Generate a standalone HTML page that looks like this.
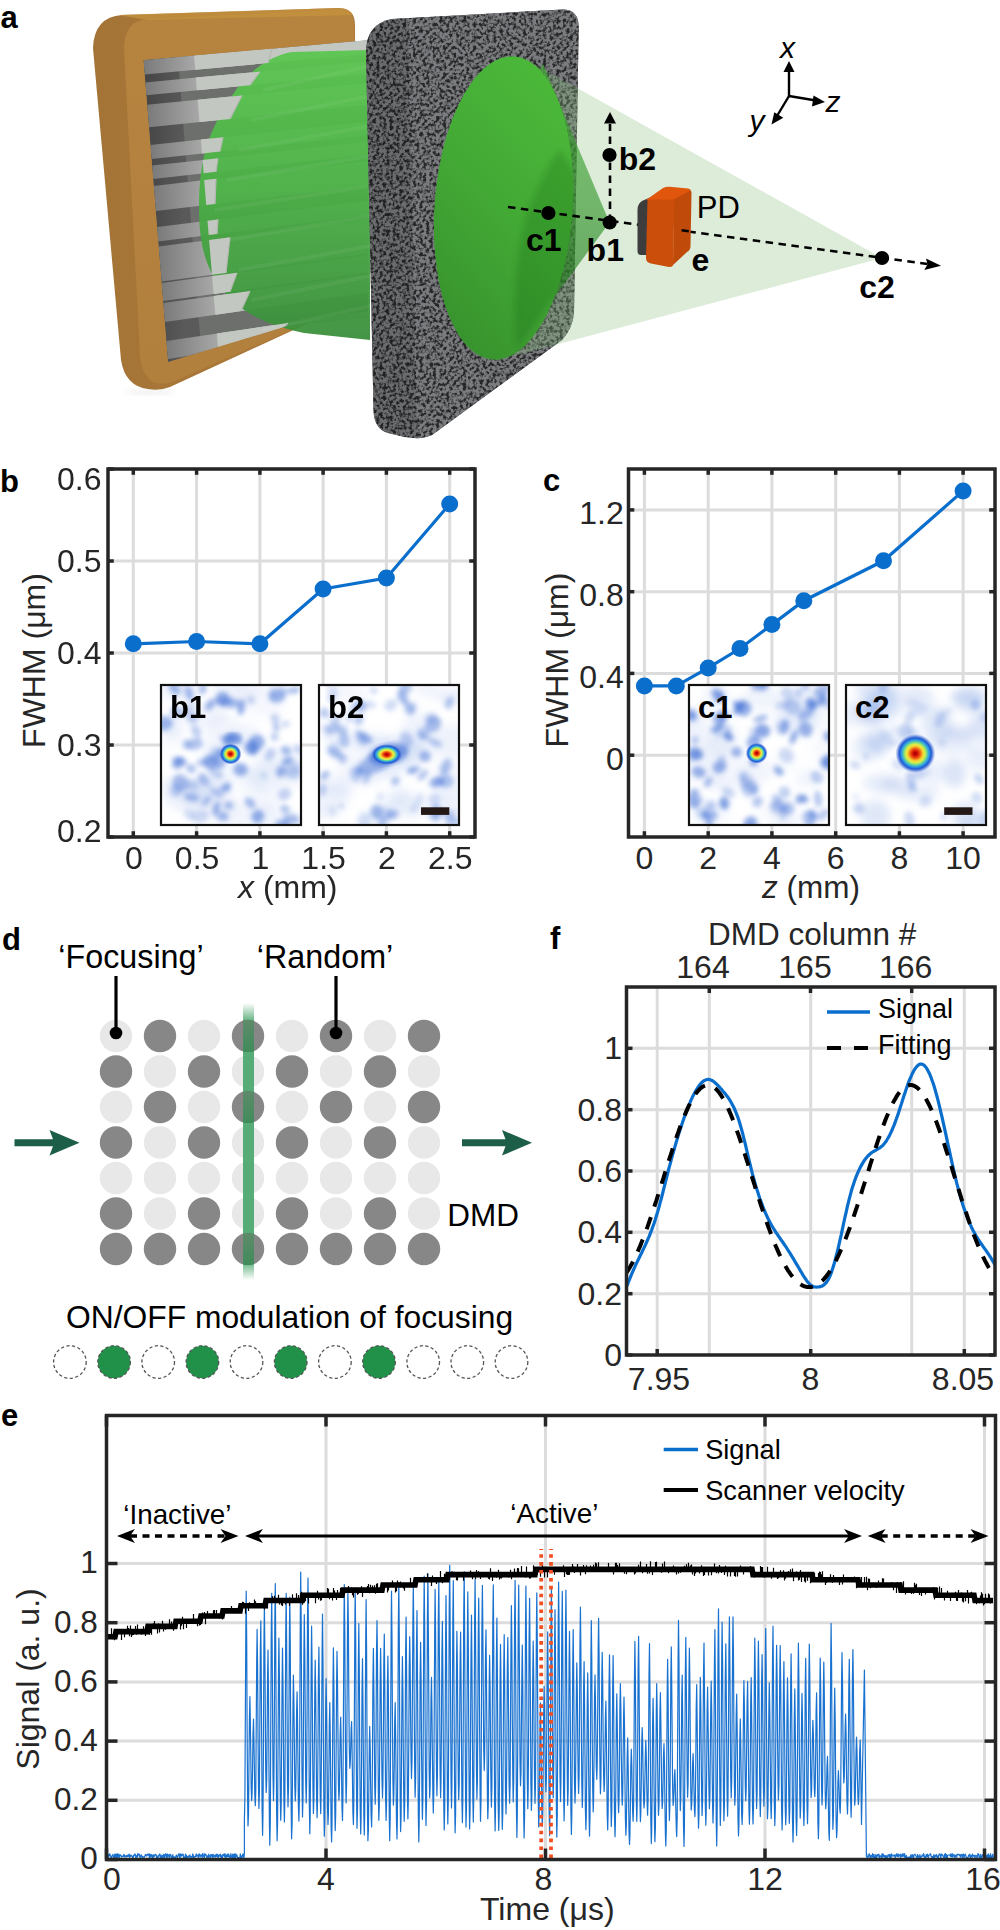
<!DOCTYPE html>
<html><head><meta charset="utf-8"><style>
html,body{margin:0;padding:0;background:#fff;width:1000px;height:1930px;overflow:hidden;}
svg{display:block;}
text{font-family:"Liberation Sans",sans-serif;}
</style></head><body>
<svg width="1000" height="1930" viewBox="0 0 1000 1930" font-family="Liberation Sans, sans-serif">
<rect width="1000" height="1930" fill="#fff"/>
<text x="0.5" y="28.0" font-size="31" text-anchor="start" font-weight="bold" fill="#000" >a</text>
<defs>
<linearGradient id="frameSide" x1="0" y1="0" x2="1" y2="0"><stop offset="0" stop-color="#a47436"/><stop offset="1" stop-color="#ad7b3b"/></linearGradient>
<linearGradient id="frameFront" x1="0" y1="0" x2="0" y2="1"><stop offset="0" stop-color="#b6843f"/><stop offset="1" stop-color="#b2803d"/></linearGradient>
<linearGradient id="stackBg" x1="0" y1="0" x2="1" y2="0"><stop offset="0" stop-color="#4a4a4a"/><stop offset="0.5" stop-color="#6e6e6e"/><stop offset="1" stop-color="#7a7d7a"/></linearGradient>
<linearGradient id="slab" x1="0" y1="0" x2="1" y2="0"><stop offset="0" stop-color="#8e8e8e"/><stop offset="0.45" stop-color="#b9bbb7"/><stop offset="1" stop-color="#c8ccc6"/></linearGradient>
<linearGradient id="beam" x1="0" y1="0" x2="0" y2="1"><stop offset="0" stop-color="#5bc650"/><stop offset="0.45" stop-color="#4cb246"/><stop offset="1" stop-color="#3b8f3c"/></linearGradient>
<linearGradient id="ellG" x1="0.75" y1="0" x2="0.25" y2="1"><stop offset="0" stop-color="#4cb93a"/><stop offset="0.5" stop-color="#43a935"/><stop offset="1" stop-color="#37922d"/></linearGradient>
<linearGradient id="innerCone" x1="0" y1="64" x2="0" y2="348" gradientUnits="userSpaceOnUse"><stop offset="0" stop-color="#35a828"/><stop offset="0.5" stop-color="#2a9020"/><stop offset="1" stop-color="#0c6a0c"/></linearGradient>
<filter id="speckle" x="0" y="0" width="1" height="1" color-interpolation-filters="sRGB">
<feTurbulence type="fractalNoise" baseFrequency="0.3" numOctaves="2" seed="9" result="n"/>
<feColorMatrix in="n" type="matrix" values="4.0 0 0 0 -1.3  4.0 0 0 0 -1.3  4.0 0 0 0 -1.3  0 0 0 0 1" result="c"/>
<feComponentTransfer in="c"><feFuncR type="linear" slope="0.33" intercept="0.15"/><feFuncG type="linear" slope="0.34" intercept="0.15"/><feFuncB type="linear" slope="0.345" intercept="0.155"/></feComponentTransfer>
</filter>
<filter id="blur1"><feGaussianBlur stdDeviation="1.2"/></filter>
<filter id="blur3"><feGaussianBlur stdDeviation="3"/></filter>
</defs>
<ellipse cx="150" cy="392" rx="25" ry="3" fill="#000" opacity="0.06" filter="url(#blur3)"/>
<path d="M93,48 Q94,17 122,15 L338,8 Q355,8 355,25 L356,300 L300,327 L170,387 Q160,391 148,389 Q125,386 121,360 Z" fill="url(#frameSide)"/>
<path d="M124,48 Q125,20 148,19 L340,10 Q354,10 354,26 L356,300 L300,326 L175,381 Q160,387 150,380 Q141,372 140,355 Z" fill="url(#frameFront)"/>
<path d="M118,15 L338,8 Q350,8 353,15 L148,20 Z" fill="#c8943f" opacity="0.7"/>
<linearGradient id="stackL" x1="143" y1="0" x2="185" y2="0" gradientUnits="userSpaceOnUse"><stop offset="0" stop-color="#444444"/><stop offset="1" stop-color="#5a5a5a"/></linearGradient>
<linearGradient id="slabSide" x1="0" y1="0" x2="1" y2="0"><stop offset="0" stop-color="#7a7a7a"/><stop offset="1" stop-color="#a8a8a8"/></linearGradient>
<clipPath id="stackclip"><path d="M143.5,60 L368,40 L368,318 L290,325 L168,362 Z"/></clipPath>
<g clip-path="url(#stackclip)">
<path d="M143.5,60 L368,40 L368,318 L290,325 L168,362 Z" fill="#6c6f6c"/>
<path d="M143.5,60 L178,57 L202,360 L168,362 Z" fill="url(#stackL)"/>
<path d="M194.5,55.5 L370,39.9 L370,53.7 L195.7,69.7 Z" fill="#c3c7c1"/>
<path d="M143.5,60 L194.5,55.5 L195.7,69.7 L144.7,74.4 Z" fill="url(#slabSide)"/>
<path d="M196.3,77.6 L370,61.4 L370,73.7 L197.4,90.3 Z" fill="#c3c7c1"/>
<path d="M145.3,82.4 L196.3,77.6 L197.4,90.3 L146.4,95.2 Z" fill="url(#slabSide)"/>
<path d="M198.1,99.8 L370,82.9 L370,104.4 L200.0,121.9 Z" fill="#c3c7c1"/>
<path d="M147.1,104.8 L198.1,99.8 L200.0,121.9 L149.0,127.2 Z" fill="url(#slabSide)"/>
<path d="M201.4,139.6 L370,121.6 L370,135.0 L202.5,153.4 Z" fill="#c3c7c1"/>
<path d="M150.4,145 L201.4,139.6 L202.5,153.4 L151.5,159 Z" fill="url(#slabSide)"/>
<path d="M203.1,159.9 L370,141.4 L370,154.3 L204.2,173.2 Z" fill="#c3c7c1"/>
<path d="M152.1,165.6 L203.1,159.9 L204.2,173.2 L153.2,179 Z" fill="url(#slabSide)"/>
<path d="M204.7,180.1 L370,161.1 L370,185.2 L206.8,204.9 Z" fill="#c3c7c1"/>
<path d="M153.7,186 L204.7,180.1 L206.8,204.9 L155.8,211 Z" fill="url(#slabSide)"/>
<path d="M208.0,220.7 L370,200.6 L370,214.7 L209.2,235.1 Z" fill="#c3c7c1"/>
<path d="M157.0,227 L208.0,220.7 L209.2,235.1 L158.2,241.6 Z" fill="url(#slabSide)"/>
<path d="M209.6,239.9 L370,219.3 L370,253.4 L212.5,274.7 Z" fill="#c3c7c1"/>
<path d="M158.6,246.4 L209.6,239.9 L212.5,274.7 L161.5,281.6 Z" fill="url(#slabSide)"/>
<path d="M212.6,276.1 L370,254.7 L370,272.1 L214.1,293.9 Z" fill="#c3c7c1"/>
<path d="M161.6,283 L212.6,276.1 L214.1,293.9 L163.1,301 Z" fill="url(#slabSide)"/>
<path d="M214.2,295.9 L370,274.1 L370,292.5 L215.8,314.7 Z" fill="#c3c7c1"/>
<path d="M163.2,303 L214.2,295.9 L215.8,314.7 L164.8,322 Z" fill="url(#slabSide)"/>
<path d="M217.3,333.5 L370,310.9 L370,328.3 L218.8,351.3 Z" fill="#c3c7c1"/>
<path d="M166.3,341 L217.3,333.5 L218.8,351.3 L167.8,359 Z" fill="url(#slabSide)"/>
</g>
<path d="M292,52 C270,56 250,70 236,90 C224,107 214,125 208,142 C201,162 199,185 199,208 C199,232 202,250 208,265 C215,282 226,296 240,307 C256,319 275,327 304,333 L370,340 L370,50 Z" fill="url(#beam)" opacity="0.95"/>
<g clip-path="url(#stackclip)">
<path d="M194.0,55.5 L272,48.6 L268,63.1 L195.2,69.7 Z" fill="#c3c7c1"/>
<path d="M272,48.6 L268,63.1" stroke="#b4b8b2" stroke-width="1.2"/>
<path d="M195.8,77.6 L260,71.7 L250,85.2 L196.9,90.3 Z" fill="#c3c7c1"/>
<path d="M260,71.7 L250,85.2" stroke="#b4b8b2" stroke-width="1.2"/>
<path d="M197.6,99.8 L242,95.5 L230,118.9 L199.5,121.9 Z" fill="#c3c7c1"/>
<path d="M242,95.5 L230,118.9" stroke="#b4b8b2" stroke-width="1.2"/>
<path d="M200.9,139.6 L223,137.3 L220,151.5 L202.0,153.4 Z" fill="#c3c7c1"/>
<path d="M223,137.3 L220,151.5" stroke="#b4b8b2" stroke-width="1.2"/>
<path d="M202.6,159.9 L218,158.3 L216,171.8 L203.7,173.2 Z" fill="#c3c7c1"/>
<path d="M218,158.3 L216,171.8" stroke="#b4b8b2" stroke-width="1.2"/>
<path d="M204.2,180.1 L216,178.8 L215,203.9 L206.2,204.9 Z" fill="#c3c7c1"/>
<path d="M216,178.8 L215,203.9" stroke="#b4b8b2" stroke-width="1.2"/>
<path d="M207.5,220.7 L218,219.4 L217,234.1 L208.7,235.1 Z" fill="#c3c7c1"/>
<path d="M218,219.4 L217,234.1" stroke="#b4b8b2" stroke-width="1.2"/>
<path d="M209.1,239.9 L230,237.3 L226,272.9 L212.0,274.7 Z" fill="#c3c7c1"/>
<path d="M230,237.3 L226,272.9" stroke="#b4b8b2" stroke-width="1.2"/>
<path d="M212.1,276.1 L237,272.8 L230,291.7 L213.6,293.9 Z" fill="#c3c7c1"/>
<path d="M237,272.8 L230,291.7" stroke="#b4b8b2" stroke-width="1.2"/>
<path d="M213.7,295.9 L250,290.9 L241,311.0 L215.3,314.7 Z" fill="#c3c7c1"/>
<path d="M250,290.9 L241,311.0" stroke="#b4b8b2" stroke-width="1.2"/>
<path d="M216.8,333.5 L288,323.0 L268,343.8 L218.3,351.3 Z" fill="#c3c7c1"/>
<path d="M288,323.0 L268,343.8" stroke="#b4b8b2" stroke-width="1.2"/>
</g>
<path d="M263,88 L370,64 L370,68 L263,92 Z" fill="#ffffff" opacity="0.05"/>
<path d="M251,118 L370,94 L370,98 L251,122 Z" fill="#ffffff" opacity="0.05"/>
<path d="M239,148 L370,124 L370,128 L239,152 Z" fill="#ffffff" opacity="0.05"/>
<path d="M227,178 L370,154 L370,158 L227,182 Z" fill="#ffffff" opacity="0.05"/>
<path d="M215,208 L370,184 L370,188 L215,212 Z" fill="#ffffff" opacity="0.05"/>
<path d="M227,238 L370,214 L370,218 L227,242 Z" fill="#ffffff" opacity="0.05"/>
<path d="M239,268 L370,244 L370,248 L239,272 Z" fill="#ffffff" opacity="0.05"/>
<path d="M251,298 L370,274 L370,278 L251,302 Z" fill="#ffffff" opacity="0.05"/>
<path d="M263,328 L370,304 L370,308 L263,332 Z" fill="#ffffff" opacity="0.05"/>
<defs><clipPath id="plateclip"><path d="M366,52 Q366,24 392,19 L562,9.5 Q578,9 578.7,26 L574,312 Q573,328 562,340 L432,435 Q422,440 405,437 L388,433 Q374,429 373.5,410 Z"/></clipPath></defs>
<path d="M366,52 Q366,24 392,19 L562,9.5 Q578,9 578.7,26 L574,312 Q573,328 562,340 L432,435 Q422,440 405,437 L388,433 Q374,429 373.5,410 Z" fill="#626367"/>
<g clip-path="url(#plateclip)"><rect x="360" y="5" width="225" height="440" fill="#66676b" filter="url(#speckle)"/></g>
<path d="M366,52 Q366,24 392,19 L408,18 L417,437 L405,437 L388,433 Q374,429 373.5,410 Z" fill="#000" opacity="0.13"/>
<path d="M528.2,60.7 L882,258 L503.6,358.6 L503.6,358.6 L506.8,357.6 L510.0,356.2 L513.2,354.6 L516.4,352.6 L519.6,350.3 L522.7,347.7 L525.8,344.8 L528.8,341.7 L531.8,338.2 L534.7,334.4 L537.5,330.4 L540.3,326.2 L543.0,321.6 L545.6,316.9 L548.1,311.8 L550.6,306.6 L552.9,301.2 L555.1,295.5 L557.2,289.7 L559.2,283.7 L561.1,277.5 L562.8,271.2 L564.5,264.8 L566.0,258.2 L567.3,251.5 L568.5,244.8 L569.6,237.9 L570.6,231.0 L571.4,224.0 L572.0,217.0 L572.5,210.0 L572.9,203.0 L573.1,196.0 L573.1,189.0 L573.1,182.0 L572.8,175.2 L572.4,168.3 L571.9,161.6 L571.2,155.0 L570.4,148.4 L569.4,142.1 L568.3,135.8 L567.1,129.7 L565.7,123.8 L564.2,118.0 L562.5,112.5 L560.7,107.1 L558.8,102.0 L556.8,97.1 L554.7,92.4 L552.4,88.0 L550.1,83.8 L547.7,79.9 L545.1,76.3 L542.5,72.9 L539.8,69.9 L537.0,67.1 L534.1,64.7 L531.2,62.5 L528.2,60.7 Z" fill="#8cc080" opacity="0.3"/>
<path d="M543,64 L609.5,222.5 L517,348 C512,300 512,200 520,140 C526,100 534,78 543,64 Z" fill="url(#innerCone)" opacity="0.6"/>
<path d="M572.3,212.8 L571.7,220.8 L570.8,228.8 L569.8,236.7 L568.6,244.5 L567.2,252.2 L565.6,259.8 L563.9,267.3 L561.9,274.6 L559.9,281.7 L557.6,288.5 L555.2,295.2 L552.7,301.7 L550.0,307.8 L547.2,313.7 L544.3,319.3 L541.3,324.6 L538.1,329.5 L534.9,334.2 L531.6,338.4 L528.2,342.3 L524.7,345.9 L521.2,349.0 L517.6,351.8 L514.0,354.1 L510.3,356.1 L506.6,357.6 L503.0,358.7 L499.3,359.4 L495.6,359.7 L492.0,359.6 L488.4,359.0 L484.8,358.0 L481.3,356.6 L477.8,354.8 L474.5,352.5 L471.2,349.9 L468.0,346.9 L464.8,343.4 L461.8,339.6 L459.0,335.5 L456.2,331.0 L453.6,326.1 L451.1,320.9 L448.7,315.4 L446.5,309.6 L444.5,303.5 L442.6,297.2 L440.9,290.6 L439.4,283.7 L438.0,276.7 L436.9,269.5 L435.9,262.0 L435.1,254.5 L434.5,246.8 L434.1,239.0 L433.9,231.1 L433.9,223.2 L434.0,215.2 L434.4,207.2 L435.0,199.2 L435.7,191.2 L436.7,183.3 L437.8,175.4 L439.1,167.6 L440.6,160.0 L442.3,152.4 L444.1,145.1 L446.1,137.9 L448.2,130.9 L450.6,124.1 L453.0,117.5 L455.6,111.2 L458.4,105.2 L461.2,99.5 L464.2,94.0 L467.3,88.9 L470.5,84.1 L473.8,79.6 L477.1,75.6 L480.6,71.8 L484.1,68.5 L487.6,65.5 L491.2,63.0 L494.9,60.8 L498.5,59.1 L502.2,57.8 L505.9,56.9 L509.5,56.4 L513.2,56.3 L516.8,56.7 L520.4,57.5 L524.0,58.7 L527.4,60.3 L530.9,62.3 L534.2,64.7 L537.5,67.6 L540.6,70.8 L543.7,74.4 L546.6,78.4 L549.4,82.7 L552.1,87.4 L554.7,92.5 L557.1,97.8 L559.4,103.5 L561.5,109.4 L563.5,115.6 L565.2,122.1 L566.9,128.8 L568.3,135.8 L569.6,142.9 L570.6,150.2 L571.5,157.7 L572.2,165.3 L572.7,173.1 L573.0,180.9 L573.1,188.8 L573.1,196.8 L572.8,204.8 L572.3,212.8 Z" fill="url(#ellG)"/>
<clipPath id="ellclip"><path d="M572.3,212.8 L571.7,220.8 L570.8,228.8 L569.8,236.7 L568.6,244.5 L567.2,252.2 L565.6,259.8 L563.9,267.3 L561.9,274.6 L559.9,281.7 L557.6,288.5 L555.2,295.2 L552.7,301.7 L550.0,307.8 L547.2,313.7 L544.3,319.3 L541.3,324.6 L538.1,329.5 L534.9,334.2 L531.6,338.4 L528.2,342.3 L524.7,345.9 L521.2,349.0 L517.6,351.8 L514.0,354.1 L510.3,356.1 L506.6,357.6 L503.0,358.7 L499.3,359.4 L495.6,359.7 L492.0,359.6 L488.4,359.0 L484.8,358.0 L481.3,356.6 L477.8,354.8 L474.5,352.5 L471.2,349.9 L468.0,346.9 L464.8,343.4 L461.8,339.6 L459.0,335.5 L456.2,331.0 L453.6,326.1 L451.1,320.9 L448.7,315.4 L446.5,309.6 L444.5,303.5 L442.6,297.2 L440.9,290.6 L439.4,283.7 L438.0,276.7 L436.9,269.5 L435.9,262.0 L435.1,254.5 L434.5,246.8 L434.1,239.0 L433.9,231.1 L433.9,223.2 L434.0,215.2 L434.4,207.2 L435.0,199.2 L435.7,191.2 L436.7,183.3 L437.8,175.4 L439.1,167.6 L440.6,160.0 L442.3,152.4 L444.1,145.1 L446.1,137.9 L448.2,130.9 L450.6,124.1 L453.0,117.5 L455.6,111.2 L458.4,105.2 L461.2,99.5 L464.2,94.0 L467.3,88.9 L470.5,84.1 L473.8,79.6 L477.1,75.6 L480.6,71.8 L484.1,68.5 L487.6,65.5 L491.2,63.0 L494.9,60.8 L498.5,59.1 L502.2,57.8 L505.9,56.9 L509.5,56.4 L513.2,56.3 L516.8,56.7 L520.4,57.5 L524.0,58.7 L527.4,60.3 L530.9,62.3 L534.2,64.7 L537.5,67.6 L540.6,70.8 L543.7,74.4 L546.6,78.4 L549.4,82.7 L552.1,87.4 L554.7,92.5 L557.1,97.8 L559.4,103.5 L561.5,109.4 L563.5,115.6 L565.2,122.1 L566.9,128.8 L568.3,135.8 L569.6,142.9 L570.6,150.2 L571.5,157.7 L572.2,165.3 L572.7,173.1 L573.0,180.9 L573.1,188.8 L573.1,196.8 L572.8,204.8 L572.3,212.8 Z"/></clipPath>
<g clip-path="url(#ellclip)"><path d="M560,150 L609.5,222.5 L517,348 C512,320 515,260 525,220 C535,190 548,165 560,150 Z" fill="#0f5a0c" opacity="0.22" filter="url(#blur3)"/></g>
<line x1="508" y1="207" x2="930" y2="264.4" stroke="#000" stroke-width="2.6" stroke-dasharray="7.5,5.5"/>
<path d="M941,265.8 L926,258.4 L927.6,264.2 L924.3,270 Z" fill="#000"/>
<line x1="610" y1="222" x2="610" y2="124" stroke="#000" stroke-width="2.6" stroke-dasharray="7.5,5.5"/>
<path d="M610,112 L604,123.5 L616,123.5 Z" fill="#000"/>
<path d="M637.5,210 Q637.5,203 643,200.5 L650,197.5 L650,255 L641,255 Q637.5,255 637.5,251 Z" fill="#3d3d3d"/>
<path d="M646,200 L663,188 Q666,186.5 670,186.8 L688,188.5 Q692,189 690,192 L675,200 Z" fill="#e0560c"/>
<path d="M674,199.5 L690,190.5 Q691.5,190 691.5,193 L690.5,246 Q690.5,250 687,252 L673,265 Z" fill="#c04a0a"/>
<path d="M647.5,199.5 L674.5,199.5 L673,265.5 Q672,267 669,267 L651,263.5 Q646,262.5 646,258 Z" fill="#cc4e0b"/>
<line x1="681.6" y1="230.3" x2="688.8" y2="231.2" stroke="#000" stroke-width="2.6"/>
<circle cx="548.4" cy="213" r="7.1" fill="#000"/>
<circle cx="609.7" cy="222.5" r="7.1" fill="#000"/>
<circle cx="609.5" cy="155" r="7.1" fill="#000"/>
<circle cx="882" cy="258" r="7.1" fill="#000"/>
<text x="526.0" y="251.2" font-size="32" text-anchor="start" font-weight="bold" fill="#000" >c1</text>
<text x="586.6" y="261.0" font-size="32" text-anchor="start" font-weight="bold" fill="#000" >b1</text>
<text x="618.8" y="170.0" font-size="32" text-anchor="start" font-weight="bold" fill="#000" >b2</text>
<text x="859.3" y="298.0" font-size="32" text-anchor="start" font-weight="bold" fill="#000" >c2</text>
<text x="691.5" y="271.0" font-size="32" text-anchor="start" font-weight="bold" fill="#000" >e</text>
<text x="696.8" y="217.7" font-size="31" text-anchor="start" fill="#000" >PD</text>
<g stroke="#000" stroke-width="2.4" fill="none"><line x1="789" y1="96" x2="789" y2="70"/><line x1="789" y1="96" x2="816" y2="100.5"/><line x1="789" y1="96" x2="777" y2="116"/></g>
<path d="M789,61 L783.5,72 L794.5,72 Z" fill="#000"/>
<path d="M825,102 L813.5,95.5 L812,106.5 Z" fill="#000"/>
<path d="M771.5,124.5 L774.3,112.2 L783.3,117.8 Z" fill="#000"/>
<text x="780" y="57.5" font-size="30" font-style="italic" fill="#000">x</text>
<text x="825.5" y="112" font-size="30" font-style="italic" fill="#000">z</text>
<text x="749.5" y="131" font-size="30" font-style="italic" fill="#000">y</text>
<text x="0.0" y="492.0" font-size="31" text-anchor="start" font-weight="bold" fill="#000" >b</text>
<g stroke="#dcdcdc" stroke-width="3"><line x1="133.3" y1="469" x2="133.3" y2="837" /><line x1="196.6" y1="469" x2="196.6" y2="837" /><line x1="259.9" y1="469" x2="259.9" y2="837" /><line x1="323.1" y1="469" x2="323.1" y2="837" /><line x1="386.4" y1="469" x2="386.4" y2="837" /><line x1="449.7" y1="469" x2="449.7" y2="837" /><line x1="108" y1="837.0" x2="475" y2="837.0" /><line x1="108" y1="745.0" x2="475" y2="745.0" /><line x1="108" y1="653.0" x2="475" y2="653.0" /><line x1="108" y1="561.0" x2="475" y2="561.0" /><line x1="108" y1="469.0" x2="475" y2="469.0" /></g>
<defs>
<filter id="iblur" x="-0.1" y="-0.1" width="1.2" height="1.2"><feGaussianBlur stdDeviation="2.6"/></filter>
<filter id="iblur2" x="-0.2" y="-0.2" width="1.4" height="1.4"><feGaussianBlur stdDeviation="5"/></filter>
<radialGradient id="jet">
<stop offset="0" stop-color="#960000"/>
<stop offset="0.13" stop-color="#d81208"/>
<stop offset="0.27" stop-color="#f26a18"/>
<stop offset="0.38" stop-color="#f6d232"/>
<stop offset="0.48" stop-color="#d8ee4a"/>
<stop offset="0.58" stop-color="#6ed692"/>
<stop offset="0.69" stop-color="#2c9ce6"/>
<stop offset="0.8" stop-color="#2258d2"/>
<stop offset="0.9" stop-color="#3a68d6" stop-opacity="0.55"/>
<stop offset="1" stop-color="#5a86de" stop-opacity="0"/>
</radialGradient>
</defs>
<defs><clipPath id="icb1"><rect x="161" y="685" width="140" height="140"/></clipPath></defs>
<rect x="161" y="685" width="140" height="140" fill="#fff"/>
<g clip-path="url(#icb1)">
<g filter="url(#iblur2)"><ellipse cx="186.2" cy="687.7" rx="16.5" ry="15.2" fill="#6f94e0" opacity="0.09"/><ellipse cx="229.0" cy="686.8" rx="16.8" ry="17.4" fill="#6f94e0" opacity="0.11"/><ellipse cx="263.2" cy="700.2" rx="22.5" ry="16.6" fill="#6f94e0" opacity="0.07"/><ellipse cx="249.5" cy="687.9" rx="11.6" ry="11.2" fill="#6f94e0" opacity="0.07"/><ellipse cx="267.3" cy="799.6" rx="14.8" ry="11.2" fill="#6f94e0" opacity="0.07"/><ellipse cx="172.8" cy="784.8" rx="18.4" ry="8.6" fill="#6f94e0" opacity="0.09"/><ellipse cx="217.2" cy="803.7" rx="20.0" ry="14.0" fill="#6f94e0" opacity="0.09"/><ellipse cx="293.9" cy="823.1" rx="14.7" ry="10.4" fill="#6f94e0" opacity="0.11"/><ellipse cx="169.9" cy="736.0" rx="11.0" ry="11.2" fill="#6f94e0" opacity="0.06"/><ellipse cx="201.6" cy="795.6" rx="22.7" ry="15.9" fill="#6f94e0" opacity="0.09"/><ellipse cx="247.2" cy="735.6" rx="12.4" ry="12.4" fill="#6f94e0" opacity="0.10"/><ellipse cx="169.8" cy="687.9" rx="20.8" ry="11.0" fill="#6f94e0" opacity="0.10"/><ellipse cx="263.9" cy="815.6" rx="15.6" ry="11.6" fill="#6f94e0" opacity="0.11"/><ellipse cx="268.0" cy="776.4" rx="21.4" ry="14.4" fill="#6f94e0" opacity="0.12"/><ellipse cx="207.7" cy="788.4" rx="23.3" ry="11.3" fill="#6f94e0" opacity="0.10"/><ellipse cx="212.2" cy="749.6" rx="11.1" ry="8.2" fill="#6f94e0" opacity="0.11"/><ellipse cx="224.4" cy="772.2" rx="20.4" ry="12.2" fill="#6f94e0" opacity="0.08"/><ellipse cx="184.7" cy="796.1" rx="21.7" ry="15.3" fill="#6f94e0" opacity="0.11"/><ellipse cx="251.7" cy="782.4" rx="12.7" ry="15.7" fill="#6f94e0" opacity="0.08"/><ellipse cx="222.3" cy="729.6" rx="18.0" ry="14.6" fill="#6f94e0" opacity="0.09"/><ellipse cx="205.5" cy="715.5" rx="21.8" ry="11.0" fill="#6f94e0" opacity="0.09"/><ellipse cx="173.8" cy="727.1" rx="11.2" ry="11.4" fill="#6f94e0" opacity="0.10"/><ellipse cx="297.4" cy="772.5" rx="13.8" ry="14.6" fill="#6f94e0" opacity="0.10"/><ellipse cx="276.6" cy="759.7" rx="22.8" ry="12.2" fill="#6f94e0" opacity="0.08"/><ellipse cx="233.7" cy="814.1" rx="20.1" ry="12.9" fill="#6f94e0" opacity="0.09"/></g>
<g filter="url(#iblur)"><ellipse cx="251.8" cy="747.7" rx="6.3" ry="7.7" transform="rotate(168 251.8 747.7)" fill="#4f7ad8" opacity="0.58"/><ellipse cx="178.8" cy="762.9" rx="5.2" ry="7.4" transform="rotate(56 178.8 762.9)" fill="#4f7ad8" opacity="0.62"/><ellipse cx="194.4" cy="743.9" rx="8.8" ry="5.9" transform="rotate(168 194.4 743.9)" fill="#4f7ad8" opacity="0.44"/><ellipse cx="192.9" cy="784.8" rx="6.1" ry="5.4" transform="rotate(25 192.9 784.8)" fill="#4f7ad8" opacity="0.27"/><ellipse cx="291.1" cy="818.8" rx="8.8" ry="4.7" transform="rotate(8 291.1 818.8)" fill="#4f7ad8" opacity="0.45"/><ellipse cx="264.1" cy="775.7" rx="3.3" ry="4.1" transform="rotate(127 264.1 775.7)" fill="#4f7ad8" opacity="0.22"/><ellipse cx="279.5" cy="823.5" rx="4.5" ry="3.3" transform="rotate(176 279.5 823.5)" fill="#4f7ad8" opacity="0.55"/><ellipse cx="224.6" cy="752.0" rx="8.5" ry="4.7" transform="rotate(10 224.6 752.0)" fill="#4f7ad8" opacity="0.48"/><ellipse cx="204.8" cy="780.4" rx="8.7" ry="4.7" transform="rotate(44 204.8 780.4)" fill="#4f7ad8" opacity="0.22"/><ellipse cx="277.4" cy="696.0" rx="8.7" ry="6.4" transform="rotate(164 277.4 696.0)" fill="#4f7ad8" opacity="0.57"/><ellipse cx="187.7" cy="709.6" rx="8.8" ry="4.4" transform="rotate(142 187.7 709.6)" fill="#4f7ad8" opacity="0.28"/><ellipse cx="202.9" cy="779.3" rx="4.5" ry="6.6" transform="rotate(158 202.9 779.3)" fill="#4f7ad8" opacity="0.34"/><ellipse cx="202.8" cy="688.9" rx="5.5" ry="3.3" transform="rotate(103 202.8 688.9)" fill="#4f7ad8" opacity="0.51"/><ellipse cx="240.6" cy="769.5" rx="6.6" ry="7.3" transform="rotate(96 240.6 769.5)" fill="#4f7ad8" opacity="0.59"/><ellipse cx="210.3" cy="704.7" rx="4.3" ry="6.8" transform="rotate(41 210.3 704.7)" fill="#4f7ad8" opacity="0.55"/><ellipse cx="287.4" cy="761.2" rx="3.9" ry="6.0" transform="rotate(68 287.4 761.2)" fill="#4f7ad8" opacity="0.61"/><ellipse cx="192.3" cy="717.8" rx="5.9" ry="5.4" transform="rotate(34 192.3 717.8)" fill="#4f7ad8" opacity="0.37"/><ellipse cx="254.5" cy="750.9" rx="3.4" ry="5.0" transform="rotate(75 254.5 750.9)" fill="#4f7ad8" opacity="0.40"/><ellipse cx="164.3" cy="723.4" rx="8.7" ry="7.2" transform="rotate(169 164.3 723.4)" fill="#4f7ad8" opacity="0.54"/><ellipse cx="221.8" cy="816.3" rx="4.8" ry="5.8" transform="rotate(106 221.8 816.3)" fill="#4f7ad8" opacity="0.40"/><ellipse cx="196.1" cy="731.3" rx="6.9" ry="4.4" transform="rotate(62 196.1 731.3)" fill="#4f7ad8" opacity="0.36"/><ellipse cx="206.5" cy="801.0" rx="6.3" ry="3.1" transform="rotate(133 206.5 801.0)" fill="#4f7ad8" opacity="0.43"/><ellipse cx="270.0" cy="754.2" rx="4.9" ry="7.0" transform="rotate(31 270.0 754.2)" fill="#4f7ad8" opacity="0.33"/><ellipse cx="228.8" cy="805.4" rx="3.7" ry="4.6" transform="rotate(96 228.8 805.4)" fill="#4f7ad8" opacity="0.51"/><ellipse cx="175.7" cy="790.7" rx="6.3" ry="5.5" transform="rotate(69 175.7 790.7)" fill="#4f7ad8" opacity="0.34"/><ellipse cx="285.7" cy="824.1" rx="4.1" ry="4.0" transform="rotate(120 285.7 824.1)" fill="#4f7ad8" opacity="0.54"/><ellipse cx="276.2" cy="727.3" rx="4.3" ry="3.3" transform="rotate(68 276.2 727.3)" fill="#4f7ad8" opacity="0.45"/><ellipse cx="283.2" cy="689.6" rx="3.5" ry="6.1" transform="rotate(121 283.2 689.6)" fill="#4f7ad8" opacity="0.26"/><ellipse cx="174.5" cy="688.9" rx="6.9" ry="4.3" transform="rotate(43 174.5 688.9)" fill="#4f7ad8" opacity="0.50"/><ellipse cx="177.9" cy="760.1" rx="3.5" ry="3.3" transform="rotate(120 177.9 760.1)" fill="#4f7ad8" opacity="0.56"/><ellipse cx="225.7" cy="741.3" rx="7.2" ry="3.4" transform="rotate(50 225.7 741.3)" fill="#4f7ad8" opacity="0.61"/><ellipse cx="293.9" cy="690.4" rx="3.0" ry="6.7" transform="rotate(81 293.9 690.4)" fill="#4f7ad8" opacity="0.54"/><ellipse cx="251.0" cy="747.7" rx="7.3" ry="5.9" transform="rotate(3 251.0 747.7)" fill="#4f7ad8" opacity="0.41"/><ellipse cx="284.5" cy="794.2" rx="6.9" ry="6.0" transform="rotate(147 284.5 794.2)" fill="#4f7ad8" opacity="0.33"/><ellipse cx="216.2" cy="773.3" rx="7.9" ry="4.5" transform="rotate(30 216.2 773.3)" fill="#4f7ad8" opacity="0.32"/><ellipse cx="222.5" cy="698.8" rx="6.8" ry="7.3" transform="rotate(62 222.5 698.8)" fill="#4f7ad8" opacity="0.63"/><ellipse cx="219.7" cy="760.0" rx="8.9" ry="6.4" transform="rotate(91 219.7 760.0)" fill="#4f7ad8" opacity="0.54"/><ellipse cx="227.3" cy="786.0" rx="4.3" ry="3.4" transform="rotate(108 227.3 786.0)" fill="#4f7ad8" opacity="0.44"/><ellipse cx="225.5" cy="701.4" rx="8.6" ry="3.5" transform="rotate(174 225.5 701.4)" fill="#4f7ad8" opacity="0.34"/><ellipse cx="200.5" cy="816.6" rx="8.8" ry="6.4" transform="rotate(172 200.5 816.6)" fill="#4f7ad8" opacity="0.28"/><ellipse cx="280.9" cy="771.5" rx="4.8" ry="5.9" transform="rotate(20 280.9 771.5)" fill="#4f7ad8" opacity="0.56"/><ellipse cx="250.9" cy="700.0" rx="4.3" ry="4.4" transform="rotate(85 250.9 700.0)" fill="#4f7ad8" opacity="0.30"/><ellipse cx="202.7" cy="762.2" rx="3.9" ry="6.6" transform="rotate(81 202.7 762.2)" fill="#4f7ad8" opacity="0.38"/><ellipse cx="241.3" cy="707.1" rx="8.3" ry="3.6" transform="rotate(98 241.3 707.1)" fill="#4f7ad8" opacity="0.63"/><ellipse cx="180.5" cy="782.8" rx="8.9" ry="7.8" transform="rotate(63 180.5 782.8)" fill="#4f7ad8" opacity="0.48"/><ellipse cx="292.9" cy="772.4" rx="8.2" ry="6.3" transform="rotate(7 292.9 772.4)" fill="#4f7ad8" opacity="0.36"/><ellipse cx="286.1" cy="750.6" rx="5.6" ry="4.5" transform="rotate(29 286.1 750.6)" fill="#4f7ad8" opacity="0.50"/><ellipse cx="216.3" cy="808.5" rx="3.3" ry="7.2" transform="rotate(17 216.3 808.5)" fill="#4f7ad8" opacity="0.57"/><ellipse cx="225.1" cy="788.6" rx="5.7" ry="3.8" transform="rotate(171 225.1 788.6)" fill="#4f7ad8" opacity="0.49"/><ellipse cx="191.1" cy="768.5" rx="4.3" ry="4.9" transform="rotate(107 191.1 768.5)" fill="#4f7ad8" opacity="0.47"/><ellipse cx="176.1" cy="712.0" rx="5.7" ry="5.5" transform="rotate(154 176.1 712.0)" fill="#4f7ad8" opacity="0.46"/><ellipse cx="274.6" cy="736.8" rx="4.1" ry="4.3" transform="rotate(4 274.6 736.8)" fill="#4f7ad8" opacity="0.36"/><ellipse cx="250.0" cy="802.9" rx="4.4" ry="6.4" transform="rotate(135 250.0 802.9)" fill="#4f7ad8" opacity="0.51"/><ellipse cx="295.9" cy="766.2" rx="5.7" ry="5.6" transform="rotate(1 295.9 766.2)" fill="#4f7ad8" opacity="0.20"/><ellipse cx="230.1" cy="737.7" rx="3.8" ry="4.7" transform="rotate(115 230.1 737.7)" fill="#4f7ad8" opacity="0.44"/><ellipse cx="216.5" cy="792.8" rx="3.3" ry="7.3" transform="rotate(122 216.5 792.8)" fill="#4f7ad8" opacity="0.39"/><ellipse cx="257.8" cy="816.5" rx="6.9" ry="6.2" transform="rotate(126 257.8 816.5)" fill="#4f7ad8" opacity="0.61"/><ellipse cx="285.5" cy="724.1" rx="3.1" ry="4.3" transform="rotate(66 285.5 724.1)" fill="#4f7ad8" opacity="0.31"/><ellipse cx="225.0" cy="816.3" rx="4.1" ry="4.8" transform="rotate(150 225.0 816.3)" fill="#4f7ad8" opacity="0.26"/><ellipse cx="210.3" cy="762.1" rx="7.6" ry="7.1" transform="rotate(46 210.3 762.1)" fill="#4f7ad8" opacity="0.63"/><ellipse cx="221.9" cy="703.3" rx="4.0" ry="5.1" transform="rotate(146 221.9 703.3)" fill="#4f7ad8" opacity="0.23"/><ellipse cx="191.5" cy="797.2" rx="7.9" ry="4.0" transform="rotate(10 191.5 797.2)" fill="#4f7ad8" opacity="0.49"/><ellipse cx="272.2" cy="692.0" rx="6.1" ry="3.7" transform="rotate(108 272.2 692.0)" fill="#4f7ad8" opacity="0.25"/><ellipse cx="179.4" cy="760.7" rx="8.7" ry="3.1" transform="rotate(18 179.4 760.7)" fill="#4f7ad8" opacity="0.29"/><ellipse cx="275.1" cy="718.6" rx="4.6" ry="5.1" transform="rotate(154 275.1 718.6)" fill="#4f7ad8" opacity="0.33"/><ellipse cx="227.0" cy="751.5" rx="6.0" ry="5.1" transform="rotate(145 227.0 751.5)" fill="#4f7ad8" opacity="0.29"/><ellipse cx="231.6" cy="703.3" rx="8.2" ry="5.0" transform="rotate(180 231.6 703.3)" fill="#4f7ad8" opacity="0.50"/><ellipse cx="189.6" cy="814.5" rx="4.8" ry="6.1" transform="rotate(138 189.6 814.5)" fill="#4f7ad8" opacity="0.25"/><ellipse cx="186.8" cy="744.7" rx="5.2" ry="4.5" transform="rotate(49 186.8 744.7)" fill="#4f7ad8" opacity="0.36"/><ellipse cx="298.4" cy="749.2" rx="5.7" ry="4.2" transform="rotate(34 298.4 749.2)" fill="#4f7ad8" opacity="0.32"/><ellipse cx="285.0" cy="809.1" rx="4.0" ry="4.9" transform="rotate(104 285.0 809.1)" fill="#4f7ad8" opacity="0.45"/><ellipse cx="189.2" cy="693.6" rx="7.8" ry="3.6" transform="rotate(72 189.2 693.6)" fill="#4f7ad8" opacity="0.54"/><ellipse cx="256.9" cy="742.2" rx="7.8" ry="7.8" transform="rotate(86 256.9 742.2)" fill="#4f7ad8" opacity="0.60"/><ellipse cx="233.9" cy="739.4" rx="8.9" ry="6.7" transform="rotate(24 233.9 739.4)" fill="#4f7ad8" opacity="0.44"/><ellipse cx="214.1" cy="754.4" rx="7.5" ry="4.6" transform="rotate(108 214.1 754.4)" fill="#4f7ad8" opacity="0.31"/></g>
<ellipse cx="233.5" cy="738" rx="8" ry="5" fill="#3f6fd6" opacity="0.55" filter="url(#iblur)"/>
<ellipse cx="230.5" cy="754" rx="11" ry="10.5" fill="url(#jet)"/>
</g>
<rect x="161" y="685" width="140" height="140" fill="none" stroke="#111" stroke-width="2.2"/>
<text x="170.0" y="717.5" font-size="31" text-anchor="start" font-weight="bold" fill="#000" >b1</text>
<defs><clipPath id="icb2"><rect x="319" y="685" width="140" height="140"/></clipPath></defs>
<rect x="319" y="685" width="140" height="140" fill="#fff"/>
<g clip-path="url(#icb2)">
<g filter="url(#iblur2)"><ellipse cx="340.6" cy="788.6" rx="13.7" ry="13.3" fill="#6f94e0" opacity="0.07"/><ellipse cx="447.6" cy="811.1" rx="10.5" ry="17.6" fill="#6f94e0" opacity="0.08"/><ellipse cx="358.7" cy="769.9" rx="23.2" ry="16.5" fill="#6f94e0" opacity="0.07"/><ellipse cx="392.0" cy="762.3" rx="16.8" ry="15.7" fill="#6f94e0" opacity="0.08"/><ellipse cx="426.0" cy="687.9" rx="11.9" ry="9.2" fill="#6f94e0" opacity="0.09"/><ellipse cx="413.0" cy="751.0" rx="21.4" ry="10.9" fill="#6f94e0" opacity="0.12"/><ellipse cx="417.4" cy="730.9" rx="14.7" ry="17.8" fill="#6f94e0" opacity="0.11"/><ellipse cx="452.0" cy="792.4" rx="21.6" ry="12.1" fill="#6f94e0" opacity="0.10"/><ellipse cx="375.1" cy="824.3" rx="12.5" ry="17.6" fill="#6f94e0" opacity="0.10"/><ellipse cx="378.4" cy="749.8" rx="15.2" ry="12.7" fill="#6f94e0" opacity="0.07"/><ellipse cx="330.8" cy="787.6" rx="18.9" ry="8.3" fill="#6f94e0" opacity="0.09"/><ellipse cx="349.9" cy="692.7" rx="17.3" ry="12.2" fill="#6f94e0" opacity="0.07"/><ellipse cx="399.1" cy="797.5" rx="11.6" ry="10.8" fill="#6f94e0" opacity="0.11"/><ellipse cx="388.0" cy="755.9" rx="16.5" ry="16.9" fill="#6f94e0" opacity="0.11"/><ellipse cx="403.5" cy="747.1" rx="16.7" ry="16.9" fill="#6f94e0" opacity="0.08"/><ellipse cx="451.2" cy="695.3" rx="18.3" ry="8.3" fill="#6f94e0" opacity="0.12"/><ellipse cx="408.2" cy="805.7" rx="23.2" ry="12.5" fill="#6f94e0" opacity="0.12"/><ellipse cx="448.4" cy="771.7" rx="14.5" ry="11.2" fill="#6f94e0" opacity="0.09"/><ellipse cx="453.0" cy="741.8" rx="23.3" ry="16.6" fill="#6f94e0" opacity="0.12"/><ellipse cx="319.5" cy="811.0" rx="22.9" ry="8.1" fill="#6f94e0" opacity="0.12"/><ellipse cx="372.9" cy="768.4" rx="18.6" ry="14.0" fill="#6f94e0" opacity="0.09"/><ellipse cx="328.8" cy="797.1" rx="22.8" ry="9.9" fill="#6f94e0" opacity="0.08"/><ellipse cx="371.8" cy="741.4" rx="22.4" ry="10.0" fill="#6f94e0" opacity="0.10"/><ellipse cx="409.7" cy="756.6" rx="14.7" ry="15.8" fill="#6f94e0" opacity="0.08"/><ellipse cx="345.8" cy="741.4" rx="21.0" ry="10.5" fill="#6f94e0" opacity="0.08"/></g>
<g filter="url(#iblur)"><ellipse cx="449.3" cy="702.7" rx="6.6" ry="4.4" transform="rotate(113 449.3 702.7)" fill="#4f7ad8" opacity="0.41"/><ellipse cx="328.5" cy="734.8" rx="5.0" ry="3.9" transform="rotate(1 328.5 734.8)" fill="#4f7ad8" opacity="0.15"/><ellipse cx="402.6" cy="696.8" rx="4.9" ry="7.6" transform="rotate(157 402.6 696.8)" fill="#4f7ad8" opacity="0.52"/><ellipse cx="342.8" cy="729.4" rx="4.5" ry="5.4" transform="rotate(98 342.8 729.4)" fill="#4f7ad8" opacity="0.31"/><ellipse cx="422.9" cy="775.1" rx="7.0" ry="3.7" transform="rotate(134 422.9 775.1)" fill="#4f7ad8" opacity="0.41"/><ellipse cx="360.8" cy="737.6" rx="8.9" ry="4.7" transform="rotate(62 360.8 737.6)" fill="#4f7ad8" opacity="0.40"/><ellipse cx="405.6" cy="686.9" rx="6.4" ry="6.7" transform="rotate(171 405.6 686.9)" fill="#4f7ad8" opacity="0.43"/><ellipse cx="335.3" cy="719.5" rx="5.5" ry="6.0" transform="rotate(17 335.3 719.5)" fill="#4f7ad8" opacity="0.31"/><ellipse cx="364.1" cy="821.0" rx="8.8" ry="6.6" transform="rotate(93 364.1 821.0)" fill="#4f7ad8" opacity="0.22"/><ellipse cx="451.9" cy="814.1" rx="8.3" ry="3.2" transform="rotate(139 451.9 814.1)" fill="#4f7ad8" opacity="0.19"/><ellipse cx="445.8" cy="767.3" rx="8.9" ry="5.1" transform="rotate(113 445.8 767.3)" fill="#4f7ad8" opacity="0.46"/><ellipse cx="355.4" cy="774.4" rx="8.0" ry="5.5" transform="rotate(76 355.4 774.4)" fill="#4f7ad8" opacity="0.36"/><ellipse cx="451.4" cy="824.9" rx="7.0" ry="6.8" transform="rotate(177 451.4 824.9)" fill="#4f7ad8" opacity="0.21"/><ellipse cx="322.7" cy="789.5" rx="6.7" ry="3.5" transform="rotate(94 322.7 789.5)" fill="#4f7ad8" opacity="0.35"/><ellipse cx="359.0" cy="719.8" rx="4.1" ry="5.8" transform="rotate(28 359.0 719.8)" fill="#4f7ad8" opacity="0.43"/><ellipse cx="439.2" cy="781.1" rx="4.6" ry="4.9" transform="rotate(92 439.2 781.1)" fill="#4f7ad8" opacity="0.29"/><ellipse cx="395.4" cy="781.1" rx="4.8" ry="4.0" transform="rotate(142 395.4 781.1)" fill="#4f7ad8" opacity="0.46"/><ellipse cx="324.8" cy="775.4" rx="3.8" ry="5.6" transform="rotate(52 324.8 775.4)" fill="#4f7ad8" opacity="0.48"/><ellipse cx="332.6" cy="810.7" rx="5.1" ry="3.6" transform="rotate(82 332.6 810.7)" fill="#4f7ad8" opacity="0.18"/><ellipse cx="422.6" cy="735.9" rx="5.0" ry="3.5" transform="rotate(34 422.6 735.9)" fill="#4f7ad8" opacity="0.36"/><ellipse cx="334.8" cy="752.7" rx="8.6" ry="4.9" transform="rotate(32 334.8 752.7)" fill="#4f7ad8" opacity="0.47"/><ellipse cx="411.5" cy="770.9" rx="3.7" ry="4.7" transform="rotate(85 411.5 770.9)" fill="#4f7ad8" opacity="0.30"/><ellipse cx="350.1" cy="716.8" rx="3.9" ry="6.5" transform="rotate(22 350.1 716.8)" fill="#4f7ad8" opacity="0.28"/><ellipse cx="373.8" cy="690.3" rx="3.9" ry="3.8" transform="rotate(139 373.8 690.3)" fill="#4f7ad8" opacity="0.25"/><ellipse cx="423.6" cy="733.6" rx="7.0" ry="6.1" transform="rotate(42 423.6 733.6)" fill="#4f7ad8" opacity="0.32"/><ellipse cx="413.7" cy="769.7" rx="6.7" ry="3.2" transform="rotate(163 413.7 769.7)" fill="#4f7ad8" opacity="0.51"/><ellipse cx="344.0" cy="739.3" rx="8.4" ry="5.2" transform="rotate(78 344.0 739.3)" fill="#4f7ad8" opacity="0.43"/><ellipse cx="341.5" cy="805.9" rx="3.1" ry="3.4" transform="rotate(68 341.5 805.9)" fill="#4f7ad8" opacity="0.25"/><ellipse cx="390.8" cy="705.1" rx="6.8" ry="5.6" transform="rotate(149 390.8 705.1)" fill="#4f7ad8" opacity="0.26"/><ellipse cx="342.9" cy="758.7" rx="4.5" ry="5.2" transform="rotate(21 342.9 758.7)" fill="#4f7ad8" opacity="0.39"/><ellipse cx="436.1" cy="812.7" rx="8.7" ry="5.8" transform="rotate(93 436.1 812.7)" fill="#4f7ad8" opacity="0.46"/><ellipse cx="413.1" cy="707.9" rx="5.6" ry="3.7" transform="rotate(102 413.1 707.9)" fill="#4f7ad8" opacity="0.35"/><ellipse cx="382.5" cy="823.7" rx="8.4" ry="3.7" transform="rotate(109 382.5 823.7)" fill="#4f7ad8" opacity="0.34"/><ellipse cx="435.0" cy="815.1" rx="8.0" ry="3.1" transform="rotate(160 435.0 815.1)" fill="#4f7ad8" opacity="0.22"/><ellipse cx="365.8" cy="737.8" rx="7.9" ry="4.0" transform="rotate(32 365.8 737.8)" fill="#4f7ad8" opacity="0.55"/><ellipse cx="325.3" cy="728.5" rx="5.5" ry="4.1" transform="rotate(49 325.3 728.5)" fill="#4f7ad8" opacity="0.19"/><ellipse cx="432.5" cy="719.4" rx="6.8" ry="4.7" transform="rotate(1 432.5 719.4)" fill="#4f7ad8" opacity="0.25"/><ellipse cx="435.2" cy="742.6" rx="3.5" ry="7.7" transform="rotate(117 435.2 742.6)" fill="#4f7ad8" opacity="0.41"/><ellipse cx="448.9" cy="815.6" rx="8.3" ry="4.9" transform="rotate(50 448.9 815.6)" fill="#4f7ad8" opacity="0.34"/><ellipse cx="425.0" cy="756.2" rx="5.3" ry="5.9" transform="rotate(116 425.0 756.2)" fill="#4f7ad8" opacity="0.54"/><ellipse cx="406.0" cy="740.1" rx="8.6" ry="6.5" transform="rotate(78 406.0 740.1)" fill="#4f7ad8" opacity="0.33"/><ellipse cx="458.8" cy="819.9" rx="3.0" ry="7.1" transform="rotate(65 458.8 819.9)" fill="#4f7ad8" opacity="0.31"/><ellipse cx="360.2" cy="771.1" rx="4.1" ry="4.0" transform="rotate(39 360.2 771.1)" fill="#4f7ad8" opacity="0.37"/><ellipse cx="333.4" cy="728.6" rx="7.8" ry="5.3" transform="rotate(172 333.4 728.6)" fill="#4f7ad8" opacity="0.44"/><ellipse cx="335.1" cy="747.7" rx="6.2" ry="7.3" transform="rotate(166 335.1 747.7)" fill="#4f7ad8" opacity="0.17"/><ellipse cx="446.4" cy="781.5" rx="6.4" ry="7.4" transform="rotate(73 446.4 781.5)" fill="#4f7ad8" opacity="0.42"/><ellipse cx="434.6" cy="799.2" rx="6.4" ry="5.7" transform="rotate(154 434.6 799.2)" fill="#4f7ad8" opacity="0.23"/><ellipse cx="419.2" cy="799.2" rx="3.7" ry="7.1" transform="rotate(23 419.2 799.2)" fill="#4f7ad8" opacity="0.17"/><ellipse cx="384.9" cy="816.4" rx="8.7" ry="5.8" transform="rotate(146 384.9 816.4)" fill="#4f7ad8" opacity="0.25"/><ellipse cx="408.8" cy="708.2" rx="4.5" ry="7.5" transform="rotate(162 408.8 708.2)" fill="#4f7ad8" opacity="0.45"/><ellipse cx="385.3" cy="808.3" rx="4.0" ry="5.4" transform="rotate(108 385.3 808.3)" fill="#4f7ad8" opacity="0.16"/><ellipse cx="433.2" cy="724.4" rx="8.6" ry="7.5" transform="rotate(142 433.2 724.4)" fill="#4f7ad8" opacity="0.48"/><ellipse cx="361.4" cy="707.2" rx="5.2" ry="4.9" transform="rotate(168 361.4 707.2)" fill="#4f7ad8" opacity="0.48"/><ellipse cx="436.7" cy="782.1" rx="7.8" ry="5.2" transform="rotate(162 436.7 782.1)" fill="#4f7ad8" opacity="0.54"/><ellipse cx="376.6" cy="811.8" rx="7.3" ry="6.1" transform="rotate(95 376.6 811.8)" fill="#4f7ad8" opacity="0.53"/><ellipse cx="369.8" cy="704.6" rx="3.4" ry="6.9" transform="rotate(97 369.8 704.6)" fill="#4f7ad8" opacity="0.25"/><ellipse cx="366.9" cy="777.1" rx="7.5" ry="3.4" transform="rotate(112 366.9 777.1)" fill="#4f7ad8" opacity="0.39"/><ellipse cx="430.3" cy="716.4" rx="4.0" ry="6.6" transform="rotate(70 430.3 716.4)" fill="#4f7ad8" opacity="0.20"/><ellipse cx="380.3" cy="796.8" rx="5.1" ry="4.0" transform="rotate(138 380.3 796.8)" fill="#4f7ad8" opacity="0.18"/><ellipse cx="332.4" cy="688.8" rx="7.8" ry="4.7" transform="rotate(37 332.4 688.8)" fill="#4f7ad8" opacity="0.15"/><ellipse cx="356.5" cy="704.9" rx="8.2" ry="3.5" transform="rotate(138 356.5 704.9)" fill="#4f7ad8" opacity="0.36"/><ellipse cx="324.5" cy="712.9" rx="5.1" ry="4.8" transform="rotate(53 324.5 712.9)" fill="#4f7ad8" opacity="0.41"/><ellipse cx="331.9" cy="696.6" rx="6.2" ry="4.5" transform="rotate(121 331.9 696.6)" fill="#4f7ad8" opacity="0.26"/><ellipse cx="414.1" cy="808.2" rx="5.1" ry="4.2" transform="rotate(134 414.1 808.2)" fill="#4f7ad8" opacity="0.20"/><ellipse cx="392.2" cy="814.5" rx="4.8" ry="6.6" transform="rotate(73 392.2 814.5)" fill="#4f7ad8" opacity="0.49"/></g>
<ellipse cx="376.7" cy="762.5" rx="22" ry="9" transform="rotate(-25 376.7 762.5)" fill="#3f6fd6" opacity="0.45" filter="url(#iblur)"/>
<ellipse cx="388.7" cy="754.5" rx="20" ry="10" transform="rotate(-12 386.7 754.5)" fill="#2f62d0" opacity="0.6" filter="url(#iblur)"/>
<ellipse cx="386.7" cy="754.5" rx="15.5" ry="10.5" fill="url(#jet)"/>
</g>
<rect x="319" y="685" width="140" height="140" fill="none" stroke="#111" stroke-width="2.2"/>
<text x="328.0" y="717.5" font-size="31" text-anchor="start" font-weight="bold" fill="#000" >b2</text>
<rect x="421" y="807.3" width="28.3" height="7.6" fill="#231815"/>
<polyline points="133.3,643.8 196.6,641.5 259.9,643.8 323.1,589.0 386.4,578.0 449.7,504.0" fill="none" stroke="#0a6ecc" stroke-width="3.2"/>
<circle cx="133.3" cy="643.8" r="8.5" fill="#0a6ecc"/>
<circle cx="196.6" cy="641.5" r="8.5" fill="#0a6ecc"/>
<circle cx="259.9" cy="643.8" r="8.5" fill="#0a6ecc"/>
<circle cx="323.1" cy="589.0" r="8.5" fill="#0a6ecc"/>
<circle cx="386.4" cy="578.0" r="8.5" fill="#0a6ecc"/>
<circle cx="449.7" cy="504.0" r="8.5" fill="#0a6ecc"/>
<g stroke="#262626" stroke-width="3.5"><line x1="133.3" y1="837" x2="133.3" y2="831.2" /><line x1="196.6" y1="837" x2="196.6" y2="831.2" /><line x1="259.9" y1="837" x2="259.9" y2="831.2" /><line x1="323.1" y1="837" x2="323.1" y2="831.2" /><line x1="386.4" y1="837" x2="386.4" y2="831.2" /><line x1="449.7" y1="837" x2="449.7" y2="831.2" /><line x1="133.3" y1="469" x2="133.3" y2="474.8" /><line x1="196.6" y1="469" x2="196.6" y2="474.8" /><line x1="259.9" y1="469" x2="259.9" y2="474.8" /><line x1="323.1" y1="469" x2="323.1" y2="474.8" /><line x1="386.4" y1="469" x2="386.4" y2="474.8" /><line x1="449.7" y1="469" x2="449.7" y2="474.8" /><line x1="108" y1="837.0" x2="113.8" y2="837.0" /><line x1="475" y1="837.0" x2="469.2" y2="837.0" /><line x1="108" y1="745.0" x2="113.8" y2="745.0" /><line x1="475" y1="745.0" x2="469.2" y2="745.0" /><line x1="108" y1="653.0" x2="113.8" y2="653.0" /><line x1="475" y1="653.0" x2="469.2" y2="653.0" /><line x1="108" y1="561.0" x2="113.8" y2="561.0" /><line x1="475" y1="561.0" x2="469.2" y2="561.0" /><line x1="108" y1="469.0" x2="113.8" y2="469.0" /><line x1="475" y1="469.0" x2="469.2" y2="469.0" /></g>
<rect x="108" y="469" width="367" height="368" fill="none" stroke="#262626" stroke-width="3.5" stroke-linejoin="miter"/>
<text x="101.5" y="842.0" font-size="32" text-anchor="end" fill="#262626" >0.2</text>
<text x="101.5" y="756.1" font-size="32" text-anchor="end" fill="#262626" >0.3</text>
<text x="101.5" y="663.7" font-size="32" text-anchor="end" fill="#262626" >0.4</text>
<text x="101.5" y="571.9" font-size="32" text-anchor="end" fill="#262626" >0.5</text>
<text x="101.5" y="489.8" font-size="32" text-anchor="end" fill="#262626" >0.6</text>
<text x="133.8" y="868.8" font-size="32" text-anchor="middle" fill="#262626" >0</text>
<text x="197.1" y="868.8" font-size="32" text-anchor="middle" fill="#262626" >0.5</text>
<text x="260.4" y="868.8" font-size="32" text-anchor="middle" fill="#262626" >1</text>
<text x="323.6" y="868.8" font-size="32" text-anchor="middle" fill="#262626" >1.5</text>
<text x="386.9" y="868.8" font-size="32" text-anchor="middle" fill="#262626" >2</text>
<text x="450.2" y="868.8" font-size="32" text-anchor="middle" fill="#262626" >2.5</text>
<text x="238" y="898" font-size="32" fill="#262626"><tspan font-style="italic">x</tspan> (mm)</text>
<text transform="translate(44.8,660.5) rotate(-90)" x="0" y="0" font-size="32" text-anchor="middle" fill="#262626">FWHM (μm)</text>
<text x="543.0" y="491.0" font-size="31" text-anchor="start" font-weight="bold" fill="#000" >c</text>
<g stroke="#dcdcdc" stroke-width="3"><line x1="644.4" y1="469" x2="644.4" y2="837" /><line x1="708.2" y1="469" x2="708.2" y2="837" /><line x1="771.9" y1="469" x2="771.9" y2="837" /><line x1="835.7" y1="469" x2="835.7" y2="837" /><line x1="899.4" y1="469" x2="899.4" y2="837" /><line x1="963.1" y1="469" x2="963.1" y2="837" /><line x1="628.5" y1="755.2" x2="995" y2="755.2" /><line x1="628.5" y1="673.4" x2="995" y2="673.4" /><line x1="628.5" y1="591.7" x2="995" y2="591.7" /><line x1="628.5" y1="509.9" x2="995" y2="509.9" /></g>
<defs><clipPath id="icc1"><rect x="689" y="685" width="140" height="140"/></clipPath></defs>
<rect x="689" y="685" width="140" height="140" fill="#fff"/>
<g clip-path="url(#icc1)">
<g filter="url(#iblur2)"><ellipse cx="797.9" cy="718.3" rx="21.5" ry="17.7" fill="#6f94e0" opacity="0.10"/><ellipse cx="752.5" cy="770.3" rx="20.9" ry="14.4" fill="#6f94e0" opacity="0.09"/><ellipse cx="693.9" cy="726.8" rx="10.8" ry="16.6" fill="#6f94e0" opacity="0.07"/><ellipse cx="784.2" cy="720.9" rx="14.9" ry="8.1" fill="#6f94e0" opacity="0.07"/><ellipse cx="821.9" cy="715.5" rx="14.5" ry="17.2" fill="#6f94e0" opacity="0.05"/><ellipse cx="698.1" cy="773.2" rx="22.2" ry="8.1" fill="#6f94e0" opacity="0.09"/><ellipse cx="802.8" cy="695.6" rx="19.2" ry="13.1" fill="#6f94e0" opacity="0.07"/><ellipse cx="822.8" cy="685.0" rx="13.5" ry="15.1" fill="#6f94e0" opacity="0.07"/><ellipse cx="727.8" cy="782.4" rx="22.9" ry="10.4" fill="#6f94e0" opacity="0.07"/><ellipse cx="724.4" cy="738.1" rx="18.5" ry="15.7" fill="#6f94e0" opacity="0.05"/><ellipse cx="785.1" cy="761.8" rx="11.9" ry="9.0" fill="#6f94e0" opacity="0.06"/><ellipse cx="710.3" cy="814.6" rx="19.5" ry="10.4" fill="#6f94e0" opacity="0.08"/><ellipse cx="766.9" cy="695.2" rx="21.8" ry="12.1" fill="#6f94e0" opacity="0.06"/><ellipse cx="715.7" cy="753.7" rx="20.0" ry="17.8" fill="#6f94e0" opacity="0.09"/><ellipse cx="758.9" cy="699.9" rx="22.8" ry="11.6" fill="#6f94e0" opacity="0.06"/><ellipse cx="811.1" cy="704.1" rx="13.3" ry="14.0" fill="#6f94e0" opacity="0.08"/><ellipse cx="823.3" cy="748.5" rx="11.8" ry="15.6" fill="#6f94e0" opacity="0.06"/><ellipse cx="713.6" cy="746.2" rx="14.8" ry="17.7" fill="#6f94e0" opacity="0.06"/><ellipse cx="807.2" cy="778.7" rx="11.5" ry="8.9" fill="#6f94e0" opacity="0.10"/><ellipse cx="716.2" cy="696.5" rx="13.8" ry="14.5" fill="#6f94e0" opacity="0.08"/><ellipse cx="786.5" cy="819.8" rx="13.9" ry="10.3" fill="#6f94e0" opacity="0.09"/><ellipse cx="720.4" cy="781.4" rx="12.1" ry="10.0" fill="#6f94e0" opacity="0.05"/><ellipse cx="793.9" cy="710.2" rx="11.7" ry="10.2" fill="#6f94e0" opacity="0.06"/><ellipse cx="693.7" cy="720.6" rx="19.4" ry="15.6" fill="#6f94e0" opacity="0.06"/><ellipse cx="774.7" cy="812.7" rx="17.6" ry="11.7" fill="#6f94e0" opacity="0.05"/></g>
<g filter="url(#iblur)"><ellipse cx="805.1" cy="799.3" rx="3.5" ry="3.8" transform="rotate(151 805.1 799.3)" fill="#4f7ad8" opacity="0.53"/><ellipse cx="738.0" cy="705.3" rx="3.6" ry="5.7" transform="rotate(128 738.0 705.3)" fill="#4f7ad8" opacity="0.73"/><ellipse cx="793.7" cy="737.1" rx="7.6" ry="3.3" transform="rotate(112 793.7 737.1)" fill="#4f7ad8" opacity="0.61"/><ellipse cx="694.9" cy="740.3" rx="4.0" ry="4.3" transform="rotate(41 694.9 740.3)" fill="#4f7ad8" opacity="0.40"/><ellipse cx="708.1" cy="782.2" rx="3.3" ry="5.8" transform="rotate(32 708.1 782.2)" fill="#4f7ad8" opacity="0.50"/><ellipse cx="728.4" cy="736.8" rx="6.0" ry="3.6" transform="rotate(24 728.4 736.8)" fill="#4f7ad8" opacity="0.67"/><ellipse cx="743.9" cy="708.7" rx="7.8" ry="7.4" transform="rotate(149 743.9 708.7)" fill="#4f7ad8" opacity="0.61"/><ellipse cx="702.9" cy="812.9" rx="6.5" ry="7.3" transform="rotate(101 702.9 812.9)" fill="#4f7ad8" opacity="0.25"/><ellipse cx="828.2" cy="703.5" rx="7.2" ry="4.6" transform="rotate(32 828.2 703.5)" fill="#4f7ad8" opacity="0.32"/><ellipse cx="782.7" cy="727.5" rx="6.7" ry="7.5" transform="rotate(37 782.7 727.5)" fill="#4f7ad8" opacity="0.31"/><ellipse cx="743.9" cy="782.2" rx="8.7" ry="3.8" transform="rotate(83 743.9 782.2)" fill="#4f7ad8" opacity="0.39"/><ellipse cx="717.6" cy="728.2" rx="7.8" ry="3.4" transform="rotate(156 717.6 728.2)" fill="#4f7ad8" opacity="0.67"/><ellipse cx="784.5" cy="726.4" rx="4.0" ry="7.4" transform="rotate(13 784.5 726.4)" fill="#4f7ad8" opacity="0.49"/><ellipse cx="739.4" cy="707.4" rx="8.8" ry="4.1" transform="rotate(128 739.4 707.4)" fill="#4f7ad8" opacity="0.69"/><ellipse cx="782.6" cy="705.1" rx="7.8" ry="4.0" transform="rotate(172 782.6 705.1)" fill="#4f7ad8" opacity="0.29"/><ellipse cx="778.7" cy="770.9" rx="5.9" ry="3.8" transform="rotate(45 778.7 770.9)" fill="#4f7ad8" opacity="0.62"/><ellipse cx="823.2" cy="814.6" rx="7.4" ry="4.1" transform="rotate(138 823.2 814.6)" fill="#4f7ad8" opacity="0.40"/><ellipse cx="728.4" cy="792.4" rx="7.1" ry="4.3" transform="rotate(29 728.4 792.4)" fill="#4f7ad8" opacity="0.30"/><ellipse cx="757.5" cy="801.6" rx="4.9" ry="5.9" transform="rotate(33 757.5 801.6)" fill="#4f7ad8" opacity="0.41"/><ellipse cx="786.3" cy="755.2" rx="8.2" ry="7.0" transform="rotate(54 786.3 755.2)" fill="#4f7ad8" opacity="0.26"/><ellipse cx="779.0" cy="806.7" rx="8.1" ry="3.1" transform="rotate(27 779.0 806.7)" fill="#4f7ad8" opacity="0.34"/><ellipse cx="728.5" cy="729.4" rx="3.5" ry="4.8" transform="rotate(163 728.5 729.4)" fill="#4f7ad8" opacity="0.31"/><ellipse cx="798.5" cy="693.0" rx="3.4" ry="5.1" transform="rotate(174 798.5 693.0)" fill="#4f7ad8" opacity="0.36"/><ellipse cx="821.7" cy="691.0" rx="8.3" ry="5.7" transform="rotate(148 821.7 691.0)" fill="#4f7ad8" opacity="0.49"/><ellipse cx="724.2" cy="803.2" rx="5.0" ry="6.5" transform="rotate(172 724.2 803.2)" fill="#4f7ad8" opacity="0.71"/><ellipse cx="760.3" cy="718.7" rx="7.7" ry="3.2" transform="rotate(162 760.3 718.7)" fill="#4f7ad8" opacity="0.53"/><ellipse cx="691.3" cy="757.8" rx="6.0" ry="4.0" transform="rotate(111 691.3 757.8)" fill="#4f7ad8" opacity="0.25"/><ellipse cx="721.8" cy="758.8" rx="4.2" ry="4.2" transform="rotate(79 721.8 758.8)" fill="#4f7ad8" opacity="0.28"/><ellipse cx="718.1" cy="695.3" rx="7.8" ry="5.4" transform="rotate(47 718.1 695.3)" fill="#4f7ad8" opacity="0.65"/><ellipse cx="710.7" cy="806.2" rx="5.8" ry="5.7" transform="rotate(56 710.7 806.2)" fill="#4f7ad8" opacity="0.37"/><ellipse cx="727.7" cy="735.4" rx="6.4" ry="3.1" transform="rotate(69 727.7 735.4)" fill="#4f7ad8" opacity="0.42"/><ellipse cx="777.2" cy="806.6" rx="7.6" ry="7.8" transform="rotate(75 777.2 806.6)" fill="#4f7ad8" opacity="0.36"/><ellipse cx="818.1" cy="799.0" rx="8.5" ry="4.0" transform="rotate(84 818.1 799.0)" fill="#4f7ad8" opacity="0.41"/><ellipse cx="752.2" cy="786.8" rx="7.3" ry="6.1" transform="rotate(61 752.2 786.8)" fill="#4f7ad8" opacity="0.36"/><ellipse cx="754.5" cy="789.8" rx="4.1" ry="3.1" transform="rotate(19 754.5 789.8)" fill="#4f7ad8" opacity="0.31"/><ellipse cx="754.0" cy="734.9" rx="8.5" ry="4.0" transform="rotate(69 754.0 734.9)" fill="#4f7ad8" opacity="0.26"/><ellipse cx="697.4" cy="802.3" rx="7.2" ry="3.4" transform="rotate(142 697.4 802.3)" fill="#4f7ad8" opacity="0.45"/><ellipse cx="709.3" cy="822.9" rx="3.7" ry="3.7" transform="rotate(154 709.3 822.9)" fill="#4f7ad8" opacity="0.61"/><ellipse cx="698.7" cy="772.0" rx="5.6" ry="7.3" transform="rotate(111 698.7 772.0)" fill="#4f7ad8" opacity="0.58"/><ellipse cx="755.4" cy="685.7" rx="5.3" ry="4.4" transform="rotate(99 755.4 685.7)" fill="#4f7ad8" opacity="0.49"/><ellipse cx="813.5" cy="705.7" rx="3.4" ry="5.3" transform="rotate(22 813.5 705.7)" fill="#4f7ad8" opacity="0.61"/><ellipse cx="719.2" cy="719.0" rx="6.7" ry="6.8" transform="rotate(123 719.2 719.0)" fill="#4f7ad8" opacity="0.52"/><ellipse cx="750.5" cy="823.5" rx="6.7" ry="7.4" transform="rotate(27 750.5 823.5)" fill="#4f7ad8" opacity="0.65"/><ellipse cx="792.2" cy="706.6" rx="8.5" ry="7.8" transform="rotate(39 792.2 706.6)" fill="#4f7ad8" opacity="0.35"/><ellipse cx="695.7" cy="753.6" rx="7.8" ry="6.2" transform="rotate(24 695.7 753.6)" fill="#4f7ad8" opacity="0.72"/><ellipse cx="736.7" cy="752.0" rx="5.3" ry="5.5" transform="rotate(106 736.7 752.0)" fill="#4f7ad8" opacity="0.56"/><ellipse cx="809.2" cy="818.0" rx="7.8" ry="7.2" transform="rotate(62 809.2 818.0)" fill="#4f7ad8" opacity="0.41"/><ellipse cx="812.4" cy="814.6" rx="5.3" ry="4.2" transform="rotate(46 812.4 814.6)" fill="#4f7ad8" opacity="0.59"/><ellipse cx="784.5" cy="792.3" rx="5.8" ry="6.2" transform="rotate(155 784.5 792.3)" fill="#4f7ad8" opacity="0.35"/><ellipse cx="692.3" cy="802.2" rx="4.7" ry="7.7" transform="rotate(136 692.3 802.2)" fill="#4f7ad8" opacity="0.47"/><ellipse cx="694.5" cy="794.2" rx="5.1" ry="5.7" transform="rotate(179 694.5 794.2)" fill="#4f7ad8" opacity="0.55"/><ellipse cx="762.5" cy="730.7" rx="6.7" ry="7.8" transform="rotate(102 762.5 730.7)" fill="#4f7ad8" opacity="0.68"/><ellipse cx="810.4" cy="822.9" rx="4.7" ry="3.9" transform="rotate(57 810.4 822.9)" fill="#4f7ad8" opacity="0.26"/><ellipse cx="719.7" cy="766.9" rx="7.1" ry="6.1" transform="rotate(154 719.7 766.9)" fill="#4f7ad8" opacity="0.60"/><ellipse cx="805.4" cy="687.0" rx="3.7" ry="3.9" transform="rotate(158 805.4 687.0)" fill="#4f7ad8" opacity="0.40"/><ellipse cx="719.3" cy="697.4" rx="5.9" ry="3.6" transform="rotate(116 719.3 697.4)" fill="#4f7ad8" opacity="0.39"/><ellipse cx="777.2" cy="798.8" rx="6.5" ry="3.0" transform="rotate(36 777.2 798.8)" fill="#4f7ad8" opacity="0.40"/><ellipse cx="805.5" cy="714.4" rx="8.9" ry="5.4" transform="rotate(148 805.5 714.4)" fill="#4f7ad8" opacity="0.47"/><ellipse cx="826.2" cy="764.5" rx="4.8" ry="7.1" transform="rotate(127 826.2 764.5)" fill="#4f7ad8" opacity="0.61"/><ellipse cx="722.8" cy="715.8" rx="5.1" ry="5.8" transform="rotate(23 722.8 715.8)" fill="#4f7ad8" opacity="0.63"/><ellipse cx="749.6" cy="790.2" rx="7.1" ry="7.8" transform="rotate(68 749.6 790.2)" fill="#4f7ad8" opacity="0.30"/><ellipse cx="811.1" cy="703.5" rx="5.7" ry="5.2" transform="rotate(44 811.1 703.5)" fill="#4f7ad8" opacity="0.75"/><ellipse cx="816.9" cy="777.1" rx="7.0" ry="5.6" transform="rotate(46 816.9 777.1)" fill="#4f7ad8" opacity="0.36"/><ellipse cx="787.4" cy="693.5" rx="6.1" ry="7.3" transform="rotate(144 787.4 693.5)" fill="#4f7ad8" opacity="0.26"/><ellipse cx="718.7" cy="732.9" rx="3.2" ry="5.7" transform="rotate(11 718.7 732.9)" fill="#4f7ad8" opacity="0.26"/><ellipse cx="696.9" cy="755.7" rx="5.8" ry="4.5" transform="rotate(118 696.9 755.7)" fill="#4f7ad8" opacity="0.27"/><ellipse cx="706.1" cy="815.4" rx="5.1" ry="4.1" transform="rotate(39 706.1 815.4)" fill="#4f7ad8" opacity="0.72"/><ellipse cx="753.7" cy="762.1" rx="4.2" ry="4.1" transform="rotate(109 753.7 762.1)" fill="#4f7ad8" opacity="0.65"/><ellipse cx="763.2" cy="685.5" rx="5.9" ry="4.9" transform="rotate(136 763.2 685.5)" fill="#4f7ad8" opacity="0.66"/><ellipse cx="753.7" cy="742.4" rx="6.9" ry="7.5" transform="rotate(59 753.7 742.4)" fill="#4f7ad8" opacity="0.55"/><ellipse cx="800.6" cy="798.8" rx="4.6" ry="5.4" transform="rotate(64 800.6 798.8)" fill="#4f7ad8" opacity="0.63"/><ellipse cx="783.9" cy="812.4" rx="8.2" ry="4.1" transform="rotate(105 783.9 812.4)" fill="#4f7ad8" opacity="0.30"/><ellipse cx="805.5" cy="729.2" rx="7.9" ry="6.9" transform="rotate(67 805.5 729.2)" fill="#4f7ad8" opacity="0.58"/><ellipse cx="828.6" cy="760.6" rx="5.8" ry="6.5" transform="rotate(133 828.6 760.6)" fill="#4f7ad8" opacity="0.71"/><ellipse cx="746.0" cy="777.9" rx="8.5" ry="5.8" transform="rotate(44 746.0 777.9)" fill="#4f7ad8" opacity="0.25"/><ellipse cx="788.0" cy="808.3" rx="6.6" ry="6.6" transform="rotate(161 788.0 808.3)" fill="#4f7ad8" opacity="0.41"/><ellipse cx="691.4" cy="715.3" rx="6.2" ry="5.3" transform="rotate(52 691.4 715.3)" fill="#4f7ad8" opacity="0.73"/><ellipse cx="821.9" cy="699.8" rx="4.1" ry="6.5" transform="rotate(27 821.9 699.8)" fill="#4f7ad8" opacity="0.68"/><ellipse cx="828.0" cy="736.3" rx="4.3" ry="5.4" transform="rotate(169 828.0 736.3)" fill="#4f7ad8" opacity="0.60"/><ellipse cx="713.8" cy="815.7" rx="4.0" ry="3.7" transform="rotate(107 713.8 815.7)" fill="#4f7ad8" opacity="0.57"/></g>
<ellipse cx="756.7" cy="753.2" rx="11" ry="10.5" fill="url(#jet)"/>
</g>
<rect x="689" y="685" width="140" height="140" fill="none" stroke="#111" stroke-width="2.2"/>
<text x="698.0" y="717.5" font-size="31" text-anchor="start" font-weight="bold" fill="#000" >c1</text>
<defs><clipPath id="icc2"><rect x="846" y="685" width="140" height="140"/></clipPath></defs>
<rect x="846" y="685" width="140" height="140" fill="#fff"/>
<g clip-path="url(#icc2)">
<g filter="url(#iblur2)"><ellipse cx="918.0" cy="793.2" rx="22.2" ry="8.1" fill="#6f94e0" opacity="0.16"/><ellipse cx="980.1" cy="756.8" rx="14.5" ry="13.4" fill="#6f94e0" opacity="0.15"/><ellipse cx="958.9" cy="732.9" rx="17.5" ry="8.1" fill="#6f94e0" opacity="0.21"/><ellipse cx="875.4" cy="815.6" rx="15.2" ry="15.5" fill="#6f94e0" opacity="0.22"/><ellipse cx="967.9" cy="700.4" rx="14.2" ry="12.7" fill="#6f94e0" opacity="0.21"/><ellipse cx="882.1" cy="783.2" rx="19.2" ry="9.8" fill="#6f94e0" opacity="0.17"/><ellipse cx="970.3" cy="696.7" rx="20.5" ry="8.6" fill="#6f94e0" opacity="0.22"/><ellipse cx="950.0" cy="742.1" rx="23.9" ry="12.5" fill="#6f94e0" opacity="0.15"/><ellipse cx="895.2" cy="785.1" rx="15.0" ry="8.5" fill="#6f94e0" opacity="0.16"/><ellipse cx="985.8" cy="725.3" rx="16.5" ry="15.4" fill="#6f94e0" opacity="0.24"/><ellipse cx="870.6" cy="714.7" rx="11.9" ry="10.1" fill="#6f94e0" opacity="0.25"/><ellipse cx="880.5" cy="700.4" rx="17.0" ry="12.6" fill="#6f94e0" opacity="0.22"/><ellipse cx="932.9" cy="771.9" rx="12.1" ry="13.4" fill="#6f94e0" opacity="0.14"/><ellipse cx="867.4" cy="748.0" rx="16.0" ry="15.3" fill="#6f94e0" opacity="0.13"/><ellipse cx="885.0" cy="708.1" rx="17.1" ry="13.8" fill="#6f94e0" opacity="0.20"/><ellipse cx="876.0" cy="743.5" rx="16.5" ry="8.8" fill="#6f94e0" opacity="0.20"/><ellipse cx="878.0" cy="690.0" rx="23.5" ry="8.7" fill="#6f94e0" opacity="0.22"/><ellipse cx="916.4" cy="698.0" rx="17.3" ry="12.3" fill="#6f94e0" opacity="0.19"/><ellipse cx="976.9" cy="824.3" rx="19.3" ry="11.5" fill="#6f94e0" opacity="0.18"/><ellipse cx="954.6" cy="773.0" rx="11.4" ry="14.5" fill="#6f94e0" opacity="0.25"/><ellipse cx="879.2" cy="740.0" rx="11.2" ry="16.2" fill="#6f94e0" opacity="0.16"/><ellipse cx="869.0" cy="707.8" rx="13.9" ry="8.1" fill="#6f94e0" opacity="0.22"/><ellipse cx="965.5" cy="814.6" rx="14.2" ry="12.7" fill="#6f94e0" opacity="0.22"/><ellipse cx="937.1" cy="722.5" rx="15.4" ry="17.1" fill="#6f94e0" opacity="0.22"/><ellipse cx="856.7" cy="713.9" rx="22.4" ry="12.1" fill="#6f94e0" opacity="0.15"/></g>
<g filter="url(#iblur)"><ellipse cx="894.6" cy="742.7" rx="7.5" ry="3.6" transform="rotate(154 894.6 742.7)" fill="#4f7ad8" opacity="0.19"/><ellipse cx="912.8" cy="703.2" rx="4.6" ry="7.5" transform="rotate(85 912.8 703.2)" fill="#4f7ad8" opacity="0.14"/><ellipse cx="923.3" cy="771.9" rx="8.1" ry="5.1" transform="rotate(172 923.3 771.9)" fill="#4f7ad8" opacity="0.15"/><ellipse cx="918.3" cy="741.2" rx="4.7" ry="5.9" transform="rotate(14 918.3 741.2)" fill="#4f7ad8" opacity="0.22"/><ellipse cx="912.4" cy="788.0" rx="4.8" ry="4.0" transform="rotate(37 912.4 788.0)" fill="#4f7ad8" opacity="0.35"/><ellipse cx="909.4" cy="819.2" rx="8.4" ry="5.1" transform="rotate(74 909.4 819.2)" fill="#4f7ad8" opacity="0.27"/><ellipse cx="976.8" cy="797.6" rx="5.8" ry="5.4" transform="rotate(46 976.8 797.6)" fill="#4f7ad8" opacity="0.25"/><ellipse cx="854.9" cy="765.0" rx="3.5" ry="5.5" transform="rotate(108 854.9 765.0)" fill="#4f7ad8" opacity="0.29"/><ellipse cx="919.5" cy="774.5" rx="6.2" ry="4.3" transform="rotate(56 919.5 774.5)" fill="#4f7ad8" opacity="0.21"/><ellipse cx="898.8" cy="764.4" rx="5.5" ry="7.6" transform="rotate(107 898.8 764.4)" fill="#4f7ad8" opacity="0.22"/><ellipse cx="985.4" cy="716.6" rx="5.7" ry="5.1" transform="rotate(137 985.4 716.6)" fill="#4f7ad8" opacity="0.24"/><ellipse cx="942.3" cy="742.7" rx="4.3" ry="3.7" transform="rotate(46 942.3 742.7)" fill="#4f7ad8" opacity="0.20"/><ellipse cx="855.6" cy="797.0" rx="3.4" ry="3.2" transform="rotate(36 855.6 797.0)" fill="#4f7ad8" opacity="0.16"/><ellipse cx="883.1" cy="687.0" rx="5.3" ry="6.3" transform="rotate(18 883.1 687.0)" fill="#4f7ad8" opacity="0.27"/><ellipse cx="858.9" cy="808.2" rx="5.7" ry="5.7" transform="rotate(76 858.9 808.2)" fill="#4f7ad8" opacity="0.30"/><ellipse cx="893.1" cy="730.6" rx="3.7" ry="6.9" transform="rotate(18 893.1 730.6)" fill="#4f7ad8" opacity="0.12"/><ellipse cx="943.6" cy="816.4" rx="3.6" ry="4.4" transform="rotate(23 943.6 816.4)" fill="#4f7ad8" opacity="0.20"/><ellipse cx="925.5" cy="801.2" rx="5.6" ry="6.7" transform="rotate(72 925.5 801.2)" fill="#4f7ad8" opacity="0.22"/><ellipse cx="909.3" cy="717.8" rx="4.9" ry="7.7" transform="rotate(16 909.3 717.8)" fill="#4f7ad8" opacity="0.26"/><ellipse cx="866.0" cy="756.4" rx="4.2" ry="3.1" transform="rotate(92 866.0 756.4)" fill="#4f7ad8" opacity="0.21"/><ellipse cx="940.1" cy="719.5" rx="8.8" ry="5.1" transform="rotate(117 940.1 719.5)" fill="#4f7ad8" opacity="0.27"/><ellipse cx="978.9" cy="778.9" rx="4.1" ry="6.1" transform="rotate(146 978.9 778.9)" fill="#4f7ad8" opacity="0.31"/><ellipse cx="911.1" cy="778.7" rx="8.5" ry="5.4" transform="rotate(83 911.1 778.7)" fill="#4f7ad8" opacity="0.34"/><ellipse cx="984.3" cy="817.3" rx="8.8" ry="4.2" transform="rotate(111 984.3 817.3)" fill="#4f7ad8" opacity="0.22"/><ellipse cx="913.2" cy="731.9" rx="5.8" ry="5.4" transform="rotate(13 913.2 731.9)" fill="#4f7ad8" opacity="0.19"/><ellipse cx="886.0" cy="736.5" rx="8.0" ry="5.5" transform="rotate(38 886.0 736.5)" fill="#4f7ad8" opacity="0.17"/><ellipse cx="975.5" cy="705.0" rx="5.3" ry="5.3" transform="rotate(101 975.5 705.0)" fill="#4f7ad8" opacity="0.34"/><ellipse cx="905.1" cy="731.5" rx="8.0" ry="7.6" transform="rotate(11 905.1 731.5)" fill="#4f7ad8" opacity="0.35"/><ellipse cx="948.6" cy="710.8" rx="3.7" ry="3.4" transform="rotate(111 948.6 710.8)" fill="#4f7ad8" opacity="0.18"/><ellipse cx="919.8" cy="710.2" rx="8.8" ry="5.8" transform="rotate(151 919.8 710.2)" fill="#4f7ad8" opacity="0.18"/></g>
<ellipse cx="915.3" cy="753.5" rx="20" ry="19.5" fill="url(#jet)"/>
</g>
<rect x="846" y="685" width="140" height="140" fill="none" stroke="#111" stroke-width="2.2"/>
<text x="855.0" y="717.5" font-size="31" text-anchor="start" font-weight="bold" fill="#000" >c2</text>
<rect x="944.2" y="807.3" width="28.3" height="7.6" fill="#231815"/>
<polyline points="644.4,685.9 676.3,685.9 708.2,667.9 740.0,648.5 771.9,624.6 803.8,600.7 883.5,560.8 963.1,490.9" fill="none" stroke="#0a6ecc" stroke-width="3.2"/>
<circle cx="644.4" cy="685.9" r="8.5" fill="#0a6ecc"/>
<circle cx="676.3" cy="685.9" r="8.5" fill="#0a6ecc"/>
<circle cx="708.2" cy="667.9" r="8.5" fill="#0a6ecc"/>
<circle cx="740.0" cy="648.5" r="8.5" fill="#0a6ecc"/>
<circle cx="771.9" cy="624.6" r="8.5" fill="#0a6ecc"/>
<circle cx="803.8" cy="600.7" r="8.5" fill="#0a6ecc"/>
<circle cx="883.5" cy="560.8" r="8.5" fill="#0a6ecc"/>
<circle cx="963.1" cy="490.9" r="8.5" fill="#0a6ecc"/>
<g stroke="#262626" stroke-width="3.5"><line x1="644.4" y1="837" x2="644.4" y2="831.2" /><line x1="708.2" y1="837" x2="708.2" y2="831.2" /><line x1="771.9" y1="837" x2="771.9" y2="831.2" /><line x1="835.7" y1="837" x2="835.7" y2="831.2" /><line x1="899.4" y1="837" x2="899.4" y2="831.2" /><line x1="963.1" y1="837" x2="963.1" y2="831.2" /><line x1="644.4" y1="469" x2="644.4" y2="474.8" /><line x1="708.2" y1="469" x2="708.2" y2="474.8" /><line x1="771.9" y1="469" x2="771.9" y2="474.8" /><line x1="835.7" y1="469" x2="835.7" y2="474.8" /><line x1="899.4" y1="469" x2="899.4" y2="474.8" /><line x1="963.1" y1="469" x2="963.1" y2="474.8" /><line x1="628.5" y1="755.2" x2="634.3" y2="755.2" /><line x1="995" y1="755.2" x2="989.2" y2="755.2" /><line x1="628.5" y1="673.4" x2="634.3" y2="673.4" /><line x1="995" y1="673.4" x2="989.2" y2="673.4" /><line x1="628.5" y1="591.7" x2="634.3" y2="591.7" /><line x1="995" y1="591.7" x2="989.2" y2="591.7" /><line x1="628.5" y1="509.9" x2="634.3" y2="509.9" /><line x1="995" y1="509.9" x2="989.2" y2="509.9" /></g>
<rect x="628.5" y="469" width="366.5" height="368" fill="none" stroke="#262626" stroke-width="3.5" stroke-linejoin="miter"/>
<text x="623.8" y="769.7" font-size="32" text-anchor="end" fill="#262626" >0</text>
<text x="623.8" y="687.9" font-size="32" text-anchor="end" fill="#262626" >0.4</text>
<text x="623.8" y="606.2" font-size="32" text-anchor="end" fill="#262626" >0.8</text>
<text x="623.8" y="524.4" font-size="32" text-anchor="end" fill="#262626" >1.2</text>
<text x="644.4" y="868.8" font-size="32" text-anchor="middle" fill="#262626" >0</text>
<text x="708.2" y="868.8" font-size="32" text-anchor="middle" fill="#262626" >2</text>
<text x="771.9" y="868.8" font-size="32" text-anchor="middle" fill="#262626" >4</text>
<text x="835.7" y="868.8" font-size="32" text-anchor="middle" fill="#262626" >6</text>
<text x="899.4" y="868.8" font-size="32" text-anchor="middle" fill="#262626" >8</text>
<text x="963.1" y="868.8" font-size="32" text-anchor="middle" fill="#262626" >10</text>
<text x="762" y="898" font-size="31.5" fill="#262626"><tspan font-style="italic">z</tspan> (mm)</text>
<text transform="translate(568,660) rotate(-90)" x="0" y="0" font-size="32" text-anchor="middle" fill="#262626">FWHM (μm)</text>
<text x="2.0" y="950.0" font-size="31" text-anchor="start" font-weight="bold" fill="#000" >d</text>
<circle cx="116" cy="1036.0" r="16.2" fill="#e8e8e8"/>
<circle cx="160" cy="1036.0" r="16.2" fill="#878787"/>
<circle cx="204" cy="1036.0" r="16.2" fill="#e8e8e8"/>
<circle cx="248" cy="1036.0" r="16.2" fill="#878787"/>
<circle cx="292" cy="1036.0" r="16.2" fill="#e8e8e8"/>
<circle cx="336" cy="1036.0" r="16.2" fill="#878787"/>
<circle cx="380" cy="1036.0" r="16.2" fill="#e8e8e8"/>
<circle cx="424" cy="1036.0" r="16.2" fill="#878787"/>
<circle cx="116" cy="1071.5" r="16.2" fill="#878787"/>
<circle cx="160" cy="1071.5" r="16.2" fill="#e8e8e8"/>
<circle cx="204" cy="1071.5" r="16.2" fill="#878787"/>
<circle cx="248" cy="1071.5" r="16.2" fill="#e8e8e8"/>
<circle cx="292" cy="1071.5" r="16.2" fill="#878787"/>
<circle cx="336" cy="1071.5" r="16.2" fill="#e8e8e8"/>
<circle cx="380" cy="1071.5" r="16.2" fill="#878787"/>
<circle cx="424" cy="1071.5" r="16.2" fill="#e8e8e8"/>
<circle cx="116" cy="1107.0" r="16.2" fill="#e8e8e8"/>
<circle cx="160" cy="1107.0" r="16.2" fill="#878787"/>
<circle cx="204" cy="1107.0" r="16.2" fill="#e8e8e8"/>
<circle cx="248" cy="1107.0" r="16.2" fill="#878787"/>
<circle cx="292" cy="1107.0" r="16.2" fill="#e8e8e8"/>
<circle cx="336" cy="1107.0" r="16.2" fill="#878787"/>
<circle cx="380" cy="1107.0" r="16.2" fill="#e8e8e8"/>
<circle cx="424" cy="1107.0" r="16.2" fill="#878787"/>
<circle cx="116" cy="1142.5" r="16.2" fill="#878787"/>
<circle cx="160" cy="1142.5" r="16.2" fill="#e8e8e8"/>
<circle cx="204" cy="1142.5" r="16.2" fill="#878787"/>
<circle cx="248" cy="1142.5" r="16.2" fill="#e8e8e8"/>
<circle cx="292" cy="1142.5" r="16.2" fill="#878787"/>
<circle cx="336" cy="1142.5" r="16.2" fill="#e8e8e8"/>
<circle cx="380" cy="1142.5" r="16.2" fill="#878787"/>
<circle cx="424" cy="1142.5" r="16.2" fill="#e8e8e8"/>
<circle cx="116" cy="1178.0" r="16.2" fill="#e8e8e8"/>
<circle cx="160" cy="1178.0" r="16.2" fill="#e8e8e8"/>
<circle cx="204" cy="1178.0" r="16.2" fill="#e8e8e8"/>
<circle cx="248" cy="1178.0" r="16.2" fill="#e8e8e8"/>
<circle cx="292" cy="1178.0" r="16.2" fill="#e8e8e8"/>
<circle cx="336" cy="1178.0" r="16.2" fill="#e8e8e8"/>
<circle cx="380" cy="1178.0" r="16.2" fill="#e8e8e8"/>
<circle cx="424" cy="1178.0" r="16.2" fill="#e8e8e8"/>
<circle cx="116" cy="1213.5" r="16.2" fill="#878787"/>
<circle cx="160" cy="1213.5" r="16.2" fill="#e8e8e8"/>
<circle cx="204" cy="1213.5" r="16.2" fill="#878787"/>
<circle cx="248" cy="1213.5" r="16.2" fill="#e8e8e8"/>
<circle cx="292" cy="1213.5" r="16.2" fill="#878787"/>
<circle cx="336" cy="1213.5" r="16.2" fill="#e8e8e8"/>
<circle cx="380" cy="1213.5" r="16.2" fill="#878787"/>
<circle cx="424" cy="1213.5" r="16.2" fill="#e8e8e8"/>
<circle cx="116" cy="1249.0" r="16.2" fill="#878787"/>
<circle cx="160" cy="1249.0" r="16.2" fill="#878787"/>
<circle cx="204" cy="1249.0" r="16.2" fill="#878787"/>
<circle cx="248" cy="1249.0" r="16.2" fill="#878787"/>
<circle cx="292" cy="1249.0" r="16.2" fill="#878787"/>
<circle cx="336" cy="1249.0" r="16.2" fill="#878787"/>
<circle cx="380" cy="1249.0" r="16.2" fill="#878787"/>
<circle cx="424" cy="1249.0" r="16.2" fill="#878787"/>
<defs><linearGradient id="gbar" x1="0" y1="1003" x2="0" y2="1280" gradientUnits="userSpaceOnUse">
<stop offset="0" stop-color="#4fa870" stop-opacity="0"/>
<stop offset="0.07" stop-color="#4fa870" stop-opacity="0.95"/>
<stop offset="0.93" stop-color="#4fa870" stop-opacity="0.95"/>
<stop offset="1" stop-color="#4fa870" stop-opacity="0"/></linearGradient>
<linearGradient id="gdark" x1="0" y1="0" x2="0" y2="1"><stop offset="0" stop-color="#5f8a6c"/><stop offset="1" stop-color="#3f8c5a"/></linearGradient>
</defs>
<rect x="243" y="1003" width="11" height="277" fill="url(#gbar)"/>
<clipPath id="cd0"><circle cx="248" cy="1036.0" r="16.2"/></clipPath>
<rect x="243" y="1019.8" width="11" height="32.4" fill="url(#gdark)" clip-path="url(#cd0)"/>
<clipPath id="cd2"><circle cx="248" cy="1107.0" r="16.2"/></clipPath>
<rect x="243" y="1090.8" width="11" height="32.4" fill="url(#gdark)" clip-path="url(#cd2)"/>
<clipPath id="cd6"><circle cx="248" cy="1249.0" r="16.2"/></clipPath>
<rect x="243" y="1232.8" width="11" height="32.4" fill="url(#gdark)" clip-path="url(#cd6)"/>
<line x1="116" y1="976" x2="116" y2="1032" stroke="#000" stroke-width="3.2"/>
<circle cx="116" cy="1033" r="6.3" fill="#000"/>
<text x="58.3" y="968.0" font-size="32.3" text-anchor="start" fill="#000" >‘Focusing’</text>
<line x1="336" y1="976" x2="336" y2="1032" stroke="#000" stroke-width="3.2"/>
<circle cx="336" cy="1033" r="6.3" fill="#000"/>
<text x="256.8" y="968.0" font-size="32.3" text-anchor="start" fill="#000" >‘Random’</text>
<path d="M14.5,1139.2 L53,1139.2 L49.5,1130 L79.5,1142.7 L49.5,1155.6 L53,1146.3 L14.5,1146.3 Z" fill="#1d5e48"/>
<path d="M462,1139.2 L505.5,1139.2 L502.0,1130 L532,1142.7 L502.0,1155.6 L505.5,1146.3 L462,1146.3 Z" fill="#1d5e48"/>
<text x="447.3" y="1226.0" font-size="31.5" text-anchor="start" fill="#000" >DMD</text>
<text x="66.0" y="1327.7" font-size="31.8" text-anchor="start" fill="#000" >ON/OFF modulation of focusing</text>
<circle cx="69.9" cy="1362" r="16.3" fill="none" stroke="#555" stroke-width="1.3" stroke-dasharray="3.2,2.4"/>
<circle cx="114.1" cy="1362" r="16.3" fill="#21914a"/>
<circle cx="114.1" cy="1362" r="16.3" fill="none" stroke="#555" stroke-width="1.3" stroke-dasharray="3.2,2.4"/>
<circle cx="158.2" cy="1362" r="16.3" fill="none" stroke="#555" stroke-width="1.3" stroke-dasharray="3.2,2.4"/>
<circle cx="202.4" cy="1362" r="16.3" fill="#21914a"/>
<circle cx="202.4" cy="1362" r="16.3" fill="none" stroke="#555" stroke-width="1.3" stroke-dasharray="3.2,2.4"/>
<circle cx="246.5" cy="1362" r="16.3" fill="none" stroke="#555" stroke-width="1.3" stroke-dasharray="3.2,2.4"/>
<circle cx="290.7" cy="1362" r="16.3" fill="#21914a"/>
<circle cx="290.7" cy="1362" r="16.3" fill="none" stroke="#555" stroke-width="1.3" stroke-dasharray="3.2,2.4"/>
<circle cx="334.9" cy="1362" r="16.3" fill="none" stroke="#555" stroke-width="1.3" stroke-dasharray="3.2,2.4"/>
<circle cx="379.0" cy="1362" r="16.3" fill="#21914a"/>
<circle cx="379.0" cy="1362" r="16.3" fill="none" stroke="#555" stroke-width="1.3" stroke-dasharray="3.2,2.4"/>
<circle cx="423.2" cy="1362" r="16.3" fill="none" stroke="#555" stroke-width="1.3" stroke-dasharray="3.2,2.4"/>
<circle cx="467.3" cy="1362" r="16.3" fill="none" stroke="#555" stroke-width="1.3" stroke-dasharray="3.2,2.4"/>
<circle cx="511.5" cy="1362" r="16.3" fill="none" stroke="#555" stroke-width="1.3" stroke-dasharray="3.2,2.4"/>
<text x="550.0" y="949.0" font-size="31" text-anchor="start" font-weight="bold" fill="#000" >f</text>
<g stroke="#dcdcdc" stroke-width="3"><line x1="657.2" y1="987" x2="657.2" y2="1355"/><line x1="709.3" y1="987" x2="709.3" y2="1355"/><line x1="810.7" y1="987" x2="810.7" y2="1355"/><line x1="911.7" y1="987" x2="911.7" y2="1355"/><line x1="964.3" y1="987" x2="964.3" y2="1355"/><line x1="626.5" y1="1293.7" x2="995" y2="1293.7"/><line x1="626.5" y1="1232.3" x2="995" y2="1232.3"/><line x1="626.5" y1="1171.0" x2="995" y2="1171.0"/><line x1="626.5" y1="1109.7" x2="995" y2="1109.7"/><line x1="626.5" y1="1048.3" x2="995" y2="1048.3"/></g>
<defs><clipPath id="clipf"><rect x="626.5" y="987" width="368.5" height="368"/></clipPath></defs>
<g clip-path="url(#clipf)">
<polyline points="627.0,1286.0 628.2,1282.6 629.5,1279.4 630.7,1276.3 631.9,1273.4 633.2,1270.5 634.4,1267.8 635.6,1265.2 636.8,1262.6 638.1,1260.0 639.3,1257.5 640.5,1255.0 641.8,1252.5 643.0,1249.9 644.2,1247.4 645.5,1244.7 646.7,1242.0 647.9,1239.2 649.2,1236.3 650.4,1233.2 651.6,1230.1 652.8,1226.7 654.1,1223.2 655.3,1219.5 656.5,1215.5 657.8,1211.4 659.0,1207.0 660.2,1202.4 661.5,1197.8 662.7,1193.0 663.9,1188.1 665.2,1183.2 666.4,1178.3 667.6,1173.5 668.8,1168.7 670.1,1164.1 671.3,1159.5 672.5,1155.0 673.8,1150.7 675.0,1146.4 676.2,1142.2 677.5,1138.1 678.7,1134.1 679.9,1130.2 681.2,1126.4 682.4,1122.8 683.6,1119.2 684.8,1115.7 686.1,1112.3 687.3,1109.1 688.5,1106.0 689.8,1103.1 691.0,1100.2 692.2,1097.6 693.5,1095.1 694.7,1092.7 695.9,1090.5 697.2,1088.5 698.4,1086.6 699.6,1085.0 700.8,1083.5 702.1,1082.3 703.3,1081.3 704.5,1080.4 705.8,1079.9 707.0,1079.5 708.2,1079.4 709.5,1079.5 710.7,1079.9 711.9,1080.5 713.2,1081.2 714.4,1082.1 715.6,1083.2 716.8,1084.3 718.1,1085.6 719.3,1086.9 720.5,1088.3 721.8,1089.7 723.0,1091.2 724.2,1092.6 725.5,1094.1 726.7,1095.7 727.9,1097.3 729.2,1099.1 730.4,1101.1 731.6,1103.2 732.8,1105.5 734.1,1108.0 735.3,1110.8 736.5,1113.8 737.8,1117.1 739.0,1120.8 740.2,1124.8 741.5,1129.1 742.7,1133.7 743.9,1138.6 745.2,1143.6 746.4,1148.8 747.6,1154.0 748.8,1159.1 750.1,1164.3 751.3,1169.3 752.5,1174.1 753.8,1178.7 755.0,1183.1 756.2,1187.3 757.5,1191.3 758.7,1195.1 759.9,1198.7 761.2,1202.1 762.4,1205.4 763.6,1208.5 764.8,1211.5 766.1,1214.3 767.3,1217.0 768.5,1219.5 769.8,1221.9 771.0,1224.2 772.2,1226.4 773.5,1228.5 774.7,1230.4 775.9,1232.3 777.2,1234.2 778.4,1236.0 779.6,1237.7 780.8,1239.5 782.1,1241.2 783.3,1243.0 784.5,1244.8 785.8,1246.6 787.0,1248.5 788.2,1250.5 789.5,1252.4 790.7,1254.4 791.9,1256.4 793.2,1258.4 794.4,1260.5 795.6,1262.6 796.8,1264.6 798.1,1266.7 799.3,1268.8 800.5,1270.9 801.8,1273.0 803.0,1275.1 804.2,1277.0 805.5,1278.9 806.7,1280.7 807.9,1282.2 809.2,1283.6 810.4,1284.8 811.6,1285.8 812.8,1286.4 814.1,1286.8 815.3,1287.0 816.5,1287.1 817.8,1287.0 819.0,1286.9 820.2,1286.6 821.5,1286.3 822.7,1285.7 823.9,1284.9 825.2,1283.8 826.4,1282.4 827.6,1280.7 828.8,1278.5 830.1,1275.8 831.3,1272.7 832.5,1269.1 833.8,1265.1 835.0,1260.7 836.2,1256.0 837.5,1251.0 838.7,1245.8 839.9,1240.3 841.2,1234.8 842.4,1229.1 843.6,1223.5 844.8,1217.8 846.1,1212.3 847.3,1206.9 848.5,1201.8 849.8,1196.9 851.0,1192.3 852.2,1188.1 853.5,1184.2 854.7,1180.6 855.9,1177.3 857.2,1174.2 858.4,1171.4 859.6,1168.8 860.8,1166.4 862.1,1164.1 863.3,1162.1 864.5,1160.2 865.8,1158.5 867.0,1157.0 868.2,1155.7 869.5,1154.5 870.7,1153.4 871.9,1152.5 873.2,1151.7 874.4,1151.0 875.6,1150.3 876.8,1149.6 878.1,1148.9 879.3,1148.2 880.5,1147.3 881.8,1146.3 883.0,1145.1 884.2,1143.7 885.5,1142.1 886.7,1140.3 887.9,1138.3 889.2,1136.1 890.4,1133.6 891.6,1131.0 892.8,1128.2 894.1,1125.1 895.3,1121.9 896.5,1118.5 897.8,1114.9 899.0,1111.2 900.2,1107.4 901.5,1103.6 902.7,1099.8 903.9,1095.9 905.2,1092.2 906.4,1088.6 907.6,1085.1 908.8,1081.7 910.1,1078.6 911.3,1075.8 912.5,1073.2 913.8,1070.8 915.0,1068.8 916.2,1067.1 917.5,1065.8 918.7,1064.8 919.9,1064.2 921.2,1064.0 922.4,1064.3 923.6,1064.9 924.8,1066.0 926.1,1067.5 927.3,1069.4 928.5,1071.7 929.8,1074.3 931.0,1077.3 932.2,1080.7 933.5,1084.3 934.7,1088.3 935.9,1092.6 937.2,1097.2 938.4,1101.9 939.6,1106.9 940.8,1112.1 942.1,1117.4 943.3,1122.9 944.5,1128.4 945.8,1134.1 947.0,1139.8 948.2,1145.5 949.5,1151.2 950.7,1156.9 951.9,1162.4 953.2,1167.9 954.4,1173.3 955.6,1178.4 956.8,1183.4 958.1,1188.2 959.3,1192.7 960.5,1197.1 961.8,1201.2 963.0,1205.2 964.2,1208.9 965.5,1212.5 966.7,1215.9 967.9,1219.0 969.2,1222.0 970.4,1224.9 971.6,1227.5 972.8,1230.0 974.1,1232.3 975.3,1234.5 976.5,1236.6 977.8,1238.6 979.0,1240.5 980.2,1242.3 981.5,1244.1 982.7,1245.9 983.9,1247.6 985.2,1249.4 986.4,1251.1 987.6,1252.9 988.8,1254.7 990.1,1256.6 991.3,1258.5 992.5,1260.6 993.8,1262.7 995.0,1265.0" fill="none" stroke="#0a6ecc" stroke-width="3.2" stroke-linejoin="round"/>
<polyline points="626.5,1272.8 627.7,1270.9 629.0,1268.8 630.2,1266.7 631.4,1264.5 632.7,1262.2 633.9,1259.7 635.1,1257.2 636.4,1254.6 637.6,1251.8 638.8,1249.0 640.1,1246.1 641.3,1243.1 642.5,1240.0 643.8,1236.9 645.0,1233.6 646.2,1230.3 647.5,1226.9 648.7,1223.4 649.9,1219.9 651.1,1216.3 652.4,1212.6 653.6,1208.9 654.8,1205.1 656.1,1201.3 657.3,1197.5 658.5,1193.6 659.8,1189.7 661.0,1185.8 662.2,1181.8 663.5,1177.9 664.7,1173.9 665.9,1170.0 667.2,1166.0 668.4,1162.1 669.6,1158.2 670.9,1154.3 672.1,1150.5 673.3,1146.7 674.6,1143.0 675.8,1139.3 677.0,1135.7 678.3,1132.2 679.5,1128.7 680.7,1125.4 682.0,1122.1 683.2,1118.9 684.4,1115.9 685.7,1112.9 686.9,1110.1 688.1,1107.4 689.4,1104.8 690.6,1102.4 691.8,1100.1 693.1,1097.9 694.3,1095.9 695.5,1094.1 696.7,1092.4 698.0,1090.9 699.2,1089.6 700.4,1088.4 701.7,1087.4 702.9,1086.6 704.1,1086.0 705.4,1085.5 706.6,1085.2 707.8,1085.1 709.1,1085.2 710.3,1085.5 711.5,1085.9 712.8,1086.5 714.0,1087.4 715.2,1088.3 716.5,1089.5 717.7,1090.8 718.9,1092.3 720.2,1094.0 721.4,1095.8 722.6,1097.8 723.9,1099.9 725.1,1102.2 726.3,1104.6 727.6,1107.2 728.8,1109.9 730.0,1112.7 731.3,1115.7 732.5,1118.7 733.7,1121.9 735.0,1125.2 736.2,1128.5 737.4,1132.0 738.7,1135.5 739.9,1139.1 741.1,1142.8 742.3,1146.5 743.6,1150.3 744.8,1154.1 746.0,1158.0 747.3,1161.8 748.5,1165.8 749.7,1169.7 751.0,1173.6 752.2,1177.6 753.4,1181.5 754.7,1185.5 755.9,1189.4 757.1,1193.3 758.4,1197.2 759.6,1201.0 760.8,1204.8 762.1,1208.6 763.3,1212.3 764.5,1215.9 765.8,1219.5 767.0,1223.0 768.2,1226.5 769.5,1229.9 770.7,1233.2 771.9,1236.5 773.2,1239.6 774.4,1242.7 775.6,1245.7 776.9,1248.6 778.1,1251.4 779.3,1254.1 780.6,1256.7 781.8,1259.2 783.0,1261.6 784.3,1264.0 785.5,1266.2 786.7,1268.3 787.9,1270.3 789.2,1272.1 790.4,1273.9 791.6,1275.6 792.9,1277.1 794.1,1278.6 795.3,1279.9 796.6,1281.1 797.8,1282.3 799.0,1283.2 800.3,1284.1 801.5,1284.9 802.7,1285.6 804.0,1286.1 805.2,1286.5 806.4,1286.8 807.7,1287.0 808.9,1287.1 810.1,1287.1 811.4,1287.0 812.6,1286.7 813.8,1286.3 815.1,1285.8 816.3,1285.2 817.5,1284.5 818.8,1283.7 820.0,1282.8 821.2,1281.7 822.5,1280.6 823.7,1279.3 824.9,1277.9 826.2,1276.4 827.4,1274.8 828.6,1273.1 829.9,1271.2 831.1,1269.3 832.3,1267.2 833.6,1265.1 834.8,1262.8 836.0,1260.5 837.2,1258.0 838.5,1255.5 839.7,1252.8 840.9,1250.0 842.2,1247.2 843.4,1244.2 844.6,1241.2 845.9,1238.1 847.1,1234.9 848.3,1231.6 849.6,1228.3 850.8,1224.8 852.0,1221.3 853.3,1217.8 854.5,1214.1 855.7,1210.5 857.0,1206.7 858.2,1202.9 859.4,1199.1 860.7,1195.3 861.9,1191.4 863.1,1187.5 864.4,1183.5 865.6,1179.6 866.8,1175.6 868.1,1171.7 869.3,1167.8 870.5,1163.8 871.8,1159.9 873.0,1156.0 874.2,1152.2 875.5,1148.4 876.7,1144.6 877.9,1140.9 879.2,1137.3 880.4,1133.7 881.6,1130.3 882.8,1126.9 884.1,1123.5 885.3,1120.3 886.5,1117.2 887.8,1114.2 889.0,1111.3 890.2,1108.6 891.5,1105.9 892.7,1103.4 893.9,1101.1 895.2,1098.9 896.4,1096.8 897.6,1094.9 898.9,1093.1 900.1,1091.6 901.3,1090.2 902.6,1088.9 903.8,1087.8 905.0,1086.9 906.3,1086.2 907.5,1085.7 908.7,1085.3 910.0,1085.1 911.2,1085.1 912.4,1085.3 913.7,1085.7 914.9,1086.2 916.1,1087.0 917.4,1087.9 918.6,1089.0 919.8,1090.2 921.1,1091.6 922.3,1093.2 923.5,1095.0 924.8,1096.9 926.0,1099.0 927.2,1101.2 928.4,1103.5 929.7,1106.0 930.9,1108.7 932.1,1111.4 933.4,1114.3 934.6,1117.3 935.8,1120.5 937.1,1123.7 938.3,1127.0 939.5,1130.4 940.8,1133.9 942.0,1137.5 943.2,1141.1 944.5,1144.8 945.7,1148.6 946.9,1152.4 948.2,1156.2 949.4,1160.1 950.6,1164.0 951.9,1168.0 953.1,1171.9 954.3,1175.9 955.6,1179.8 956.8,1183.8 958.0,1187.7 959.3,1191.6 960.5,1195.5 961.7,1199.4 963.0,1203.2 964.2,1207.0 965.4,1210.7 966.7,1214.4 967.9,1218.0 969.1,1221.6 970.4,1225.1 971.6,1228.5 972.8,1231.9 974.0,1235.2 975.3,1238.4 976.5,1241.6 977.7,1244.6 979.0,1247.6 980.2,1250.4 981.4,1253.2 982.7,1255.9 983.9,1258.5 985.1,1260.9 986.4,1263.3 987.6,1265.6 988.8,1267.8 990.1,1269.8 991.3,1271.8 992.5,1273.7 993.8,1275.4 995.0,1277.1" fill="none" stroke="#000" stroke-width="4" stroke-dasharray="13,11"/>
</g>
<line x1="827" y1="1012" x2="870" y2="1012" stroke="#0a6ecc" stroke-width="3.5"/>
<line x1="827" y1="1048" x2="870" y2="1048" stroke="#000" stroke-width="4" stroke-dasharray="14,13"/>
<text x="878.0" y="1017.5" font-size="27" text-anchor="start" fill="#000" >Signal</text>
<text x="878.0" y="1054.0" font-size="27" text-anchor="start" fill="#000" >Fitting</text>
<g stroke="#262626" stroke-width="3.5"><line x1="657.2" y1="1355" x2="657.2" y2="1349"/><line x1="810.7" y1="1355" x2="810.7" y2="1349"/><line x1="964.3" y1="1355" x2="964.3" y2="1349"/><line x1="709.3" y1="987" x2="709.3" y2="993"/><line x1="810.5" y1="987" x2="810.5" y2="993"/><line x1="911.7" y1="987" x2="911.7" y2="993"/><line x1="626.5" y1="1355.0" x2="632.5" y2="1355.0"/><line x1="995" y1="1355.0" x2="989" y2="1355.0"/><line x1="626.5" y1="1293.7" x2="632.5" y2="1293.7"/><line x1="995" y1="1293.7" x2="989" y2="1293.7"/><line x1="626.5" y1="1232.3" x2="632.5" y2="1232.3"/><line x1="995" y1="1232.3" x2="989" y2="1232.3"/><line x1="626.5" y1="1171.0" x2="632.5" y2="1171.0"/><line x1="995" y1="1171.0" x2="989" y2="1171.0"/><line x1="626.5" y1="1109.7" x2="632.5" y2="1109.7"/><line x1="995" y1="1109.7" x2="989" y2="1109.7"/><line x1="626.5" y1="1048.3" x2="632.5" y2="1048.3"/><line x1="995" y1="1048.3" x2="989" y2="1048.3"/></g>
<rect x="626.5" y="987" width="368.5" height="368" fill="none" stroke="#262626" stroke-width="3.5"/>
<text x="622.0" y="1366.0" font-size="32" text-anchor="end" fill="#262626" >0</text>
<text x="622.0" y="1304.7" font-size="32" text-anchor="end" fill="#262626" >0.2</text>
<text x="622.0" y="1243.3" font-size="32" text-anchor="end" fill="#262626" >0.4</text>
<text x="622.0" y="1182.0" font-size="32" text-anchor="end" fill="#262626" >0.6</text>
<text x="622.0" y="1120.7" font-size="32" text-anchor="end" fill="#262626" >0.8</text>
<text x="622.0" y="1059.3" font-size="32" text-anchor="end" fill="#262626" >1</text>
<text x="659.0" y="1390.0" font-size="32" text-anchor="middle" fill="#262626" >7.95</text>
<text x="810.5" y="1390.0" font-size="32" text-anchor="middle" fill="#262626" >8</text>
<text x="963.0" y="1390.0" font-size="32" text-anchor="middle" fill="#262626" >8.05</text>
<text x="703.0" y="977.6" font-size="32" text-anchor="middle" fill="#262626" >164</text>
<text x="805.0" y="977.6" font-size="32" text-anchor="middle" fill="#262626" >165</text>
<text x="905.6" y="977.6" font-size="32" text-anchor="middle" fill="#262626" >166</text>
<text x="708.0" y="944.5" font-size="31.5" text-anchor="start" fill="#262626" >DMD column #</text>
<text x="1.0" y="1426.0" font-size="31" text-anchor="start" font-weight="bold" fill="#000" >e</text>
<g stroke="#dcdcdc" stroke-width="3"><line x1="326.0" y1="1415.5" x2="326.0" y2="1859.5"/><line x1="545.5" y1="1415.5" x2="545.5" y2="1859.5"/><line x1="765.0" y1="1415.5" x2="765.0" y2="1859.5"/><line x1="984.5" y1="1415.5" x2="984.5" y2="1859.5"/><line x1="106.5" y1="1800.3" x2="995.5" y2="1800.3"/><line x1="106.5" y1="1741.1" x2="995.5" y2="1741.1"/><line x1="106.5" y1="1681.9" x2="995.5" y2="1681.9"/><line x1="106.5" y1="1622.7" x2="995.5" y2="1622.7"/><line x1="106.5" y1="1563.5" x2="995.5" y2="1563.5"/></g>
<polyline points="108.0,1858.0 108.5,1854.6 108.9,1856.2 109.4,1854.9 109.8,1853.7 110.3,1855.8 110.7,1855.9 111.2,1858.0 111.6,1857.0 112.1,1855.9 112.5,1855.1 113.0,1854.5 113.4,1856.5 113.9,1858.0 114.3,1857.0 114.8,1854.0 115.2,1857.3 115.7,1856.2 116.1,1853.9 116.6,1858.2 117.0,1855.5 117.5,1853.8 117.9,1857.2 118.4,1855.7 118.8,1854.0 119.3,1857.7 119.7,1855.8 120.2,1854.8 120.6,1855.1 121.1,1856.1 121.5,1857.3 122.0,1856.0 122.4,1856.6 122.9,1856.1 123.3,1856.6 123.8,1854.3 124.2,1854.7 124.7,1856.8 125.1,1855.6 125.6,1857.0 126.0,1856.2 126.5,1856.6 126.9,1855.2 127.4,1856.6 127.8,1856.1 128.3,1854.9 128.7,1856.4 129.2,1854.0 129.6,1857.5 130.1,1854.8 130.5,1856.3 131.0,1856.3 131.4,1855.3 131.9,1855.8 132.3,1856.4 132.8,1858.3 133.2,1857.9 133.7,1855.0 134.1,1855.8 134.6,1855.0 135.0,1853.8 135.5,1855.1 135.9,1858.1 136.4,1856.9 136.8,1855.5 137.3,1857.2 137.7,1853.7 138.2,1853.8 138.6,1854.3 139.1,1856.1 139.5,1854.3 140.0,1857.7 140.4,1856.9 140.9,1856.1 141.3,1854.8 141.8,1856.0 142.2,1857.7 142.7,1856.7 143.1,1856.8 143.6,1856.9 144.0,1857.5 144.5,1856.4 144.9,1856.2 145.4,1854.6 145.8,1854.5 146.3,1855.8 146.7,1856.1 147.2,1854.6 147.6,1854.1 148.1,1855.1 148.5,1854.5 149.0,1853.9 149.4,1858.1 149.9,1854.2 150.3,1857.0 150.8,1856.1 151.2,1854.5 151.7,1854.9 152.1,1857.6 152.6,1855.2 153.0,1858.0 153.5,1856.6 153.9,1854.5 154.4,1856.3 154.8,1855.5 155.3,1854.9 155.7,1854.4 156.2,1854.7 156.6,1858.3 157.1,1856.3 157.5,1856.1 158.0,1858.1 158.4,1855.8 158.9,1855.4 159.3,1854.4 159.8,1853.9 160.2,1857.7 160.7,1857.2 161.1,1855.2 161.6,1857.7 162.0,1857.3 162.5,1855.6 162.9,1857.5 163.4,1854.6 163.8,1854.3 164.3,1858.2 164.7,1855.8 165.2,1854.5 165.6,1853.7 166.1,1857.0 166.5,1857.5 167.0,1854.2 167.4,1854.0 167.9,1857.4 168.3,1856.2 168.8,1854.9 169.2,1854.3 169.7,1857.5 170.1,1855.2 170.6,1854.5 171.0,1855.7 171.5,1857.5 171.9,1858.1 172.4,1857.0 172.8,1854.5 173.3,1858.1 173.7,1858.3 174.2,1856.6 174.6,1858.0 175.1,1857.6 175.5,1858.2 176.0,1855.8 176.4,1855.0 176.9,1856.3 177.3,1857.7 177.8,1856.7 178.2,1855.5 178.7,1853.9 179.1,1853.6 179.6,1857.2 180.0,1858.3 180.5,1854.4 180.9,1853.9 181.4,1856.1 181.8,1854.7 182.3,1854.2 182.7,1855.4 183.2,1854.2 183.6,1858.2 184.1,1857.0 184.5,1857.0 185.0,1857.7 185.4,1854.0 185.9,1858.2 186.3,1855.1 186.8,1858.0 187.2,1856.6 187.7,1856.3 188.1,1857.5 188.6,1855.8 189.0,1855.8 189.5,1856.8 189.9,1854.8 190.4,1857.6 190.8,1857.4 191.3,1856.6 191.7,1856.5 192.2,1857.3 192.6,1854.0 193.1,1854.4 193.5,1857.8 194.0,1856.6 194.4,1857.2 194.9,1856.2 195.3,1857.0 195.8,1855.9 196.2,1853.9 196.7,1856.5 197.1,1855.2 197.6,1855.5 198.0,1854.8 198.5,1858.0 198.9,1854.8 199.4,1853.8 199.8,1855.5 200.3,1857.0 200.7,1855.1 201.2,1854.9 201.6,1855.2 202.1,1857.6 202.5,1853.7 203.0,1853.8 203.4,1856.3 203.9,1855.5 204.3,1858.1 204.8,1853.6 205.2,1854.4 205.7,1855.3 206.1,1854.7 206.6,1857.4 207.0,1856.9 207.5,1857.1 207.9,1855.5 208.4,1857.9 208.8,1854.1 209.3,1856.1 209.7,1856.2 210.2,1857.8 210.6,1855.1 211.1,1854.4 211.5,1855.3 212.0,1857.2 212.4,1854.6 212.9,1857.6 213.3,1854.4 213.8,1855.6 214.2,1856.9 214.7,1855.9 215.1,1855.3 215.6,1857.1 216.0,1854.3 216.5,1856.3 216.9,1854.1 217.4,1854.4 217.8,1857.8 218.3,1855.3 218.7,1856.8 219.2,1854.7 219.6,1855.7 220.1,1856.1 220.5,1854.1 221.0,1858.0 221.4,1855.7 221.9,1856.8 222.3,1858.1 222.8,1854.7 223.2,1855.7 223.7,1854.1 224.1,1855.5 224.6,1856.7 225.0,1853.6 225.5,1857.8 225.9,1858.1 226.4,1854.8 226.8,1856.6 227.3,1856.6 227.7,1854.2 228.2,1856.8 228.6,1854.1 229.1,1855.3 229.5,1856.8 230.0,1858.0 230.4,1857.2 230.9,1853.7 231.3,1856.4 231.8,1857.6 232.2,1856.9 232.7,1854.1 233.1,1857.5 233.6,1854.6 234.0,1857.7 234.5,1853.8 234.9,1855.8 235.4,1858.1 235.8,1853.9 236.3,1856.6 236.7,1854.9 237.2,1855.8 237.6,1857.9 238.1,1857.8 238.5,1857.6 239.0,1857.6 239.4,1858.1 239.9,1858.1 240.3,1853.8 240.8,1857.9 241.2,1855.9 241.7,1857.8 242.1,1857.3 242.6,1854.7 243.0,1853.9 243.5,1856.1 243.9,1858.3 244.4,1853.6 244.4,1819.2 244.9,1798.5 245.3,1723.2 245.8,1632.0 246.2,1591.0 246.7,1641.5 247.1,1726.0 247.6,1798.0 248.0,1826.0 248.5,1814.3 248.9,1771.6 249.4,1719.8 249.9,1696.6 250.3,1718.9 250.8,1756.2 251.2,1788.0 251.7,1800.4 252.1,1793.0 252.6,1766.2 253.0,1733.7 253.5,1719.1 253.9,1737.7 254.4,1768.8 254.8,1795.4 255.3,1805.7 255.8,1789.7 256.2,1731.5 256.7,1661.0 257.1,1629.4 257.6,1667.9 258.0,1732.3 258.5,1787.2 258.9,1808.5 259.4,1791.5 259.8,1729.6 260.3,1654.5 260.8,1620.8 261.2,1667.0 261.7,1744.0 262.1,1809.8 262.6,1835.3 263.0,1814.4 263.5,1738.1 263.9,1645.6 264.4,1604.0 264.8,1644.6 265.3,1712.3 265.7,1770.1 266.2,1792.5 266.7,1779.6 267.1,1732.6 267.6,1675.6 268.0,1650.0 268.5,1692.0 268.9,1762.1 269.4,1822.0 269.8,1845.2 270.3,1822.4 270.7,1739.3 271.2,1638.5 271.7,1593.3 272.1,1637.9 272.6,1712.4 273.0,1776.0 273.5,1800.6 273.9,1781.0 274.4,1709.4 274.8,1622.6 275.3,1583.6 275.7,1638.9 276.2,1731.3 276.6,1810.1 277.1,1840.7 277.6,1822.3 278.0,1755.5 278.5,1674.4 278.9,1638.0 279.4,1677.2 279.8,1742.6 280.3,1798.5 280.7,1820.2 281.2,1804.6 281.6,1747.9 282.1,1679.1 282.5,1648.2 283.0,1685.5 283.5,1748.0 283.9,1801.2 284.4,1821.9 284.8,1801.2 285.3,1725.8 285.7,1634.5 286.2,1593.4 286.6,1639.3 287.1,1716.0 287.5,1781.5 288.0,1806.8 288.5,1787.8 288.9,1718.6 289.4,1634.7 289.8,1597.0 290.3,1649.0 290.7,1735.9 291.2,1810.0 291.6,1838.8 292.1,1824.0 292.5,1769.9 293.0,1704.4 293.4,1675.0 293.9,1702.1 294.4,1747.3 294.8,1785.9 295.3,1800.9 295.7,1791.0 296.2,1755.0 296.6,1711.3 297.1,1691.8 297.5,1719.6 298.0,1766.1 298.4,1805.7 298.9,1821.1 299.4,1798.6 299.8,1716.4 300.3,1616.8 300.7,1572.1 301.2,1624.7 301.6,1712.8 302.1,1787.9 302.5,1817.1 303.0,1798.7 303.4,1732.0 303.9,1651.1 304.3,1614.7 304.8,1655.2 305.3,1722.8 305.7,1780.6 306.2,1803.0 306.6,1782.6 307.1,1708.4 307.5,1618.4 308.0,1578.0 308.4,1633.0 308.9,1724.9 309.3,1803.3 309.8,1833.8 310.2,1815.0 310.7,1746.5 311.2,1663.5 311.6,1626.2 312.1,1666.5 312.5,1733.8 313.0,1791.2 313.4,1813.5 313.9,1799.6 314.3,1749.0 314.8,1687.7 315.2,1660.2 315.7,1694.1 316.2,1750.6 316.6,1799.0 317.1,1817.7 317.5,1802.3 318.0,1746.0 318.4,1677.8 318.9,1647.2 319.3,1683.0 319.8,1742.9 320.2,1793.9 320.7,1813.7 321.1,1795.6 321.6,1729.7 322.1,1649.8 322.5,1614.0 323.0,1661.8 323.4,1741.6 323.9,1809.7 324.3,1836.2 324.8,1821.9 325.2,1770.0 325.7,1707.0 326.1,1678.7 326.6,1710.1 327.1,1762.5 327.5,1807.3 328.0,1824.6 328.4,1813.6 328.9,1773.3 329.3,1724.5 329.8,1702.6 330.2,1732.5 330.7,1782.7 331.1,1825.4 331.6,1842.0 332.0,1824.4 332.5,1760.4 333.0,1682.7 333.4,1647.8 333.9,1687.1 334.3,1752.8 334.8,1808.9 335.2,1830.6 335.7,1814.4 336.1,1755.3 336.6,1683.6 337.0,1651.4 337.5,1683.3 338.0,1736.7 338.4,1782.3 338.9,1800.0 339.3,1792.5 339.8,1765.2 340.2,1732.0 340.7,1717.2 341.1,1739.4 341.6,1776.4 342.0,1808.1 342.5,1820.4 342.9,1799.0 343.4,1721.2 343.9,1626.9 344.3,1584.5 344.8,1631.5 345.2,1710.0 345.7,1776.9 346.1,1802.9 346.6,1783.6 347.0,1713.2 347.5,1627.9 347.9,1589.6 348.4,1628.0 348.8,1692.3 349.3,1747.1 349.8,1768.3 350.2,1764.1 350.7,1748.7 351.1,1729.9 351.6,1721.5 352.0,1743.7 352.5,1780.6 352.9,1812.2 353.4,1824.5 353.8,1803.1 354.3,1725.2 354.8,1630.8 355.2,1588.4 355.7,1640.0 356.1,1726.2 356.6,1799.7 357.0,1828.3 357.5,1809.7 357.9,1742.2 358.4,1660.4 358.8,1623.6 359.3,1668.9 359.7,1744.5 360.2,1809.0 360.7,1834.0 361.1,1818.1 361.6,1760.3 362.0,1690.2 362.5,1658.7 362.9,1696.6 363.4,1760.0 363.8,1814.0 364.3,1835.0 364.7,1813.7 365.2,1736.0 365.7,1641.8 366.1,1599.6 366.6,1651.4 367.0,1738.1 367.5,1812.0 367.9,1840.7 368.4,1830.3 368.8,1792.6 369.3,1746.9 369.7,1726.4 370.2,1748.0 370.6,1784.1 371.1,1814.9 371.6,1826.9 372.0,1810.7 372.5,1751.8 372.9,1680.4 373.4,1648.4 373.8,1681.9 374.3,1737.9 374.7,1785.6 375.2,1804.2 375.6,1787.6 376.1,1727.0 376.5,1653.5 377.0,1620.6 377.5,1663.5 377.9,1735.2 378.4,1796.4 378.8,1820.2 379.3,1804.6 379.7,1747.9 380.2,1679.2 380.6,1648.3 381.1,1680.5 381.5,1734.3 382.0,1780.1 382.5,1797.9 382.9,1783.1 383.4,1729.1 383.8,1663.5 384.3,1634.1 384.7,1674.2 385.2,1741.2 385.6,1798.4 386.1,1820.5 386.5,1805.6 387.0,1751.4 387.4,1685.6 387.9,1656.1 388.4,1695.8 388.8,1762.1 389.3,1818.7 389.7,1840.7 390.2,1818.1 390.6,1735.8 391.1,1636.0 391.5,1591.2 392.0,1637.2 392.4,1714.1 392.9,1779.7 393.4,1805.1 393.8,1795.8 394.3,1762.1 394.7,1721.1 395.2,1702.7 395.6,1732.0 396.1,1781.0 396.5,1822.8 397.0,1839.0 397.4,1815.8 397.9,1731.2 398.3,1628.7 398.8,1582.7 399.3,1636.2 399.7,1725.6 400.2,1802.0 400.6,1831.6 401.1,1815.8 401.5,1758.0 402.0,1688.1 402.4,1656.6 402.9,1692.1 403.3,1751.2 403.8,1801.7 404.2,1821.3 404.7,1802.9 405.2,1735.5 405.6,1653.9 406.1,1617.2 406.5,1660.6 407.0,1733.0 407.4,1794.8 407.9,1818.8 408.3,1802.3 408.8,1742.3 409.2,1669.4 409.7,1636.7 410.2,1667.2 410.6,1718.2 411.1,1761.7 411.5,1778.6 412.0,1761.1 412.4,1697.2 412.9,1619.9 413.3,1585.1 413.8,1630.7 414.2,1706.9 414.7,1771.9 415.1,1797.2 415.6,1780.3 416.1,1718.7 416.5,1644.0 417.0,1610.5 417.4,1660.3 417.9,1743.4 418.3,1814.4 418.8,1841.9 419.2,1823.8 419.7,1758.0 420.1,1678.2 420.6,1642.3 421.1,1680.4 421.5,1744.0 422.0,1798.3 422.4,1819.3 422.9,1797.3 423.3,1717.1 423.8,1619.9 424.2,1576.2 424.7,1629.8 425.1,1719.3 425.6,1795.7 426.0,1825.4 426.5,1802.5 427.0,1719.5 427.4,1618.7 427.9,1573.5 428.3,1621.7 428.8,1702.4 429.2,1771.2 429.7,1797.9 430.1,1786.9 430.6,1747.2 431.0,1699.0 431.5,1677.3 431.9,1706.5 432.4,1755.3 432.9,1797.0 433.3,1813.1 433.8,1792.8 434.2,1719.0 434.7,1629.5 435.1,1589.3 435.6,1633.7 436.0,1707.9 436.5,1771.2 436.9,1795.8 437.4,1776.3 437.9,1705.5 438.3,1619.6 438.8,1581.1 439.2,1627.7 439.7,1705.5 440.1,1771.9 440.6,1797.7 441.0,1781.8 441.5,1723.6 441.9,1653.0 442.4,1621.4 442.8,1666.2 443.3,1741.2 443.8,1805.2 444.2,1830.0 444.7,1808.8 445.1,1731.5 445.6,1637.7 446.0,1595.6 446.5,1644.7 446.9,1726.8 447.4,1796.8 447.8,1824.0 448.3,1800.5 448.8,1715.2 449.2,1611.8 449.7,1565.3 450.1,1617.5 450.6,1704.7 451.0,1779.2 451.5,1808.0 451.9,1787.4 452.4,1712.4 452.8,1621.4 453.3,1580.5 453.7,1634.8 454.2,1725.4 454.7,1802.7 455.1,1832.8 455.6,1814.5 456.0,1748.1 456.5,1667.5 456.9,1631.3 457.4,1667.5 457.8,1728.0 458.3,1779.6 458.7,1799.6 459.2,1784.5 459.6,1729.2 460.1,1662.2 460.6,1632.1 461.0,1673.1 461.5,1741.5 461.9,1800.0 462.4,1822.6 462.8,1799.9 463.3,1717.1 463.7,1616.7 464.2,1571.6 464.6,1626.5 465.1,1718.3 465.6,1796.6 466.0,1827.0 466.5,1805.7 466.9,1728.2 467.4,1634.1 467.8,1591.9 468.3,1642.9 468.7,1728.1 469.2,1800.8 469.6,1829.0 470.1,1809.6 470.5,1739.1 471.0,1653.6 471.5,1615.2 471.9,1659.7 472.4,1734.1 472.8,1797.5 473.3,1822.1 473.7,1800.1 474.2,1720.0 474.6,1622.9 475.1,1579.2 475.5,1626.5 476.0,1705.5 476.5,1772.9 476.9,1799.1 477.4,1780.9 477.8,1714.5 478.3,1634.1 478.7,1598.0 479.2,1646.1 479.6,1726.3 480.1,1794.8 480.5,1821.3 481.0,1799.9 481.4,1722.1 481.9,1627.7 482.4,1585.3 482.8,1625.2 483.3,1691.8 483.7,1748.6 484.2,1770.6 484.6,1757.9 485.1,1711.5 485.5,1655.2 486.0,1629.9 486.4,1670.5 486.9,1738.4 487.4,1796.3 487.8,1818.8 488.3,1804.0 488.7,1750.1 489.2,1684.7 489.6,1655.4 490.1,1688.0 490.5,1742.5 491.0,1789.1 491.4,1807.1 491.9,1787.0 492.3,1713.7 492.8,1624.8 493.3,1584.9 493.7,1637.8 494.2,1726.2 494.6,1801.7 495.1,1830.9 495.5,1811.7 496.0,1741.5 496.4,1656.4 496.9,1618.1 497.3,1663.8 497.8,1740.1 498.2,1805.2 498.7,1830.4 499.2,1813.6 499.6,1752.2 500.1,1677.8 500.5,1644.4 501.0,1684.2 501.4,1750.6 501.9,1807.3 502.3,1829.3 502.8,1811.7 503.2,1747.5 503.7,1669.7 504.2,1634.7 504.6,1673.3 505.1,1737.7 505.5,1792.7 506.0,1814.1 506.4,1798.1 506.9,1739.9 507.3,1669.3 507.8,1637.6 508.2,1673.2 508.7,1732.7 509.1,1783.5 509.6,1803.2 510.1,1785.3 510.5,1720.1 511.0,1641.0 511.4,1605.5 511.9,1647.7 512.3,1718.3 512.8,1778.5 513.2,1801.9 513.7,1781.8 514.1,1708.7 514.6,1620.1 515.1,1580.4 515.5,1635.7 516.0,1728.1 516.4,1806.9 516.9,1837.5 517.3,1814.6 517.8,1731.4 518.2,1630.5 518.7,1585.2 519.1,1628.3 519.6,1700.4 520.0,1761.9 520.5,1785.7 521.0,1773.0 521.4,1726.6 521.9,1670.4 522.3,1645.2 522.8,1686.6 523.2,1755.8 523.7,1814.9 524.1,1837.9 524.6,1815.0 525.0,1732.0 525.5,1631.2 525.9,1586.0 526.4,1633.9 526.9,1713.9 527.3,1782.2 527.8,1808.7 528.2,1789.6 528.7,1720.2 529.1,1636.2 529.6,1598.4 530.0,1644.0 530.5,1720.1 530.9,1785.1 531.4,1810.3 531.9,1795.0 532.3,1739.2 532.8,1671.6 533.2,1641.2 533.7,1676.1 534.1,1734.4 534.6,1784.2 535.0,1803.5 535.5,1784.4 535.9,1714.9 536.4,1630.6 536.8,1592.8 537.3,1643.2 537.8,1727.3 538.2,1799.1 538.7,1827.0 539.1,1815.7 539.6,1774.8 540.0,1725.1 540.5,1702.8 540.9,1729.4 541.4,1773.7 541.8,1811.6 542.3,1826.3 542.8,1813.6 543.2,1767.5 543.7,1711.5 544.1,1686.4 544.6,1709.1 545.0,1746.9 545.5,1779.3 545.9,1791.8 546.4,1777.3 546.8,1724.6 547.3,1660.6 547.7,1631.9 548.2,1675.7 548.7,1748.9 549.1,1811.4 549.6,1835.6 550.0,1813.3 550.5,1732.0 550.9,1633.4 551.4,1589.1 551.8,1634.0 552.3,1708.9 552.7,1772.9 553.2,1797.7 553.6,1780.6 554.1,1718.6 554.6,1643.4 555.0,1609.6 555.5,1658.5 555.9,1740.2 556.4,1810.0 556.8,1837.1 557.3,1814.0 557.7,1729.9 558.2,1628.0 558.6,1582.2 559.1,1629.4 559.6,1708.2 560.0,1775.5 560.5,1801.6 560.9,1782.5 561.4,1713.2 561.8,1629.2 562.3,1591.4 562.7,1640.8 563.2,1723.3 563.6,1793.7 564.1,1821.0 564.5,1800.1 565.0,1723.9 565.5,1631.5 565.9,1590.0 566.4,1636.3 566.8,1713.7 567.3,1779.7 567.7,1805.3 568.2,1789.6 568.6,1732.2 569.1,1662.6 569.5,1631.4 570.0,1675.0 570.5,1748.0 570.9,1810.2 571.4,1834.4 571.8,1815.8 572.3,1748.3 572.7,1666.3 573.2,1629.5 573.6,1666.8 574.1,1729.2 574.5,1782.4 575.0,1803.1 575.4,1790.4 575.9,1744.1 576.4,1688.1 576.8,1662.9 577.3,1691.0 577.7,1737.9 578.2,1777.9 578.6,1793.5 579.1,1776.6 579.5,1715.1 580.0,1640.6 580.4,1607.2 580.9,1650.2 581.3,1722.2 581.8,1783.6 582.3,1807.4 582.7,1794.2 583.2,1746.0 583.6,1687.7 584.1,1661.5 584.5,1697.6 585.0,1758.1 585.4,1809.6 585.9,1829.7 586.3,1815.5 586.8,1763.8 587.3,1701.1 587.7,1672.9 588.2,1708.1 588.6,1766.7 589.1,1816.8 589.5,1836.2 590.0,1816.7 590.4,1745.5 590.9,1659.2 591.3,1620.5 591.8,1661.6 592.2,1730.4 592.7,1789.2 593.2,1811.9 593.6,1799.5 594.1,1754.3 594.5,1699.5 595.0,1674.9 595.4,1697.4 595.9,1734.9 596.3,1766.9 596.8,1779.3 597.2,1764.7 597.7,1711.6 598.2,1647.2 598.6,1618.3 599.1,1656.0 599.5,1719.1 600.0,1772.9 600.4,1793.8 600.9,1781.0 601.3,1734.3 601.8,1677.7 602.2,1652.3 602.7,1682.3 603.1,1732.3 603.6,1774.9 604.1,1791.5 604.5,1783.3 605.0,1753.5 605.4,1717.4 605.9,1701.2 606.3,1728.9 606.8,1775.2 607.2,1814.7 607.7,1830.0 608.1,1814.1 608.6,1756.3 609.0,1686.3 609.5,1654.8 610.0,1691.7 610.4,1753.4 610.9,1806.0 611.3,1826.4 611.8,1810.9 612.2,1754.5 612.7,1686.2 613.1,1655.5 613.6,1694.4 614.0,1759.6 614.5,1815.2 615.0,1836.7 615.4,1823.8 615.9,1776.6 616.3,1719.5 616.8,1693.8 617.2,1719.4 617.7,1762.1 618.1,1798.5 618.6,1812.7 619.0,1801.0 619.5,1758.4 619.9,1706.8 620.4,1683.6 620.9,1709.7 621.3,1753.4 621.8,1790.6 622.2,1805.1 622.7,1795.3 623.1,1759.7 623.6,1716.5 624.0,1697.1 624.5,1726.8 624.9,1776.4 625.4,1818.7 625.9,1835.2 626.3,1826.3 626.8,1794.3 627.2,1755.4 627.7,1737.9 628.1,1760.8 628.6,1799.1 629.0,1831.8 629.5,1844.5 629.9,1835.9 630.4,1804.4 630.8,1766.3 631.3,1749.2 631.8,1764.7 632.2,1790.6 632.7,1812.6 633.1,1821.2 633.6,1804.9 634.0,1745.6 634.5,1673.7 634.9,1641.4 635.4,1680.1 635.8,1744.8 636.3,1799.9 636.8,1821.3 637.2,1804.6 637.7,1743.5 638.1,1669.5 638.6,1636.3 639.0,1676.1 639.5,1742.8 639.9,1799.6 640.4,1821.7 640.8,1813.2 641.3,1782.1 641.7,1744.5 642.2,1727.6 642.7,1744.9 643.1,1773.7 643.6,1798.4 644.0,1807.9 644.5,1801.8 644.9,1779.5 645.4,1752.4 645.8,1740.3 646.3,1756.4 646.7,1783.3 647.2,1806.3 647.6,1815.2 648.1,1799.7 648.6,1743.1 649.0,1674.4 649.5,1643.6 649.9,1686.6 650.4,1758.5 650.8,1819.8 651.3,1843.6 651.7,1830.5 652.2,1782.5 652.6,1724.4 653.1,1698.3 653.6,1729.2 654.0,1780.7 654.5,1824.6 654.9,1841.7 655.4,1827.4 655.8,1775.2 656.3,1712.0 656.7,1683.7 657.2,1712.0 657.6,1759.3 658.1,1799.6 658.5,1815.3 659.0,1804.2 659.5,1763.7 659.9,1714.7 660.4,1692.6 660.8,1717.6 661.3,1759.2 661.7,1794.7 662.2,1808.5 662.6,1802.6 663.1,1781.2 663.5,1755.2 664.0,1743.5 664.5,1765.6 664.9,1802.5 665.4,1833.9 665.8,1846.1 666.3,1829.2 666.7,1767.6 667.2,1693.0 667.6,1659.4 668.1,1694.1 668.5,1752.0 669.0,1801.4 669.4,1820.6 669.9,1804.8 670.4,1747.5 670.8,1678.1 671.3,1646.9 671.7,1681.0 672.2,1737.9 672.6,1786.5 673.1,1805.4 673.5,1802.1 674.0,1790.4 674.4,1776.1 674.9,1769.7 675.3,1784.1 675.8,1808.1 676.3,1828.6 676.7,1836.6 677.2,1817.0 677.6,1745.7 678.1,1659.2 678.5,1620.4 679.0,1661.3 679.4,1729.6 679.9,1787.9 680.3,1810.6 680.8,1798.3 681.3,1753.6 681.7,1699.4 682.2,1675.0 682.6,1711.9 683.1,1773.5 683.5,1826.1 684.0,1846.5 684.4,1827.6 684.9,1758.6 685.3,1675.0 685.8,1637.4 686.2,1671.8 686.7,1729.2 687.2,1778.2 687.6,1797.2 688.1,1783.7 688.5,1734.5 689.0,1674.9 689.4,1648.1 689.9,1682.9 690.3,1741.1 690.8,1790.7 691.2,1809.9 691.7,1804.8 692.2,1786.3 692.6,1763.7 693.1,1753.6 693.5,1767.2 694.0,1789.8 694.4,1809.1 694.9,1816.6 695.3,1804.7 695.8,1761.2 696.2,1708.4 696.7,1684.7 697.1,1715.6 697.6,1767.1 698.1,1811.1 698.5,1828.2 699.0,1814.5 699.4,1764.7 699.9,1704.4 700.3,1677.3 700.8,1707.0 701.2,1756.6 701.7,1799.0 702.1,1815.4 702.6,1799.8 703.0,1743.0 703.5,1674.0 704.0,1643.0 704.4,1682.2 704.9,1747.7 705.3,1803.5 705.8,1825.2 706.2,1812.7 706.7,1767.1 707.1,1711.9 707.6,1687.1 708.0,1713.2 708.5,1756.8 709.0,1794.1 709.4,1808.6 709.9,1797.0 710.3,1755.0 710.8,1704.1 711.2,1681.2 711.7,1711.7 712.1,1762.7 712.6,1806.2 713.0,1823.0 713.5,1805.5 713.9,1741.7 714.4,1664.3 714.9,1629.5 715.3,1676.1 715.8,1753.8 716.2,1820.2 716.7,1845.9 717.1,1824.4 717.6,1746.2 718.0,1651.4 718.5,1608.8 718.9,1655.4 719.4,1733.2 719.9,1799.6 720.3,1825.4 720.8,1807.0 721.2,1739.9 721.7,1658.7 722.1,1622.2 722.6,1664.9 723.0,1736.2 723.5,1797.1 723.9,1820.7 724.4,1804.7 724.8,1746.4 725.3,1675.7 725.8,1643.9 726.2,1681.0 726.7,1742.9 727.1,1795.7 727.6,1816.2 728.0,1798.2 728.5,1732.4 728.9,1652.7 729.4,1616.9 729.8,1655.8 730.3,1720.8 730.7,1776.3 731.2,1797.8 731.7,1781.4 732.1,1721.8 732.6,1649.4 733.0,1616.9 733.5,1657.4 733.9,1725.0 734.4,1782.8 734.8,1805.2 735.3,1795.1 735.7,1758.5 736.2,1714.1 736.7,1694.2 737.1,1724.7 737.6,1775.6 738.0,1819.1 738.5,1836.0 738.9,1825.4 739.4,1786.7 739.8,1739.8 740.3,1718.8 740.7,1741.5 741.2,1779.5 741.6,1811.9 742.1,1824.5 742.6,1811.4 743.0,1764.0 743.5,1706.5 743.9,1680.6 744.4,1706.5 744.8,1749.6 745.3,1786.4 745.7,1800.7 746.2,1789.9 746.6,1750.5 747.1,1702.8 747.6,1681.4 748.0,1712.1 748.5,1763.4 748.9,1807.2 749.4,1824.2 749.8,1810.9 750.3,1762.5 750.7,1703.8 751.2,1677.5 751.6,1709.0 752.1,1761.6 752.5,1806.5 753.0,1824.0 753.5,1807.1 753.9,1745.8 754.4,1671.5 754.8,1638.1 755.3,1674.7 755.7,1736.0 756.2,1788.2 756.6,1808.5 757.1,1793.3 757.5,1738.1 758.0,1671.1 758.4,1641.0 758.9,1678.8 759.4,1741.9 759.8,1795.7 760.3,1816.6 760.7,1801.9 761.2,1748.5 761.6,1683.7 762.1,1654.6 762.5,1687.2 763.0,1741.7 763.4,1788.2 763.9,1806.2 764.4,1790.1 764.8,1731.5 765.3,1660.4 765.7,1628.5 766.2,1669.4 766.6,1737.8 767.1,1796.1 767.5,1818.7 768.0,1806.4 768.4,1761.6 768.9,1707.2 769.3,1682.8 769.8,1711.9 770.3,1760.7 770.7,1802.2 771.2,1818.4 771.6,1800.9 772.1,1737.6 772.5,1660.7 773.0,1626.2 773.4,1669.1 773.9,1740.7 774.3,1801.9 774.8,1825.6 775.3,1809.3 775.7,1749.8 776.2,1677.8 776.6,1645.4 777.1,1678.6 777.5,1734.1 778.0,1781.5 778.4,1799.9 778.9,1785.9 779.3,1735.0 779.8,1673.2 780.2,1645.5 780.7,1685.1 781.2,1751.4 781.6,1808.0 782.1,1829.9 782.5,1814.7 783.0,1759.2 783.4,1691.9 783.9,1661.7 784.3,1696.8 784.8,1755.3 785.2,1805.3 785.7,1824.7 786.2,1811.4 786.6,1763.0 787.1,1704.3 787.5,1677.9 788.0,1709.2 788.4,1761.4 788.9,1806.0 789.3,1823.3 789.8,1808.0 790.2,1752.1 790.7,1684.4 791.1,1653.9 791.6,1694.4 792.1,1762.0 792.5,1819.7 793.0,1842.0 793.4,1828.2 793.9,1777.7 794.3,1716.4 794.8,1688.9 795.2,1720.4 795.7,1773.1 796.1,1818.1 796.6,1835.5 797.0,1818.1 797.5,1754.6 798.0,1677.6 798.4,1643.0 798.9,1680.6 799.3,1743.6 799.8,1797.2 800.2,1818.1 800.7,1806.8 801.1,1765.7 801.6,1715.8 802.0,1693.4 802.5,1721.9 803.0,1769.3 803.4,1809.9 803.9,1825.6 804.3,1810.4 804.8,1755.3 805.2,1688.4 805.7,1658.4 806.1,1694.0 806.6,1753.3 807.0,1804.0 807.5,1823.7 807.9,1807.4 808.4,1748.1 808.9,1676.2 809.3,1644.0 809.8,1677.0 810.2,1732.1 810.7,1779.1 811.1,1797.4 811.6,1790.4 812.0,1765.0 812.5,1734.1 812.9,1720.3 813.4,1736.7 813.9,1764.2 814.3,1787.6 814.8,1796.7 815.2,1787.3 815.7,1753.0 816.1,1711.5 816.6,1692.8 817.0,1724.2 817.5,1776.6 817.9,1821.4 818.4,1838.7 818.8,1822.4 819.3,1762.8 819.8,1690.5 820.2,1658.1 820.7,1689.7 821.1,1742.4 821.6,1787.5 822.0,1805.0 822.5,1792.0 822.9,1745.0 823.4,1687.9 823.8,1662.2 824.3,1693.7 824.7,1746.3 825.2,1791.3 825.7,1808.7 826.1,1803.9 826.6,1786.7 827.0,1765.8 827.5,1756.4 827.9,1774.5 828.4,1804.6 828.8,1830.4 829.3,1840.3 829.7,1820.7 830.2,1749.1 830.7,1662.3 831.1,1623.3 831.6,1667.6 832.0,1741.6 832.5,1804.8 832.9,1829.3 833.4,1816.5 833.8,1769.9 834.3,1713.5 834.7,1688.1 835.2,1720.3 835.6,1774.1 836.1,1819.9 836.6,1837.7 837.0,1831.7 837.5,1809.6 837.9,1782.7 838.4,1770.7 838.8,1779.8 839.3,1795.1 839.7,1808.2 840.2,1813.2 840.6,1798.7 841.1,1745.6 841.6,1681.3 842.0,1652.5 842.5,1680.5 842.9,1727.4 843.4,1767.4 843.8,1783.0 844.3,1776.7 844.7,1754.0 845.2,1726.5 845.6,1714.1 846.1,1735.6 846.5,1771.5 847.0,1802.1 847.5,1814.0 847.9,1800.0 848.4,1748.9 848.8,1687.1 849.3,1659.3 849.7,1693.3 850.2,1750.0 850.6,1798.4 851.1,1817.2 851.5,1802.0 852.0,1746.7 852.4,1679.7 852.9,1649.6 853.4,1683.1 853.8,1739.0 854.3,1786.7 854.7,1805.2 855.2,1799.1 855.6,1776.6 856.1,1749.4 856.5,1737.1 857.0,1751.6 857.4,1775.8 857.9,1796.4 858.4,1804.4 858.8,1798.6 859.3,1777.4 859.7,1751.7 860.2,1740.1 860.6,1760.7 861.1,1795.1 861.5,1824.4 864.4,1670.1 866.4,1856.5 866.8,1854.1 867.2,1857.6 867.7,1857.8 868.1,1857.1 868.6,1855.9 869.0,1853.8 869.5,1854.2 869.9,1856.8 870.4,1858.1 870.8,1855.5 871.3,1855.6 871.7,1857.2 872.2,1855.5 872.6,1853.7 873.1,1857.6 873.5,1856.8 874.0,1854.3 874.4,1857.6 874.9,1857.7 875.3,1857.5 875.8,1854.7 876.2,1857.7 876.7,1857.9 877.1,1855.3 877.6,1854.7 878.0,1854.7 878.5,1856.3 878.9,1854.0 879.4,1857.6 879.8,1856.2 880.3,1856.6 880.7,1855.7 881.2,1857.4 881.6,1857.6 882.1,1853.7 882.5,1856.9 883.0,1855.9 883.4,1854.0 883.9,1856.9 884.3,1856.6 884.8,1855.6 885.2,1858.0 885.7,1858.2 886.1,1855.3 886.6,1856.6 887.0,1857.9 887.5,1857.0 887.9,1855.0 888.4,1854.7 888.8,1855.9 889.3,1857.3 889.7,1854.3 890.2,1857.3 890.6,1854.7 891.1,1857.6 891.5,1853.9 892.0,1854.7 892.4,1855.9 892.9,1856.3 893.3,1855.6 893.8,1855.2 894.2,1855.7 894.7,1855.0 895.1,1857.9 895.6,1856.3 896.0,1854.7 896.5,1856.2 896.9,1853.7 897.4,1855.8 897.8,1856.8 898.3,1854.1 898.7,1856.3 899.2,1855.7 899.6,1855.3 900.1,1854.3 900.5,1857.3 901.0,1854.2 901.4,1855.6 901.9,1856.6 902.3,1856.7 902.8,1853.7 903.2,1853.8 903.7,1855.7 904.1,1856.7 904.6,1853.7 905.0,1858.2 905.5,1858.1 905.9,1856.0 906.4,1855.5 906.8,1858.3 907.3,1857.4 907.7,1857.9 908.2,1857.1 908.6,1857.4 909.1,1857.7 909.5,1857.7 910.0,1856.6 910.4,1857.7 910.9,1854.7 911.3,1856.4 911.8,1857.8 912.2,1855.2 912.7,1854.6 913.1,1856.6 913.6,1858.3 914.0,1855.2 914.5,1854.7 914.9,1854.1 915.4,1854.9 915.8,1855.5 916.3,1856.7 916.7,1857.2 917.2,1858.0 917.6,1854.4 918.1,1855.7 918.5,1857.0 919.0,1857.7 919.4,1857.0 919.9,1854.7 920.3,1857.3 920.8,1858.1 921.2,1856.5 921.7,1856.7 922.1,1855.0 922.6,1855.7 923.0,1856.1 923.5,1853.7 923.9,1854.3 924.4,1857.7 924.8,1857.1 925.3,1856.3 925.7,1858.0 926.2,1854.7 926.6,1854.7 927.1,1856.9 927.5,1854.0 928.0,1855.7 928.4,1857.3 928.9,1855.4 929.3,1855.1 929.8,1854.9 930.2,1853.7 930.7,1854.0 931.1,1856.4 931.6,1856.3 932.0,1858.2 932.5,1856.3 932.9,1857.5 933.4,1857.7 933.8,1854.5 934.3,1858.2 934.7,1857.7 935.2,1855.2 935.6,1855.6 936.1,1856.3 936.5,1854.5 937.0,1857.2 937.4,1857.3 937.9,1855.9 938.3,1857.8 938.8,1855.1 939.2,1853.9 939.7,1854.5 940.1,1854.1 940.6,1858.0 941.0,1856.3 941.5,1854.0 941.9,1854.3 942.4,1855.5 942.8,1855.2 943.3,1857.1 943.7,1857.1 944.2,1858.0 944.6,1854.0 945.1,1856.9 945.5,1853.6 946.0,1858.3 946.4,1854.5 946.9,1855.8 947.3,1858.1 947.8,1855.2 948.2,1855.0 948.7,1855.0 949.1,1855.0 949.6,1855.1 950.0,1854.7 950.5,1856.5 950.9,1853.8 951.4,1856.0 951.8,1857.0 952.3,1853.6 952.7,1857.0 953.2,1856.2 953.6,1855.0 954.1,1854.5 954.5,1856.8 955.0,1858.1 955.4,1855.6 955.9,1855.5 956.3,1854.9 956.8,1857.1 957.2,1854.4 957.7,1854.7 958.1,1854.2 958.6,1854.7 959.0,1855.1 959.5,1855.7 959.9,1854.3 960.4,1857.2 960.8,1855.2 961.3,1854.6 961.7,1854.6 962.2,1857.7 962.6,1856.8 963.1,1853.9 963.5,1854.6 964.0,1857.6 964.4,1856.0 964.9,1854.5 965.3,1854.2 965.8,1855.9 966.2,1857.8 966.7,1857.3 967.1,1858.2 967.6,1857.5 968.0,1858.0 968.5,1855.0 968.9,1855.0 969.4,1856.2 969.8,1854.1 970.3,1857.6 970.7,1857.4 971.2,1855.4 971.6,1855.8 972.1,1857.7 972.5,1854.0 973.0,1855.4 973.4,1855.4 973.9,1856.5 974.3,1855.4 974.8,1858.0 975.2,1856.9 975.7,1855.3 976.1,1855.5 976.6,1855.8 977.0,1858.1 977.5,1856.8 977.9,1853.7 978.4,1853.8 978.8,1854.4 979.3,1858.0 979.7,1858.0 980.2,1857.3 980.6,1854.4 981.1,1857.4 981.5,1857.2 982.0,1857.1 982.4,1854.8 982.9,1855.8 983.3,1854.2 983.8,1858.0 984.2,1858.1 984.7,1854.3 985.1,1857.8 985.6,1854.9 986.0,1855.5 986.5,1857.3 986.9,1857.1 987.4,1854.8 987.8,1858.2 988.3,1853.8 988.7,1858.1 989.2,1857.6 989.6,1855.3 990.1,1857.8 990.5,1853.6 991.0,1856.3 991.4,1858.0 991.9,1857.5 992.3,1855.7 992.8,1854.2 993.2,1857.1 993.7,1856.4" fill="none" stroke="#1a72d0" stroke-width="1.2" stroke-linejoin="round"/>
<polyline points="108.0,1636.8 109.0,1636.8 110.0,1636.8 111.0,1636.8 112.0,1636.8 113.0,1636.8 114.0,1636.8 115.0,1636.8 116.0,1631.6 117.0,1631.6 118.0,1631.6 119.0,1631.6 120.0,1631.6 121.0,1631.6 122.0,1631.6 123.0,1631.6 124.0,1631.6 125.0,1631.6 126.0,1631.6 127.0,1631.6 128.0,1631.6 129.0,1631.6 130.0,1631.6 131.0,1631.6 132.0,1631.6 133.0,1631.6 134.0,1631.6 135.0,1631.6 136.0,1631.6 137.0,1631.6 138.0,1631.6 139.0,1631.6 140.0,1631.6 141.0,1631.6 142.0,1631.6 143.0,1631.6 144.0,1631.6 145.0,1631.6 146.0,1631.6 147.0,1631.6 148.0,1626.4 149.0,1626.4 150.0,1626.4 151.0,1626.4 152.0,1626.4 153.0,1626.4 154.0,1626.4 155.0,1626.4 156.0,1626.4 157.0,1626.4 158.0,1626.4 159.0,1626.4 160.0,1626.4 161.0,1626.4 162.0,1626.4 163.0,1626.4 164.0,1626.4 165.0,1626.4 166.0,1626.4 167.0,1626.4 168.0,1626.4 169.0,1626.4 170.0,1626.4 171.0,1626.4 172.0,1626.4 173.0,1626.4 174.0,1626.4 175.0,1626.4 176.0,1621.2 177.0,1621.2 178.0,1621.2 179.0,1621.2 180.0,1621.2 181.0,1621.2 182.0,1621.2 183.0,1621.2 184.0,1621.2 185.0,1621.2 186.0,1621.2 187.0,1621.2 188.0,1621.2 189.0,1621.2 190.0,1621.2 191.0,1621.2 192.0,1621.2 193.0,1621.2 194.0,1621.2 195.0,1621.2 196.0,1621.2 197.0,1621.2 198.0,1621.2 199.0,1621.2 200.0,1621.2 201.0,1616.0 202.0,1616.0 203.0,1616.0 204.0,1616.0 205.0,1616.0 206.0,1616.0 207.0,1616.0 208.0,1616.0 209.0,1616.0 210.0,1616.0 211.0,1616.0 212.0,1616.0 213.0,1616.0 214.0,1616.0 215.0,1616.0 216.0,1616.0 217.0,1616.0 218.0,1616.0 219.0,1616.0 220.0,1616.0 221.0,1616.0 222.0,1616.0 223.0,1610.9 224.0,1610.9 225.0,1610.9 226.0,1610.9 227.0,1610.9 228.0,1610.9 229.0,1610.9 230.0,1610.9 231.0,1610.9 232.0,1610.9 233.0,1610.9 234.0,1610.9 235.0,1610.9 236.0,1610.9 237.0,1610.9 238.0,1610.9 239.0,1610.9 240.0,1610.9 241.0,1605.7 242.0,1605.7 243.0,1605.7 244.0,1605.7 245.0,1605.7 246.0,1605.7 247.0,1605.7 248.0,1605.7 249.0,1605.7 250.0,1605.7 251.0,1605.7 252.0,1605.7 253.0,1605.7 254.0,1605.7 255.0,1605.7 256.0,1605.7 257.0,1605.7 258.0,1605.7 259.0,1605.7 260.0,1605.7 261.0,1605.7 262.0,1605.7 263.0,1605.7 264.0,1605.7 265.0,1605.7 266.0,1600.5 267.0,1600.5 268.0,1600.5 269.0,1600.5 270.0,1600.5 271.0,1600.5 272.0,1600.5 273.0,1600.5 274.0,1600.5 275.0,1600.5 276.0,1600.5 277.0,1600.5 278.0,1600.5 279.0,1600.5 280.0,1600.5 281.0,1600.5 282.0,1600.5 283.0,1600.5 284.0,1600.5 285.0,1600.5 286.0,1600.5 287.0,1600.5 288.0,1600.5 289.0,1600.5 290.0,1600.5 291.0,1600.5 292.0,1600.5 293.0,1600.5 294.0,1600.5 295.0,1600.5 296.0,1600.5 297.0,1600.5 298.0,1600.5 299.0,1600.5 300.0,1600.5 301.0,1600.5 302.0,1600.5 303.0,1595.3 304.0,1595.3 305.0,1595.3 306.0,1595.3 307.0,1595.3 308.0,1595.3 309.0,1595.3 310.0,1595.3 311.0,1595.3 312.0,1595.3 313.0,1595.3 314.0,1595.3 315.0,1595.3 316.0,1595.3 317.0,1595.3 318.0,1595.3 319.0,1595.3 320.0,1595.3 321.0,1595.3 322.0,1595.3 323.0,1595.3 324.0,1595.3 325.0,1595.3 326.0,1595.3 327.0,1595.3 328.0,1595.3 329.0,1595.3 330.0,1595.3 331.0,1595.3 332.0,1595.3 333.0,1595.3 334.0,1595.3 335.0,1595.3 336.0,1595.3 337.0,1595.3 338.0,1595.3 339.0,1595.3 340.0,1595.3 341.0,1595.3 342.0,1595.3 343.0,1590.1 344.0,1590.1 345.0,1590.1 346.0,1590.1 347.0,1590.1 348.0,1590.1 349.0,1590.1 350.0,1590.1 351.0,1590.1 352.0,1590.1 353.0,1590.1 354.0,1590.1 355.0,1590.1 356.0,1590.1 357.0,1590.1 358.0,1590.1 359.0,1590.1 360.0,1590.1 361.0,1590.1 362.0,1590.1 363.0,1590.1 364.0,1590.1 365.0,1590.1 366.0,1590.1 367.0,1590.1 368.0,1590.1 369.0,1590.1 370.0,1590.1 371.0,1590.1 372.0,1590.1 373.0,1590.1 374.0,1590.1 375.0,1590.1 376.0,1590.1 377.0,1590.1 378.0,1590.1 379.0,1590.1 380.0,1590.1 381.0,1590.1 382.0,1590.1 383.0,1585.0 384.0,1585.0 385.0,1585.0 386.0,1585.0 387.0,1585.0 388.0,1585.0 389.0,1585.0 390.0,1585.0 391.0,1585.0 392.0,1585.0 393.0,1585.0 394.0,1585.0 395.0,1585.0 396.0,1585.0 397.0,1585.0 398.0,1585.0 399.0,1585.0 400.0,1585.0 401.0,1585.0 402.0,1585.0 403.0,1585.0 404.0,1585.0 405.0,1585.0 406.0,1585.0 407.0,1585.0 408.0,1585.0 409.0,1585.0 410.0,1585.0 411.0,1585.0 412.0,1585.0 413.0,1585.0 414.0,1585.0 415.0,1585.0 416.0,1579.8 417.0,1579.8 418.0,1579.8 419.0,1579.8 420.0,1579.8 421.0,1579.8 422.0,1579.8 423.0,1579.8 424.0,1579.8 425.0,1579.8 426.0,1579.8 427.0,1579.8 428.0,1579.8 429.0,1579.8 430.0,1579.8 431.0,1579.8 432.0,1579.8 433.0,1579.8 434.0,1579.8 435.0,1579.8 436.0,1579.8 437.0,1579.8 438.0,1579.8 439.0,1579.8 440.0,1579.8 441.0,1579.8 442.0,1579.8 443.0,1579.8 444.0,1579.8 445.0,1579.8 446.0,1579.8 447.0,1579.8 448.0,1574.6 449.0,1574.6 450.0,1574.6 451.0,1574.6 452.0,1574.6 453.0,1574.6 454.0,1574.6 455.0,1574.6 456.0,1574.6 457.0,1574.6 458.0,1574.6 459.0,1574.6 460.0,1574.6 461.0,1574.6 462.0,1574.6 463.0,1574.6 464.0,1574.6 465.0,1574.6 466.0,1574.6 467.0,1574.6 468.0,1574.6 469.0,1574.6 470.0,1574.6 471.0,1574.6 472.0,1574.6 473.0,1574.6 474.0,1574.6 475.0,1574.6 476.0,1574.6 477.0,1574.6 478.0,1574.6 479.0,1574.6 480.0,1574.6 481.0,1574.6 482.0,1574.6 483.0,1574.6 484.0,1574.6 485.0,1574.6 486.0,1574.6 487.0,1574.6 488.0,1574.6 489.0,1574.6 490.0,1574.6 491.0,1574.6 492.0,1574.6 493.0,1574.6 494.0,1574.6 495.0,1574.6 496.0,1574.6 497.0,1574.6 498.0,1574.6 499.0,1574.6 500.0,1574.6 501.0,1574.6 502.0,1574.6 503.0,1574.6 504.0,1574.6 505.0,1574.6 506.0,1574.6 507.0,1574.6 508.0,1574.6 509.0,1574.6 510.0,1574.6 511.0,1574.6 512.0,1574.6 513.0,1574.6 514.0,1574.6 515.0,1574.6 516.0,1574.6 517.0,1574.6 518.0,1574.6 519.0,1574.6 520.0,1574.6 521.0,1574.6 522.0,1574.6 523.0,1574.6 524.0,1574.6 525.0,1574.6 526.0,1574.6 527.0,1574.6 528.0,1574.6 529.0,1574.6 530.0,1574.6 531.0,1574.6 532.0,1574.6 533.0,1574.6 534.0,1574.6 535.0,1574.6 536.0,1569.4 537.0,1569.4 538.0,1569.4 539.0,1569.4 540.0,1569.4 541.0,1569.4 542.0,1569.4 543.0,1569.4 544.0,1569.4 545.0,1569.4 546.0,1569.4 547.0,1569.4 548.0,1569.4 549.0,1569.4 550.0,1569.4 551.0,1569.4 552.0,1569.4 553.0,1569.4 554.0,1569.4 555.0,1569.4 556.0,1569.4 557.0,1569.4 558.0,1569.4 559.0,1569.4 560.0,1569.4 561.0,1569.4 562.0,1569.4 563.0,1569.4 564.0,1569.4 565.0,1569.4 566.0,1569.4 567.0,1569.4 568.0,1569.4 569.0,1569.4 570.0,1569.4 571.0,1569.4 572.0,1569.4 573.0,1569.4 574.0,1569.4 575.0,1569.4 576.0,1569.4 577.0,1569.4 578.0,1569.4 579.0,1569.4 580.0,1569.4 581.0,1569.4 582.0,1569.4 583.0,1569.4 584.0,1569.4 585.0,1569.4 586.0,1569.4 587.0,1569.4 588.0,1569.4 589.0,1569.4 590.0,1569.4 591.0,1569.4 592.0,1569.4 593.0,1569.4 594.0,1569.4 595.0,1569.4 596.0,1569.4 597.0,1569.4 598.0,1569.4 599.0,1569.4 600.0,1569.4 601.0,1569.4 602.0,1569.4 603.0,1569.4 604.0,1569.4 605.0,1569.4 606.0,1569.4 607.0,1569.4 608.0,1569.4 609.0,1569.4 610.0,1569.4 611.0,1569.4 612.0,1569.4 613.0,1569.4 614.0,1569.4 615.0,1569.4 616.0,1569.4 617.0,1569.4 618.0,1569.4 619.0,1569.4 620.0,1569.4 621.0,1569.4 622.0,1569.4 623.0,1569.4 624.0,1569.4 625.0,1569.4 626.0,1569.4 627.0,1569.4 628.0,1569.4 629.0,1569.4 630.0,1569.4 631.0,1569.4 632.0,1569.4 633.0,1569.4 634.0,1569.4 635.0,1569.4 636.0,1569.4 637.0,1569.4 638.0,1569.4 639.0,1569.4 640.0,1569.4 641.0,1569.4 642.0,1569.4 643.0,1569.4 644.0,1569.4 645.0,1569.4 646.0,1569.4 647.0,1569.4 648.0,1569.4 649.0,1569.4 650.0,1569.4 651.0,1569.4 652.0,1569.4 653.0,1569.4 654.0,1569.4 655.0,1569.4 656.0,1569.4 657.0,1569.4 658.0,1569.4 659.0,1569.4 660.0,1569.4 661.0,1569.4 662.0,1569.4 663.0,1569.4 664.0,1569.4 665.0,1569.4 666.0,1569.4 667.0,1569.4 668.0,1569.4 669.0,1569.4 670.0,1569.4 671.0,1569.4 672.0,1569.4 673.0,1569.4 674.0,1569.4 675.0,1569.4 676.0,1569.4 677.0,1569.4 678.0,1569.4 679.0,1569.4 680.0,1569.4 681.0,1569.4 682.0,1569.4 683.0,1569.4 684.0,1569.4 685.0,1569.4 686.0,1569.4 687.0,1569.4 688.0,1569.4 689.0,1569.4 690.0,1569.4 691.0,1569.4 692.0,1569.4 693.0,1569.4 694.0,1569.4 695.0,1569.4 696.0,1569.4 697.0,1569.4 698.0,1569.4 699.0,1569.4 700.0,1569.4 701.0,1569.4 702.0,1569.4 703.0,1569.4 704.0,1569.4 705.0,1569.4 706.0,1569.4 707.0,1569.4 708.0,1569.4 709.0,1569.4 710.0,1569.4 711.0,1569.4 712.0,1569.4 713.0,1569.4 714.0,1569.4 715.0,1569.4 716.0,1569.4 717.0,1569.4 718.0,1569.4 719.0,1569.4 720.0,1569.4 721.0,1569.4 722.0,1569.4 723.0,1569.4 724.0,1569.4 725.0,1569.4 726.0,1569.4 727.0,1569.4 728.0,1569.4 729.0,1569.4 730.0,1569.4 731.0,1569.4 732.0,1569.4 733.0,1569.4 734.0,1569.4 735.0,1569.4 736.0,1569.4 737.0,1569.4 738.0,1569.4 739.0,1569.4 740.0,1569.4 741.0,1569.4 742.0,1569.4 743.0,1569.4 744.0,1569.4 745.0,1569.4 746.0,1569.4 747.0,1569.4 748.0,1569.4 749.0,1569.4 750.0,1569.4 751.0,1569.4 752.0,1569.4 753.0,1574.6 754.0,1574.6 755.0,1574.6 756.0,1574.6 757.0,1574.6 758.0,1574.6 759.0,1574.6 760.0,1574.6 761.0,1574.6 762.0,1574.6 763.0,1574.6 764.0,1574.6 765.0,1574.6 766.0,1574.6 767.0,1574.6 768.0,1574.6 769.0,1574.6 770.0,1574.6 771.0,1574.6 772.0,1574.6 773.0,1574.6 774.0,1574.6 775.0,1574.6 776.0,1574.6 777.0,1574.6 778.0,1574.6 779.0,1574.6 780.0,1574.6 781.0,1574.6 782.0,1574.6 783.0,1574.6 784.0,1574.6 785.0,1574.6 786.0,1574.6 787.0,1574.6 788.0,1574.6 789.0,1574.6 790.0,1574.6 791.0,1574.6 792.0,1574.6 793.0,1574.6 794.0,1574.6 795.0,1574.6 796.0,1574.6 797.0,1574.6 798.0,1574.6 799.0,1574.6 800.0,1574.6 801.0,1574.6 802.0,1574.6 803.0,1574.6 804.0,1574.6 805.0,1574.6 806.0,1574.6 807.0,1574.6 808.0,1574.6 809.0,1574.6 810.0,1574.6 811.0,1574.6 812.0,1574.6 813.0,1579.8 814.0,1579.8 815.0,1579.8 816.0,1579.8 817.0,1579.8 818.0,1579.8 819.0,1579.8 820.0,1579.8 821.0,1579.8 822.0,1579.8 823.0,1579.8 824.0,1579.8 825.0,1579.8 826.0,1579.8 827.0,1579.8 828.0,1579.8 829.0,1579.8 830.0,1579.8 831.0,1579.8 832.0,1579.8 833.0,1579.8 834.0,1579.8 835.0,1579.8 836.0,1579.8 837.0,1579.8 838.0,1579.8 839.0,1579.8 840.0,1579.8 841.0,1579.8 842.0,1579.8 843.0,1579.8 844.0,1579.8 845.0,1579.8 846.0,1579.8 847.0,1579.8 848.0,1579.8 849.0,1579.8 850.0,1579.8 851.0,1579.8 852.0,1579.8 853.0,1579.8 854.0,1579.8 855.0,1579.8 856.0,1579.8 857.0,1579.8 858.0,1579.8 859.0,1585.0 860.0,1585.0 861.0,1585.0 862.0,1585.0 863.0,1585.0 864.0,1585.0 865.0,1585.0 866.0,1585.0 867.0,1585.0 868.0,1585.0 869.0,1585.0 870.0,1585.0 871.0,1585.0 872.0,1585.0 873.0,1585.0 874.0,1585.0 875.0,1585.0 876.0,1585.0 877.0,1585.0 878.0,1585.0 879.0,1585.0 880.0,1585.0 881.0,1585.0 882.0,1585.0 883.0,1585.0 884.0,1585.0 885.0,1585.0 886.0,1585.0 887.0,1585.0 888.0,1585.0 889.0,1585.0 890.0,1585.0 891.0,1585.0 892.0,1585.0 893.0,1585.0 894.0,1585.0 895.0,1585.0 896.0,1585.0 897.0,1585.0 898.0,1585.0 899.0,1585.0 900.0,1585.0 901.0,1590.1 902.0,1590.1 903.0,1590.1 904.0,1590.1 905.0,1590.1 906.0,1590.1 907.0,1590.1 908.0,1590.1 909.0,1590.1 910.0,1590.1 911.0,1590.1 912.0,1590.1 913.0,1590.1 914.0,1590.1 915.0,1590.1 916.0,1590.1 917.0,1590.1 918.0,1590.1 919.0,1590.1 920.0,1590.1 921.0,1590.1 922.0,1590.1 923.0,1590.1 924.0,1590.1 925.0,1590.1 926.0,1590.1 927.0,1590.1 928.0,1590.1 929.0,1590.1 930.0,1590.1 931.0,1590.1 932.0,1590.1 933.0,1590.1 934.0,1590.1 935.0,1590.1 936.0,1595.3 937.0,1595.3 938.0,1595.3 939.0,1595.3 940.0,1595.3 941.0,1595.3 942.0,1595.3 943.0,1595.3 944.0,1595.3 945.0,1595.3 946.0,1595.3 947.0,1595.3 948.0,1595.3 949.0,1595.3 950.0,1595.3 951.0,1595.3 952.0,1595.3 953.0,1595.3 954.0,1595.3 955.0,1595.3 956.0,1595.3 957.0,1595.3 958.0,1595.3 959.0,1595.3 960.0,1595.3 961.0,1595.3 962.0,1595.3 963.0,1595.3 964.0,1595.3 965.0,1595.3 966.0,1595.3 967.0,1595.3 968.0,1595.3 969.0,1595.3 970.0,1595.3 971.0,1595.3 972.0,1595.3 973.0,1595.3 974.0,1595.3 975.0,1600.5 976.0,1600.5 977.0,1600.5 978.0,1600.5 979.0,1600.5 980.0,1600.5 981.0,1600.5 982.0,1600.5 983.0,1600.5 984.0,1600.5 985.0,1600.5 986.0,1600.5 987.0,1600.5 988.0,1600.5 989.0,1600.5 990.0,1600.5 991.0,1600.5 992.0,1600.5 993.0,1600.5" fill="none" stroke="#000" stroke-width="5.6" stroke-linejoin="miter"/>
<path d="M111.5,1634.7v-6.5M112.5,1634.6v4.7M114.5,1634.3v5.9M116.5,1634.0v-3.2M121.5,1633.3v6.8M122.5,1633.1v-3.7M124.5,1632.8v4.5M127.5,1632.3v-6.5M128.5,1632.2v-4.1M129.5,1632.0v4.2M130.5,1631.8v-6.2M131.5,1631.7v5.4M132.5,1631.5v3.8M133.5,1631.3v3.6M135.5,1631.0v-4.9M136.5,1630.8v3.9M137.5,1630.7v-6.2M141.5,1630.0v4.4M142.5,1629.8v3.0M143.5,1629.7v-3.5M145.5,1629.3v6.6M146.5,1629.1v-4.7M149.5,1628.6v6.1M150.5,1628.4v4.6M151.5,1628.2v6.5M153.5,1627.9v-4.7M154.5,1627.7v-6.7M157.5,1627.1v6.5M158.5,1627.0v-3.5M159.5,1626.8v5.8M162.5,1626.2v-5.5M163.5,1626.0v5.5M165.5,1625.7v4.0M168.5,1625.1v3.3M169.5,1624.9v-5.7M171.5,1624.5v-3.1M173.5,1624.1v6.7M180.5,1622.7v6.7M181.5,1622.5v3.2M182.5,1622.4v-5.6M183.5,1622.2v7.0M186.5,1621.5v6.6M191.5,1620.5v3.4M192.5,1620.3v3.8M193.5,1620.1v-6.1M197.5,1619.2v7.0M198.5,1619.0v4.5M199.5,1618.8v6.7M200.5,1618.5v6.4M202.5,1618.1v-5.6M204.5,1617.6v-5.5M205.5,1617.4v6.8M207.5,1616.9v-5.8M213.5,1615.5v-5.3M214.5,1615.3v-5.2M216.5,1614.8v-4.7M219.5,1614.1v4.4M220.5,1613.8v3.4M222.5,1613.3v6.3M231.5,1611.0v-5.1M238.5,1609.0v3.3M242.5,1607.8v-6.1M243.5,1607.5v-5.5M244.5,1607.2v-3.5M245.5,1607.0v6.7M248.5,1606.3v4.8M249.5,1606.1v-3.8M254.5,1605.1v-5.6M255.5,1604.9v-3.7M264.5,1603.3v6.2M266.5,1603.0v4.9M267.5,1602.8v5.7M271.5,1602.2v-4.2M272.5,1602.0v-5.8M274.5,1601.7v-6.0M278.5,1601.1v-6.4M279.5,1601.0v3.5M281.5,1600.7v4.6M282.5,1600.6v5.5M285.5,1600.2v4.4M289.5,1599.6v6.1M291.5,1599.4v3.5M292.5,1599.2v-4.9M296.5,1598.7v-5.5M298.5,1598.4v-3.4M300.5,1598.2v-4.8M301.5,1598.1v-6.3M302.5,1597.9v6.9M304.5,1597.7v4.9M305.5,1597.6v3.6M308.5,1597.2v6.2M315.5,1596.3v6.9M316.5,1596.2v-3.2M317.5,1596.0v-5.3M318.5,1595.9v3.7M320.5,1595.6v5.1M321.5,1595.5v4.7M327.5,1594.7v-6.7M328.5,1594.5v-5.8M329.5,1594.4v4.8M331.5,1594.1v3.1M332.5,1594.0v6.5M333.5,1593.9v-6.0M334.5,1593.7v-3.2M336.5,1593.5v6.6M337.5,1593.3v-3.4M339.5,1593.1v4.8M340.5,1592.9v-4.9M341.5,1592.8v5.0M348.5,1591.9v-6.0M350.5,1591.7v-3.1M351.5,1591.5v-4.1M352.5,1591.4v3.8M353.5,1591.3v6.1M356.5,1590.9v-3.5M357.5,1590.8v4.0M358.5,1590.7v3.0M361.5,1590.3v-4.0M362.5,1590.2v6.8M367.5,1589.5v-3.6M368.5,1589.4v-5.5M369.5,1589.3v3.9M370.5,1589.2v-4.4M372.5,1588.9v-3.4M373.5,1588.8v3.8M374.5,1588.6v-3.3M375.5,1588.5v5.3M376.5,1588.4v-4.7M377.5,1588.3v-5.1M378.5,1588.1v4.4M385.5,1587.2v-3.1M387.5,1586.9v5.7M388.5,1586.8v3.7M392.5,1586.2v-5.8M395.5,1585.8v6.6M396.5,1585.6v5.6M397.5,1585.5v-5.1M400.5,1585.0v-3.6M403.5,1584.6v3.8M404.5,1584.4v6.4M410.5,1583.3v-5.5M414.5,1582.5v-4.5M415.5,1582.3v4.7M416.5,1582.1v4.9M419.5,1581.5v-4.2M427.5,1580.0v-6.4M431.5,1579.3v6.7M432.5,1579.1v-3.6M435.5,1578.6v3.1M436.5,1578.5v5.5M440.5,1577.9v-6.8M442.5,1577.7v5.5M444.5,1577.5v-3.7M446.5,1577.3v-3.5M447.5,1577.2v-4.1M451.5,1576.8v-5.2M452.5,1576.8v-5.4M454.5,1576.6v-4.9M456.5,1576.4v3.9M457.5,1576.4v4.0M463.5,1575.9v4.8M470.5,1575.5v-4.9M472.5,1575.4v3.8M475.5,1575.2v3.9M476.5,1575.1v-5.2M478.5,1575.0v-3.7M480.5,1574.9v4.2M488.5,1574.5v4.2M489.5,1574.4v5.2M490.5,1574.4v-6.2M492.5,1574.3v6.6M494.5,1574.2v3.1M496.5,1574.1v3.7M498.5,1574.0v-4.3M499.5,1573.9v5.7M500.5,1573.9v4.4M501.5,1573.8v4.6M508.5,1573.5v3.9M509.5,1573.4v3.4M510.5,1573.4v-3.6M511.5,1573.3v6.0M514.5,1573.2v-4.8M516.5,1573.1v4.0M517.5,1573.0v-5.1M518.5,1572.9v-4.6M520.5,1572.8v4.3M521.5,1572.8v-6.9M523.5,1572.7v3.6M525.5,1572.5v5.0M526.5,1572.5v-6.0M529.5,1572.3v6.1M530.5,1572.3v6.1M533.5,1572.1v-6.8M540.5,1571.7v5.0M542.5,1571.6v-6.9M544.5,1571.5v6.1M547.5,1571.3v6.1M554.5,1571.0v3.7M563.5,1570.5v-5.2M564.5,1570.4v6.5M566.5,1570.3v3.9M567.5,1570.3v4.6M568.5,1570.2v4.9M569.5,1570.2v4.6M572.5,1570.0v-6.0M573.5,1570.0v-3.5M574.5,1569.9v3.1M577.5,1569.8v-5.8M580.5,1569.6v5.9M583.5,1569.4v-4.4M585.5,1569.3v4.9M586.5,1569.3v-4.0M590.5,1569.0v-3.5M593.5,1568.8v-4.1M595.5,1568.7v-6.3M596.5,1568.7v-5.5M598.5,1568.6v-6.3M608.5,1568.1v-5.0M613.5,1568.0v6.4M615.5,1568.0v-5.3M616.5,1568.0v-5.3M617.5,1567.9v-3.0M619.5,1567.9v-4.6M624.5,1567.9v5.9M626.5,1568.0v6.2M634.5,1568.0v6.5M635.5,1568.0v5.4M636.5,1568.0v3.5M638.5,1568.0v-3.3M640.5,1568.0v-6.5M642.5,1568.1v5.1M646.5,1568.1v-4.2M647.5,1568.1v5.6M649.5,1568.1v5.4M650.5,1568.1v-6.9M652.5,1568.2v6.7M655.5,1568.2v-6.1M656.5,1568.2v-6.4M661.5,1568.3v4.5M662.5,1568.3v-4.7M664.5,1568.4v-6.8M665.5,1568.4v3.1M668.5,1568.4v4.8M671.5,1568.5v3.3M673.5,1568.5v-3.1M674.5,1568.6v3.7M676.5,1568.6v5.9M678.5,1568.6v4.9M680.5,1568.7v4.1M683.5,1568.7v3.0M684.5,1568.8v-3.1M686.5,1568.8v-4.5M688.5,1568.9v-6.2M690.5,1568.9v-3.5M691.5,1568.9v-4.3M692.5,1569.0v5.4M694.5,1569.0v6.9M695.5,1569.0v4.4M699.5,1569.1v4.3M701.5,1569.2v-3.9M703.5,1569.2v6.9M704.5,1569.3v5.8M708.5,1569.4v6.2M711.5,1569.5v5.7M714.5,1569.6v-6.2M716.5,1569.6v3.7M718.5,1569.7v3.7M719.5,1569.8v-4.7M721.5,1569.9v3.0M724.5,1570.0v5.0M725.5,1570.1v-4.4M727.5,1570.2v6.2M730.5,1570.4v6.2M734.5,1570.7v5.3M735.5,1570.7v6.0M737.5,1570.9v5.7M740.5,1571.1v-5.5M743.5,1571.3v3.2M747.5,1571.6v-4.1M750.5,1571.9v-5.9M754.5,1572.2v5.4M760.5,1572.6v-6.5M761.5,1572.7v-5.6M762.5,1572.8v-5.8M764.5,1572.9v4.8M765.5,1573.0v3.8M767.5,1573.2v-6.4M771.5,1573.5v5.3M773.5,1573.6v-5.9M777.5,1573.9v5.1M778.5,1574.0v4.3M780.5,1574.2v-3.9M783.5,1574.4v-4.1M784.5,1574.5v5.9M785.5,1574.6v4.2M788.5,1574.9v-3.9M790.5,1575.0v-5.8M792.5,1575.2v-6.6M793.5,1575.3v5.9M795.5,1575.5v-3.6M796.5,1575.6v-4.1M798.5,1575.8v4.7M799.5,1575.9v3.8M800.5,1576.0v-5.9M801.5,1576.1v5.8M804.5,1576.4v5.0M805.5,1576.5v5.9M807.5,1576.7v4.0M810.5,1577.0v6.3M811.5,1577.1v-3.4M812.5,1577.2v-4.0M813.5,1577.3v4.3M814.5,1577.4v-4.5M817.5,1577.7v3.6M818.5,1577.8v-4.8M819.5,1577.9v-6.3M820.5,1578.0v-6.1M821.5,1578.2v-3.9M822.5,1578.3v-7.0M825.5,1578.6v6.5M826.5,1578.7v4.1M830.5,1579.2v-4.9M832.5,1579.4v3.7M833.5,1579.5v-4.5M839.5,1580.2v4.9M842.5,1580.5v4.0M843.5,1580.7v-6.3M854.5,1581.9v-5.4M855.5,1582.0v-4.0M856.5,1582.1v6.2M861.5,1582.7v-5.6M862.5,1582.8v4.7M864.5,1583.0v-6.1M866.5,1583.2v-6.5M867.5,1583.3v7.0M868.5,1583.4v-4.8M869.5,1583.6v-4.9M870.5,1583.7v4.6M871.5,1583.8v3.3M876.5,1584.4v3.6M878.5,1584.6v-4.0M882.5,1585.1v-6.9M883.5,1585.2v-6.8M891.5,1586.2v-3.9M893.5,1586.5v3.7M896.5,1586.9v6.1M897.5,1587.1v-5.1M900.5,1587.5v-5.5M903.5,1588.0v-6.8M905.5,1588.3v6.2M906.5,1588.4v4.5M911.5,1589.2v4.9M913.5,1589.5v4.2M914.5,1589.7v-6.9M915.5,1589.8v-5.1M916.5,1590.0v-6.2M919.5,1590.4v4.6M921.5,1590.7v5.2M925.5,1591.3v3.1M933.5,1592.5v-5.3M934.5,1592.6v6.8M935.5,1592.8v-4.6M937.5,1593.0v-5.2M939.5,1593.3v-6.9M941.5,1593.6v-5.6M944.5,1594.0v6.6M947.5,1594.4v-3.6M950.5,1594.8v6.1M955.5,1595.5v-3.7M956.5,1595.6v5.2M957.5,1595.8v5.2M958.5,1595.9v-5.8M961.5,1596.3v-3.9M962.5,1596.4v5.0M963.5,1596.5v6.1M965.5,1596.8v4.4M967.5,1597.0v-6.9M968.5,1597.1v6.5M970.5,1597.4v-4.7M971.5,1597.5v-5.7M976.5,1598.1v6.2M979.5,1598.4v4.8M980.5,1598.6v-3.2M981.5,1598.7v-6.4M982.5,1598.8v-5.1M983.5,1598.9v6.6M984.5,1599.0v5.2M985.5,1599.1v-5.3M988.5,1599.5v-6.1M989.5,1599.6v-5.1M990.5,1599.7v3.7M991.5,1599.8v3.3" stroke="#000" stroke-width="1.2" fill="none"/>
<path d="M541.2,1858 V1549 M551,1858 V1549" stroke="#f24f22" stroke-width="3.8" stroke-dasharray="3.6,4.3" fill="none"/>
<g stroke="#262626" stroke-width="3.5"><line x1="106.5" y1="1859.5" x2="106.5" y2="1848.5"/><line x1="106.5" y1="1415.5" x2="106.5" y2="1426.5"/><line x1="326.0" y1="1859.5" x2="326.0" y2="1848.5"/><line x1="326.0" y1="1415.5" x2="326.0" y2="1426.5"/><line x1="545.5" y1="1859.5" x2="545.5" y2="1848.5"/><line x1="545.5" y1="1415.5" x2="545.5" y2="1426.5"/><line x1="765.0" y1="1859.5" x2="765.0" y2="1848.5"/><line x1="765.0" y1="1415.5" x2="765.0" y2="1426.5"/><line x1="984.5" y1="1859.5" x2="984.5" y2="1848.5"/><line x1="984.5" y1="1415.5" x2="984.5" y2="1426.5"/><line x1="106.5" y1="1859.5" x2="117.5" y2="1859.5"/><line x1="995.5" y1="1859.5" x2="984.5" y2="1859.5"/><line x1="106.5" y1="1800.3" x2="117.5" y2="1800.3"/><line x1="995.5" y1="1800.3" x2="984.5" y2="1800.3"/><line x1="106.5" y1="1741.1" x2="117.5" y2="1741.1"/><line x1="995.5" y1="1741.1" x2="984.5" y2="1741.1"/><line x1="106.5" y1="1681.9" x2="117.5" y2="1681.9"/><line x1="995.5" y1="1681.9" x2="984.5" y2="1681.9"/><line x1="106.5" y1="1622.7" x2="117.5" y2="1622.7"/><line x1="995.5" y1="1622.7" x2="984.5" y2="1622.7"/><line x1="106.5" y1="1563.5" x2="117.5" y2="1563.5"/><line x1="995.5" y1="1563.5" x2="984.5" y2="1563.5"/></g>
<rect x="106.5" y="1415.5" width="889.0" height="444.0" fill="none" stroke="#262626" stroke-width="3.5"/>
<text x="97.8" y="1869.3" font-size="31.5" text-anchor="end" fill="#262626" >0</text>
<text x="97.8" y="1810.1" font-size="31.5" text-anchor="end" fill="#262626" >0.2</text>
<text x="97.8" y="1750.9" font-size="31.5" text-anchor="end" fill="#262626" >0.4</text>
<text x="97.8" y="1691.7" font-size="31.5" text-anchor="end" fill="#262626" >0.6</text>
<text x="97.8" y="1632.5" font-size="31.5" text-anchor="end" fill="#262626" >0.8</text>
<text x="97.8" y="1573.3" font-size="31.5" text-anchor="end" fill="#262626" >1</text>
<text x="112.0" y="1889.6" font-size="32" text-anchor="middle" fill="#262626" >0</text>
<text x="326.0" y="1889.6" font-size="32" text-anchor="middle" fill="#262626" >4</text>
<text x="543.5" y="1889.6" font-size="32" text-anchor="middle" fill="#262626" >8</text>
<text x="765.0" y="1889.6" font-size="32" text-anchor="middle" fill="#262626" >12</text>
<text x="983.0" y="1889.6" font-size="32" text-anchor="middle" fill="#262626" >16</text>
<text x="480.0" y="1919.6" font-size="32" text-anchor="start" fill="#262626" >Time (μs)</text>
<text transform="translate(38.5,1679) rotate(-90)" font-size="32" text-anchor="middle" fill="#262626">Signal (a. u.)</text>
<line x1="663.7" y1="1449.4" x2="698" y2="1449.4" stroke="#0a6ecc" stroke-width="3.5"/>
<line x1="663.7" y1="1490" x2="698" y2="1490" stroke="#000" stroke-width="4"/>
<text x="705.2" y="1458.9" font-size="27.2" text-anchor="start" fill="#000" >Signal</text>
<text x="705.2" y="1499.5" font-size="27.2" text-anchor="start" fill="#000" >Scanner velocity</text>
<line x1="130" y1="1536" x2="226.5" y2="1536" stroke="#000" stroke-width="3.6" stroke-dasharray="7,5.5"/>
<path d="M117,1536 L135,1529 L130,1536 L135,1543 Z" fill="#000"/>
<path d="M238.5,1536 L220.5,1529 L225.5,1536 L220.5,1543 Z" fill="#000"/>
<line x1="258" y1="1536" x2="850" y2="1536" stroke="#000" stroke-width="3.2"/>
<path d="M245,1536 L263,1529 L258,1536 L263,1543 Z" fill="#000"/>
<path d="M862,1536 L844,1529 L849,1536 L844,1543 Z" fill="#000"/>
<line x1="880.7" y1="1536" x2="976.5" y2="1536" stroke="#000" stroke-width="3.6" stroke-dasharray="7,5.5"/>
<path d="M867.7,1536 L885.7,1529 L880.7,1536 L885.7,1543 Z" fill="#000"/>
<path d="M988.5,1536 L970.5,1529 L975.5,1536 L970.5,1543 Z" fill="#000"/>
<text x="123.3" y="1523.5" font-size="27.8" text-anchor="start" fill="#000" >‘Inactive’</text>
<text x="510.3" y="1523.0" font-size="27.8" text-anchor="start" fill="#000" >‘Active’</text>
</svg>
</body></html>
